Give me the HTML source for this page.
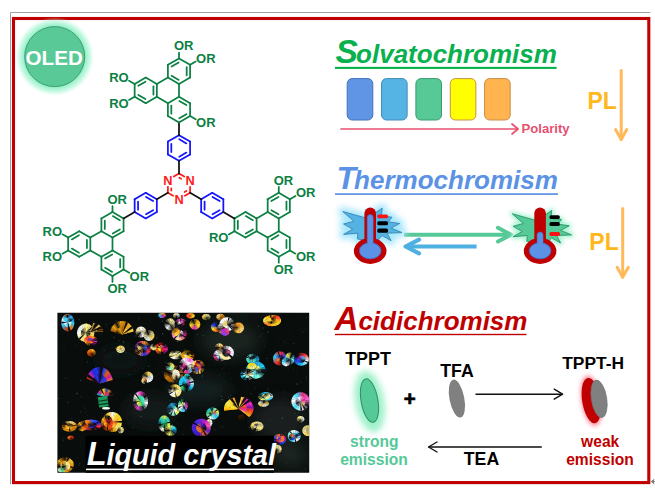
<!DOCTYPE html>
<html><head><meta charset="utf-8"><title>TPPT graphical abstract</title>
<style>html,body{margin:0;padding:0;background:#fff;}svg{display:block}text{white-space:pre}</style></head>
<body>
<svg width="655" height="491" viewBox="0 0 655 491" font-family="'Liberation Sans', sans-serif">
<path d="M10.5 484.3 V12.5 H650.4" fill="none" stroke="#a0a0a0" stroke-width="1"/>
<rect x="13.5" y="18.5" width="635.3" height="464.1" fill="none" stroke="#c00000" stroke-width="3.1"/>
<path d="M651.2 481.5 L654 479.5 L653.3 481.5 L654 483.7 Z M653 481.5 L655 481.5" stroke="#777" stroke-width="0.8" fill="#777"/>
<defs>
<radialGradient id="gOled" cx="0.5" cy="0.5" r="0.5"><stop offset="0.78" stop-color="#8ff0c4" stop-opacity="0.95"/><stop offset="0.9" stop-color="#a8f5d4" stop-opacity="0.55"/><stop offset="1" stop-color="#c8fbe6" stop-opacity="0"/></radialGradient>
<filter id="blur1" x="-30%" y="-30%" width="160%" height="160%"><feGaussianBlur stdDeviation="2.2"/></filter>
<filter id="blur2" x="-30%" y="-30%" width="160%" height="160%"><feGaussianBlur stdDeviation="3"/></filter>
<filter id="blur05" x="-30%" y="-30%" width="160%" height="160%"><feGaussianBlur stdDeviation="0.5"/></filter>
</defs>
<circle cx="54.7" cy="56.6" r="39.5" fill="url(#gOled)"/>
<circle cx="54.7" cy="56.6" r="30" fill="#59c998" stroke="#3f9d74" stroke-width="1"/>
<text x="54.2" y="64.6" font-family="'Liberation Sans', sans-serif" font-size="20.6" font-weight="bold" fill="#fff" text-anchor="middle">OLED</text>
<text aria-label="Solvatochromism" x="335.6" y="63.2" font-size="33.5" font-family="'Liberation Sans', sans-serif" font-style="italic" font-weight="bold" fill="#08b04e">S<tspan x="356.1" font-size="26">olvatochromism</tspan></text>
<rect x="335" y="66.85000000000001" width="221.60000000000002" height="2.1" fill="#08b04e"/>
<text aria-label="Thermochromism" x="336.6" y="189.2" font-size="32" font-family="'Liberation Sans', sans-serif" font-style="italic" font-weight="bold" fill="#5b92e5">T<tspan x="354.1" font-size="26">hermochromism</tspan></text>
<rect x="335" y="193.25" width="223" height="1.7" fill="#5b92e5"/>
<text aria-label="Acidichromism" x="334.5" y="329.8" font-size="33" font-family="'Liberation Sans', sans-serif" font-style="italic" font-weight="bold" fill="#c00000">A<tspan x="358.4" font-size="26">cidichromism</tspan></text>
<rect x="335" y="333.8" width="191.5" height="1.4" fill="#c00000"/>
<rect x="347.20" y="78.6" width="25.6" height="41.4" rx="5" ry="5" fill="#6095e6" stroke="#4370b6" stroke-width="1"/>
<rect x="381.55" y="78.6" width="25.6" height="41.4" rx="5" ry="5" fill="#56b4e4" stroke="#3e8cb8" stroke-width="1"/>
<rect x="415.90" y="78.6" width="25.6" height="41.4" rx="5" ry="5" fill="#56c997" stroke="#3a9a6e" stroke-width="1"/>
<rect x="450.25" y="78.6" width="25.6" height="41.4" rx="5" ry="5" fill="#ffff00" stroke="#c8904a" stroke-width="1"/>
<rect x="484.60" y="78.6" width="25.6" height="41.4" rx="5" ry="5" fill="#ffb450" stroke="#c88c46" stroke-width="1"/>
<g stroke="#e8506e" stroke-width="1.7" fill="none" stroke-linecap="round" stroke-linejoin="round"><path d="M341 129 H517.5"/><path d="M512 124 L518 129 L512 134"/></g>
<text x="521.6" y="132.5" font-family="'Liberation Sans', sans-serif" font-size="13.1" font-weight="bold" fill="#e8506e">Polarity</text>
<text x="587.5" y="108.9" font-family="'Liberation Sans', sans-serif" font-size="23.8" font-weight="bold" fill="#ffb81c" textLength="29.4" lengthAdjust="spacingAndGlyphs">PL</text>
<g stroke="#ffb95a" stroke-width="3" fill="none" stroke-linecap="round" stroke-linejoin="round"><path d="M621.2 70.5 V139.3"/><path d="M615.6 129.60000000000002 L621.2 139.60000000000002 L626.8000000000001 129.60000000000002"/></g>
<text x="589.3" y="250.4" font-family="'Liberation Sans', sans-serif" font-size="23.8" font-weight="bold" fill="#ffb81c" textLength="29.4" lengthAdjust="spacingAndGlyphs">PL</text>
<g stroke="#ffb95a" stroke-width="3" fill="none" stroke-linecap="round" stroke-linejoin="round"><path d="M622.7 208.5 V276.9"/><path d="M617.1 267.2 L622.7 277.2 L628.3000000000001 267.2"/></g>
<g stroke="#55c997" stroke-width="4" fill="none" stroke-linecap="round" stroke-linejoin="round"><path d="M404 234.7 H510" stroke-linecap="butt"/><path d="M498 227.8 L511 234.7 L498 241.6"/></g>
<g stroke="#4fb0e2" stroke-width="4.2" fill="none" stroke-linecap="round" stroke-linejoin="round"><path d="M406 246.5 H476.6" stroke-linecap="butt"/><path d="M419 239.6 L405.5 246.5 L419 253.4"/></g>
<path d="M366.0 218.0 L342.8 211.5 L353.9 221.2 L343.6 224.0 L352.7 229.2 L343.6 234.4 L357.9 233.2 L357.3 238.9 L364.0 240.0 L378.0 240.0 L382.0 235.5 L391.1 240.7 L387.1 233.2 L402.0 232.6 L391.1 228.1 L399.7 223.5 L388.2 221.8 L392.0 217.2 L381.4 216.0 L382.2 208.2 L375.0 213.0Z" fill="#a6e6fb" stroke="#a6e6fb" stroke-width="9" stroke-linejoin="round" filter="url(#blur2)"/>
<path d="M366.0 218.0 L342.8 211.5 L353.9 221.2 L343.6 224.0 L352.7 229.2 L343.6 234.4 L357.9 233.2 L357.3 238.9 L364.0 240.0 L378.0 240.0 L382.0 235.5 L391.1 240.7 L387.1 233.2 L402.0 232.6 L391.1 228.1 L399.7 223.5 L388.2 221.8 L392.0 217.2 L381.4 216.0 L382.2 208.2 L375.0 213.0Z" fill="#55b3e3" stroke="#3a86b4" stroke-width="0.9" stroke-linejoin="miter"/>
<rect x="364.4" y="207.6" width="11.6" height="40" rx="5.8" fill="#c00000"/>
<ellipse cx="370.2" cy="251" rx="16.3" ry="12.9" fill="#c00000"/>
<rect x="367.3" y="214.6" width="5.8" height="35.400000000000006" rx="2.9" fill="#5b92e5" stroke="#3f6fc4" stroke-width="0.8"/>
<ellipse cx="370.2" cy="250.8" rx="10.8" ry="8.1" fill="#5b92e5" stroke="#3f6fc4" stroke-width="0.8"/>
<rect x="367.7" y="216.6" width="5" height="31.400000000000006" fill="#5b92e5"/>
<rect x="377.3" y="214.4" width="10.699999999999989" height="3.9000000000000057" rx="1.6" fill="#ff1010"/>
<rect x="377.3" y="221.2" width="10.699999999999989" height="4.100000000000023" rx="1.6" fill="#000"/>
<rect x="377.3" y="228.5" width="10.699999999999989" height="4.300000000000011" rx="1.6" fill="#000"/>
<path d="M535.5 220.3 L512.3 213.8 L523.4 223.5 L513.1 226.3 L522.2 231.5 L513.1 236.7 L527.4 235.5 L526.8 241.2 L533.5 242.3 L547.5 242.3 L551.5 237.8 L560.6 243.0 L556.6 235.5 L571.5 234.9 L560.6 230.4 L569.2 225.8 L557.7 224.1 L561.5 219.5 L550.9 218.3 L551.7 210.5 L544.5 215.3Z" fill="#a8f3d2" stroke="#a8f3d2" stroke-width="5" stroke-linejoin="round" filter="url(#blur1)"/>
<path d="M535.5 220.3 L512.3 213.8 L523.4 223.5 L513.1 226.3 L522.2 231.5 L513.1 236.7 L527.4 235.5 L526.8 241.2 L533.5 242.3 L547.5 242.3 L551.5 237.8 L560.6 243.0 L556.6 235.5 L571.5 234.9 L560.6 230.4 L569.2 225.8 L557.7 224.1 L561.5 219.5 L550.9 218.3 L551.7 210.5 L544.5 215.3Z" fill="#55c997" stroke="#2f9468" stroke-width="0.9" stroke-linejoin="miter"/>
<rect x="534.3000000000001" y="207.6" width="11.6" height="40" rx="5.8" fill="#c00000"/>
<ellipse cx="540.1" cy="251" rx="16.3" ry="12.9" fill="#c00000"/>
<rect x="537.2" y="232.0" width="5.8" height="18.0" rx="2.9" fill="#5b92e5" stroke="#3f6fc4" stroke-width="0.8"/>
<ellipse cx="540.1" cy="250.8" rx="10.8" ry="8.1" fill="#5b92e5" stroke="#3f6fc4" stroke-width="0.8"/>
<rect x="537.6" y="234.0" width="5" height="14.0" fill="#5b92e5"/>
<rect x="549.5" y="215.2" width="10.299999999999955" height="3.9000000000000057" rx="1.6" fill="#000"/>
<rect x="549.5" y="222.1" width="10.299999999999955" height="4.0" rx="1.6" fill="#000"/>
<rect x="549.5" y="232" width="10.5" height="4.099999999999994" rx="1.6" fill="#ff1010"/>
<text id="" x="345.2" y="364.7" font-family="'Liberation Sans', sans-serif" font-size="17.9" font-weight="bold" fill="#000" text-anchor="start">TPPT</text>
<text id="" x="440.3" y="376.6" font-family="'Liberation Sans', sans-serif" font-size="17.7" font-weight="bold" fill="#000" text-anchor="start">TFA</text>
<text id="" x="562.2" y="369.4" font-family="'Liberation Sans', sans-serif" font-size="17.4" font-weight="bold" fill="#000" text-anchor="start">TPPT-H</text>
<text id="" x="463.8" y="464.9" font-family="'Liberation Sans', sans-serif" font-size="17.7" font-weight="bold" fill="#000" text-anchor="start">TEA</text>
<text x="409.8" y="405.9" font-family="'Liberation Sans', sans-serif" font-size="20.5" font-weight="bold" fill="#000" stroke="#000" stroke-width="0.7" text-anchor="middle">+</text>
<text id="" x="374.3" y="447.0" font-family="'Liberation Sans', sans-serif" font-size="15.6" font-weight="bold" fill="#55c997" text-anchor="middle">strong</text>
<text id="" x="374.0" y="464.9" font-family="'Liberation Sans', sans-serif" font-size="15.6" font-weight="bold" fill="#55c997" text-anchor="middle">emission</text>
<text id="" x="600.2" y="447.0" font-family="'Liberation Sans', sans-serif" font-size="15.6" font-weight="bold" fill="#c00000" text-anchor="middle">weak</text>
<text id="" x="600.0" y="464.9" font-family="'Liberation Sans', sans-serif" font-size="15.6" font-weight="bold" fill="#c00000" text-anchor="middle">emission</text>
<ellipse cx="369.4" cy="401.5" rx="14.5" ry="31" fill="#9ff1ca" filter="url(#blur2)" transform="rotate(-10 369.4 400)"/>
<ellipse cx="369.4" cy="400.6" rx="8.4" ry="22" fill="#55c997" stroke="#2f8e63" stroke-width="1" transform="rotate(-10 369.4 400)"/>
<ellipse cx="456.9" cy="398.6" rx="7.4" ry="19.3" fill="#808080" transform="rotate(-11 456.9 398.6)"/>
<ellipse cx="591.4" cy="400.8" rx="10" ry="25.5" fill="#ff6a80" opacity="0.8" filter="url(#blur1)" transform="rotate(-9 591.2 400.8)"/>
<ellipse cx="591.4" cy="400.6" rx="9.2" ry="22.9" fill="#c00000" transform="rotate(-9 591.2 400.8)"/>
<ellipse cx="599" cy="398.8" rx="7.7" ry="19" fill="#808080" stroke="#6f7878" stroke-width="0.7" transform="rotate(-9 599.2 398.6)"/>
<g stroke="#111" stroke-width="1.4" fill="none" stroke-linecap="round" stroke-linejoin="round"><path d="M476 394.2 H562"/><path d="M554.2 389.2 L562.6 394.2 L554.2 399.2"/><path d="M541.3 447 H429"/><path d="M437 442 L428.5 447 L437 452"/></g>
<g id="mol" stroke-linecap="round" font-family="'Liberation Sans', sans-serif">
<line x1="179.00" y1="173.60" x2="184.20" y2="176.60" stroke="#ff1a1a" stroke-width="1.75"/>
<line x1="179.29" y1="177.69" x2="181.11" y2="178.74" stroke="#ff1a1a" stroke-width="1.75"/>
<line x1="190.09" y1="186.80" x2="190.09" y2="192.80" stroke="#ff1a1a" stroke-width="1.75"/>
<line x1="190.09" y1="192.80" x2="184.89" y2="195.80" stroke="#ff1a1a" stroke-width="1.75"/>
<line x1="186.39" y1="191.01" x2="184.57" y2="192.06" stroke="#ff1a1a" stroke-width="1.75"/>
<line x1="173.11" y1="195.80" x2="167.91" y2="192.80" stroke="#ff1a1a" stroke-width="1.75"/>
<line x1="167.91" y1="192.80" x2="167.91" y2="186.80" stroke="#ff1a1a" stroke-width="1.75"/>
<line x1="171.31" y1="190.50" x2="171.31" y2="188.40" stroke="#ff1a1a" stroke-width="1.75"/>
<line x1="173.80" y1="176.60" x2="179.00" y2="173.60" stroke="#ff1a1a" stroke-width="1.75"/>
<text x="190.09" y="185.00" fill="#ff1a1a" font-size="12.8" font-weight="bold" text-anchor="middle">N</text>
<text x="179.00" y="204.20" fill="#ff1a1a" font-size="12.8" font-weight="bold" text-anchor="middle">N</text>
<text x="167.91" y="185.00" fill="#ff1a1a" font-size="12.8" font-weight="bold" text-anchor="middle">N</text>
<line x1="179.00" y1="135.20" x2="190.09" y2="141.60" stroke="#1414ff" stroke-width="1.75"/>
<line x1="179.29" y1="139.29" x2="186.39" y2="143.39" stroke="#1414ff" stroke-width="1.75"/>
<line x1="190.09" y1="141.60" x2="190.09" y2="154.40" stroke="#1414ff" stroke-width="1.75"/>
<line x1="190.09" y1="154.40" x2="179.00" y2="160.80" stroke="#1414ff" stroke-width="1.75"/>
<line x1="186.39" y1="152.61" x2="179.29" y2="156.71" stroke="#1414ff" stroke-width="1.75"/>
<line x1="179.00" y1="160.80" x2="167.91" y2="154.40" stroke="#1414ff" stroke-width="1.75"/>
<line x1="167.91" y1="154.40" x2="167.91" y2="141.60" stroke="#1414ff" stroke-width="1.75"/>
<line x1="171.31" y1="152.10" x2="171.31" y2="143.90" stroke="#1414ff" stroke-width="1.75"/>
<line x1="167.91" y1="141.60" x2="179.00" y2="135.20" stroke="#1414ff" stroke-width="1.75"/>
<line x1="179.00" y1="173.60" x2="179.00" y2="160.80" stroke="#111111" stroke-width="1.75"/>
<line x1="179.00" y1="135.20" x2="179.00" y2="122.40" stroke="#111111" stroke-width="1.75"/>
<line x1="179.00" y1="96.80" x2="190.09" y2="103.20" stroke="#0b8043" stroke-width="1.75"/>
<line x1="179.29" y1="100.89" x2="186.39" y2="104.99" stroke="#0b8043" stroke-width="1.75"/>
<line x1="190.09" y1="103.20" x2="190.09" y2="116.00" stroke="#0b8043" stroke-width="1.75"/>
<line x1="190.09" y1="116.00" x2="179.00" y2="122.40" stroke="#0b8043" stroke-width="1.75"/>
<line x1="186.39" y1="114.21" x2="179.29" y2="118.31" stroke="#0b8043" stroke-width="1.75"/>
<line x1="179.00" y1="122.40" x2="167.91" y2="116.00" stroke="#0b8043" stroke-width="1.75"/>
<line x1="167.91" y1="116.00" x2="167.91" y2="103.20" stroke="#0b8043" stroke-width="1.75"/>
<line x1="171.31" y1="113.70" x2="171.31" y2="105.50" stroke="#0b8043" stroke-width="1.75"/>
<line x1="167.91" y1="103.20" x2="179.00" y2="96.80" stroke="#0b8043" stroke-width="1.75"/>
<line x1="179.00" y1="58.40" x2="190.09" y2="64.80" stroke="#0b8043" stroke-width="1.75"/>
<line x1="190.09" y1="64.80" x2="190.09" y2="77.60" stroke="#0b8043" stroke-width="1.75"/>
<line x1="186.69" y1="67.10" x2="186.69" y2="75.30" stroke="#0b8043" stroke-width="1.75"/>
<line x1="190.09" y1="77.60" x2="179.00" y2="84.00" stroke="#0b8043" stroke-width="1.75"/>
<line x1="179.00" y1="84.00" x2="167.91" y2="77.60" stroke="#0b8043" stroke-width="1.75"/>
<line x1="178.71" y1="79.91" x2="171.61" y2="75.81" stroke="#0b8043" stroke-width="1.75"/>
<line x1="167.91" y1="77.60" x2="167.91" y2="64.80" stroke="#0b8043" stroke-width="1.75"/>
<line x1="167.91" y1="64.80" x2="179.00" y2="58.40" stroke="#0b8043" stroke-width="1.75"/>
<line x1="171.61" y1="66.59" x2="178.71" y2="62.49" stroke="#0b8043" stroke-width="1.75"/>
<line x1="145.74" y1="77.60" x2="156.83" y2="84.00" stroke="#0b8043" stroke-width="1.75"/>
<line x1="156.83" y1="84.00" x2="156.83" y2="96.80" stroke="#0b8043" stroke-width="1.75"/>
<line x1="153.43" y1="86.30" x2="153.43" y2="94.50" stroke="#0b8043" stroke-width="1.75"/>
<line x1="156.83" y1="96.80" x2="145.74" y2="103.20" stroke="#0b8043" stroke-width="1.75"/>
<line x1="145.74" y1="103.20" x2="134.66" y2="96.80" stroke="#0b8043" stroke-width="1.75"/>
<line x1="145.45" y1="99.11" x2="138.35" y2="95.01" stroke="#0b8043" stroke-width="1.75"/>
<line x1="134.66" y1="96.80" x2="134.66" y2="84.00" stroke="#0b8043" stroke-width="1.75"/>
<line x1="134.66" y1="84.00" x2="145.74" y2="77.60" stroke="#0b8043" stroke-width="1.75"/>
<line x1="138.35" y1="85.79" x2="145.45" y2="81.69" stroke="#0b8043" stroke-width="1.75"/>
<line x1="179.00" y1="84.00" x2="179.00" y2="96.80" stroke="#0b8043" stroke-width="1.75"/>
<line x1="167.91" y1="77.60" x2="156.83" y2="84.00" stroke="#0b8043" stroke-width="1.75"/>
<line x1="167.91" y1="103.20" x2="156.83" y2="96.80" stroke="#0b8043" stroke-width="1.75"/>
<line x1="179.00" y1="58.40" x2="179.00" y2="52.50" stroke="#0b8043" stroke-width="1.75"/>
<text x="173.94" y="50.20" fill="#0b8043" font-size="13.0" font-weight="bold">OR</text>
<line x1="190.09" y1="64.80" x2="195.71" y2="61.55" stroke="#0b8043" stroke-width="1.75"/>
<text x="196.11" y="63.00" fill="#0b8043" font-size="13.0" font-weight="bold">OR</text>
<line x1="134.66" y1="84.00" x2="129.03" y2="80.75" stroke="#0b8043" stroke-width="1.75"/>
<text x="128.63" y="82.20" fill="#0b8043" font-size="13.0" font-weight="bold" text-anchor="end">RO</text>
<line x1="134.66" y1="96.80" x2="129.03" y2="100.05" stroke="#0b8043" stroke-width="1.75"/>
<text x="128.63" y="107.80" fill="#0b8043" font-size="13.0" font-weight="bold" text-anchor="end">RO</text>
<line x1="190.09" y1="116.00" x2="195.71" y2="119.25" stroke="#0b8043" stroke-width="1.75"/>
<text x="196.11" y="127.00" fill="#0b8043" font-size="13.0" font-weight="bold">OR</text>
<line x1="145.74" y1="192.80" x2="156.83" y2="199.20" stroke="#1414ff" stroke-width="1.75"/>
<line x1="146.04" y1="196.89" x2="153.14" y2="200.99" stroke="#1414ff" stroke-width="1.75"/>
<line x1="156.83" y1="199.20" x2="156.83" y2="212.00" stroke="#1414ff" stroke-width="1.75"/>
<line x1="156.83" y1="212.00" x2="145.74" y2="218.40" stroke="#1414ff" stroke-width="1.75"/>
<line x1="153.14" y1="210.21" x2="146.04" y2="214.31" stroke="#1414ff" stroke-width="1.75"/>
<line x1="145.74" y1="218.40" x2="134.66" y2="212.00" stroke="#1414ff" stroke-width="1.75"/>
<line x1="134.66" y1="212.00" x2="134.66" y2="199.20" stroke="#1414ff" stroke-width="1.75"/>
<line x1="138.06" y1="209.70" x2="138.06" y2="201.50" stroke="#1414ff" stroke-width="1.75"/>
<line x1="134.66" y1="199.20" x2="145.74" y2="192.80" stroke="#1414ff" stroke-width="1.75"/>
<line x1="167.91" y1="192.80" x2="156.83" y2="199.20" stroke="#111111" stroke-width="1.75"/>
<line x1="112.49" y1="212.00" x2="123.57" y2="218.40" stroke="#0b8043" stroke-width="1.75"/>
<line x1="112.78" y1="216.09" x2="119.88" y2="220.19" stroke="#0b8043" stroke-width="1.75"/>
<line x1="123.57" y1="218.40" x2="123.57" y2="231.20" stroke="#0b8043" stroke-width="1.75"/>
<line x1="123.57" y1="231.20" x2="112.49" y2="237.60" stroke="#0b8043" stroke-width="1.75"/>
<line x1="119.88" y1="229.41" x2="112.78" y2="233.51" stroke="#0b8043" stroke-width="1.75"/>
<line x1="112.49" y1="237.60" x2="101.40" y2="231.20" stroke="#0b8043" stroke-width="1.75"/>
<line x1="101.40" y1="231.20" x2="101.40" y2="218.40" stroke="#0b8043" stroke-width="1.75"/>
<line x1="104.80" y1="228.90" x2="104.80" y2="220.70" stroke="#0b8043" stroke-width="1.75"/>
<line x1="101.40" y1="218.40" x2="112.49" y2="212.00" stroke="#0b8043" stroke-width="1.75"/>
<line x1="134.66" y1="212.00" x2="123.57" y2="218.40" stroke="#111111" stroke-width="1.75"/>
<line x1="112.49" y1="250.40" x2="123.57" y2="256.80" stroke="#0b8043" stroke-width="1.75"/>
<line x1="123.57" y1="256.80" x2="123.57" y2="269.60" stroke="#0b8043" stroke-width="1.75"/>
<line x1="120.17" y1="259.10" x2="120.17" y2="267.30" stroke="#0b8043" stroke-width="1.75"/>
<line x1="123.57" y1="269.60" x2="112.49" y2="276.00" stroke="#0b8043" stroke-width="1.75"/>
<line x1="112.49" y1="276.00" x2="101.40" y2="269.60" stroke="#0b8043" stroke-width="1.75"/>
<line x1="112.20" y1="271.91" x2="105.10" y2="267.81" stroke="#0b8043" stroke-width="1.75"/>
<line x1="101.40" y1="269.60" x2="101.40" y2="256.80" stroke="#0b8043" stroke-width="1.75"/>
<line x1="101.40" y1="256.80" x2="112.49" y2="250.40" stroke="#0b8043" stroke-width="1.75"/>
<line x1="105.10" y1="258.59" x2="112.20" y2="254.49" stroke="#0b8043" stroke-width="1.75"/>
<line x1="79.23" y1="231.20" x2="90.32" y2="237.60" stroke="#0b8043" stroke-width="1.75"/>
<line x1="90.32" y1="237.60" x2="90.32" y2="250.40" stroke="#0b8043" stroke-width="1.75"/>
<line x1="86.92" y1="239.90" x2="86.92" y2="248.10" stroke="#0b8043" stroke-width="1.75"/>
<line x1="90.32" y1="250.40" x2="79.23" y2="256.80" stroke="#0b8043" stroke-width="1.75"/>
<line x1="79.23" y1="256.80" x2="68.15" y2="250.40" stroke="#0b8043" stroke-width="1.75"/>
<line x1="78.94" y1="252.71" x2="71.84" y2="248.61" stroke="#0b8043" stroke-width="1.75"/>
<line x1="68.15" y1="250.40" x2="68.15" y2="237.60" stroke="#0b8043" stroke-width="1.75"/>
<line x1="68.15" y1="237.60" x2="79.23" y2="231.20" stroke="#0b8043" stroke-width="1.75"/>
<line x1="71.84" y1="239.39" x2="78.94" y2="235.29" stroke="#0b8043" stroke-width="1.75"/>
<line x1="112.49" y1="237.60" x2="112.49" y2="250.40" stroke="#0b8043" stroke-width="1.75"/>
<line x1="101.40" y1="231.20" x2="90.32" y2="237.60" stroke="#0b8043" stroke-width="1.75"/>
<line x1="101.40" y1="256.80" x2="90.32" y2="250.40" stroke="#0b8043" stroke-width="1.75"/>
<line x1="112.49" y1="212.00" x2="112.49" y2="206.10" stroke="#0b8043" stroke-width="1.75"/>
<text x="107.43" y="203.80" fill="#0b8043" font-size="13.0" font-weight="bold">OR</text>
<line x1="68.15" y1="237.60" x2="62.52" y2="234.35" stroke="#0b8043" stroke-width="1.75"/>
<text x="62.12" y="235.80" fill="#0b8043" font-size="13.0" font-weight="bold" text-anchor="end">RO</text>
<line x1="68.15" y1="250.40" x2="62.52" y2="253.65" stroke="#0b8043" stroke-width="1.75"/>
<text x="62.12" y="261.40" fill="#0b8043" font-size="13.0" font-weight="bold" text-anchor="end">RO</text>
<line x1="123.57" y1="269.60" x2="129.20" y2="272.85" stroke="#0b8043" stroke-width="1.75"/>
<text x="129.60" y="280.60" fill="#0b8043" font-size="13.0" font-weight="bold">OR</text>
<line x1="112.49" y1="276.00" x2="112.49" y2="281.90" stroke="#0b8043" stroke-width="1.75"/>
<text x="107.43" y="293.40" fill="#0b8043" font-size="13.0" font-weight="bold">OR</text>
<line x1="212.26" y1="192.80" x2="223.34" y2="199.20" stroke="#1414ff" stroke-width="1.75"/>
<line x1="212.55" y1="196.89" x2="219.65" y2="200.99" stroke="#1414ff" stroke-width="1.75"/>
<line x1="223.34" y1="199.20" x2="223.34" y2="212.00" stroke="#1414ff" stroke-width="1.75"/>
<line x1="223.34" y1="212.00" x2="212.26" y2="218.40" stroke="#1414ff" stroke-width="1.75"/>
<line x1="219.65" y1="210.21" x2="212.55" y2="214.31" stroke="#1414ff" stroke-width="1.75"/>
<line x1="212.26" y1="218.40" x2="201.17" y2="212.00" stroke="#1414ff" stroke-width="1.75"/>
<line x1="201.17" y1="212.00" x2="201.17" y2="199.20" stroke="#1414ff" stroke-width="1.75"/>
<line x1="204.57" y1="209.70" x2="204.57" y2="201.50" stroke="#1414ff" stroke-width="1.75"/>
<line x1="201.17" y1="199.20" x2="212.26" y2="192.80" stroke="#1414ff" stroke-width="1.75"/>
<line x1="190.09" y1="192.80" x2="201.17" y2="199.20" stroke="#111111" stroke-width="1.75"/>
<line x1="245.51" y1="212.00" x2="256.60" y2="218.40" stroke="#0b8043" stroke-width="1.75"/>
<line x1="245.80" y1="216.09" x2="252.90" y2="220.19" stroke="#0b8043" stroke-width="1.75"/>
<line x1="256.60" y1="218.40" x2="256.60" y2="231.20" stroke="#0b8043" stroke-width="1.75"/>
<line x1="256.60" y1="231.20" x2="245.51" y2="237.60" stroke="#0b8043" stroke-width="1.75"/>
<line x1="252.90" y1="229.41" x2="245.80" y2="233.51" stroke="#0b8043" stroke-width="1.75"/>
<line x1="245.51" y1="237.60" x2="234.43" y2="231.20" stroke="#0b8043" stroke-width="1.75"/>
<line x1="234.43" y1="231.20" x2="234.43" y2="218.40" stroke="#0b8043" stroke-width="1.75"/>
<line x1="237.83" y1="228.90" x2="237.83" y2="220.70" stroke="#0b8043" stroke-width="1.75"/>
<line x1="234.43" y1="218.40" x2="245.51" y2="212.00" stroke="#0b8043" stroke-width="1.75"/>
<line x1="223.34" y1="212.00" x2="234.43" y2="218.40" stroke="#111111" stroke-width="1.75"/>
<line x1="278.77" y1="192.80" x2="289.85" y2="199.20" stroke="#0b8043" stroke-width="1.75"/>
<line x1="289.85" y1="199.20" x2="289.85" y2="212.00" stroke="#0b8043" stroke-width="1.75"/>
<line x1="286.45" y1="201.50" x2="286.45" y2="209.70" stroke="#0b8043" stroke-width="1.75"/>
<line x1="289.85" y1="212.00" x2="278.77" y2="218.40" stroke="#0b8043" stroke-width="1.75"/>
<line x1="278.77" y1="218.40" x2="267.68" y2="212.00" stroke="#0b8043" stroke-width="1.75"/>
<line x1="278.47" y1="214.31" x2="271.37" y2="210.21" stroke="#0b8043" stroke-width="1.75"/>
<line x1="267.68" y1="212.00" x2="267.68" y2="199.20" stroke="#0b8043" stroke-width="1.75"/>
<line x1="267.68" y1="199.20" x2="278.77" y2="192.80" stroke="#0b8043" stroke-width="1.75"/>
<line x1="271.37" y1="200.99" x2="278.47" y2="196.89" stroke="#0b8043" stroke-width="1.75"/>
<line x1="278.77" y1="231.20" x2="289.85" y2="237.60" stroke="#0b8043" stroke-width="1.75"/>
<line x1="289.85" y1="237.60" x2="289.85" y2="250.40" stroke="#0b8043" stroke-width="1.75"/>
<line x1="286.45" y1="239.90" x2="286.45" y2="248.10" stroke="#0b8043" stroke-width="1.75"/>
<line x1="289.85" y1="250.40" x2="278.77" y2="256.80" stroke="#0b8043" stroke-width="1.75"/>
<line x1="278.77" y1="256.80" x2="267.68" y2="250.40" stroke="#0b8043" stroke-width="1.75"/>
<line x1="278.47" y1="252.71" x2="271.37" y2="248.61" stroke="#0b8043" stroke-width="1.75"/>
<line x1="267.68" y1="250.40" x2="267.68" y2="237.60" stroke="#0b8043" stroke-width="1.75"/>
<line x1="267.68" y1="237.60" x2="278.77" y2="231.20" stroke="#0b8043" stroke-width="1.75"/>
<line x1="271.37" y1="239.39" x2="278.47" y2="235.29" stroke="#0b8043" stroke-width="1.75"/>
<line x1="278.77" y1="218.40" x2="278.77" y2="231.20" stroke="#0b8043" stroke-width="1.75"/>
<line x1="267.68" y1="212.00" x2="256.60" y2="218.40" stroke="#0b8043" stroke-width="1.75"/>
<line x1="267.68" y1="237.60" x2="256.60" y2="231.20" stroke="#0b8043" stroke-width="1.75"/>
<line x1="234.43" y1="231.20" x2="228.80" y2="234.45" stroke="#0b8043" stroke-width="1.75"/>
<text x="228.40" y="242.20" fill="#0b8043" font-size="13.0" font-weight="bold" text-anchor="end">RO</text>
<line x1="278.77" y1="192.80" x2="278.77" y2="186.90" stroke="#0b8043" stroke-width="1.75"/>
<text x="273.71" y="184.60" fill="#0b8043" font-size="13.0" font-weight="bold">OR</text>
<line x1="289.85" y1="199.20" x2="295.48" y2="195.95" stroke="#0b8043" stroke-width="1.75"/>
<text x="295.88" y="197.40" fill="#0b8043" font-size="13.0" font-weight="bold">OR</text>
<line x1="289.85" y1="250.40" x2="295.48" y2="253.65" stroke="#0b8043" stroke-width="1.75"/>
<text x="295.88" y="261.40" fill="#0b8043" font-size="13.0" font-weight="bold">OR</text>
<line x1="278.77" y1="256.80" x2="278.77" y2="262.70" stroke="#0b8043" stroke-width="1.75"/>
<text x="273.71" y="274.20" fill="#0b8043" font-size="13.0" font-weight="bold">OR</text>
</g>
<defs><clipPath id="lcclip"><rect x="57.4" y="312.7" width="251.8" height="160.1"/></clipPath><filter id="lcb" x="-5%" y="-5%" width="110%" height="110%"><feGaussianBlur stdDeviation="0.6"/></filter><filter id="lcbg" x="-20%" y="-20%" width="140%" height="140%"><feGaussianBlur stdDeviation="7"/></filter></defs>
<g clip-path="url(#lcclip)">
<rect x="57" y="312" width="253" height="161" fill="#090e0c"/>
<g filter="url(#lcbg)" opacity="0.9">
<ellipse cx="230" cy="340" rx="30" ry="18" fill="#1c2624"/>
<ellipse cx="280" cy="420" rx="26" ry="22" fill="#1a2422"/>
<ellipse cx="150" cy="410" rx="26" ry="16" fill="#141c1a"/>
<ellipse cx="200" cy="390" rx="30" ry="14" fill="#182220"/>
<ellipse cx="120" cy="360" rx="24" ry="14" fill="#101614"/>
<ellipse cx="290" cy="455" rx="18" ry="14" fill="#1c2824"/>
<ellipse cx="250" cy="300" rx="40" ry="14" fill="#141c1a"/>
</g>
<g opacity="0.8"><circle cx="139.0" cy="337.0" r="0.63" fill="#2c4c4a"/><circle cx="263.3" cy="328.0" r="0.59" fill="#486a66"/><circle cx="111.7" cy="326.7" r="0.51" fill="#1e3a3c"/><circle cx="80.7" cy="380.5" r="0.71" fill="#2c4c4a"/><circle cx="294.9" cy="413.3" r="0.59" fill="#2c4c4a"/><circle cx="202.3" cy="376.1" r="0.79" fill="#2c4c4a"/><circle cx="197.2" cy="334.2" r="0.51" fill="#486a66"/><circle cx="87.4" cy="362.0" r="0.71" fill="#1e3a3c"/><circle cx="83.8" cy="403.8" r="0.39" fill="#2c4c4a"/><circle cx="194.9" cy="323.0" r="0.33" fill="#1e3a3c"/><circle cx="182.1" cy="397.5" r="0.69" fill="#243c38"/><circle cx="204.4" cy="385.1" r="0.45" fill="#1e3a3c"/><circle cx="232.7" cy="351.8" r="0.59" fill="#486a66"/><circle cx="181.8" cy="367.6" r="0.52" fill="#486a66"/><circle cx="303.0" cy="331.8" r="0.51" fill="#35605c"/><circle cx="96.0" cy="390.7" r="0.32" fill="#2c4c4a"/><circle cx="249.1" cy="404.1" r="0.74" fill="#35605c"/><circle cx="143.0" cy="368.7" r="0.55" fill="#243c38"/><circle cx="75.2" cy="327.9" r="0.43" fill="#2c4c4a"/><circle cx="73.2" cy="424.5" r="0.62" fill="#243c38"/><circle cx="129.1" cy="374.3" r="0.63" fill="#2c4c4a"/><circle cx="293.2" cy="369.5" r="0.61" fill="#243c38"/><circle cx="72.7" cy="435.1" r="0.36" fill="#1e3a3c"/><circle cx="157.5" cy="458.8" r="0.55" fill="#1e3a3c"/><circle cx="170.3" cy="400.4" r="0.74" fill="#243c38"/><circle cx="274.0" cy="357.3" r="0.51" fill="#35605c"/><circle cx="228.7" cy="373.5" r="0.42" fill="#2c4c4a"/><circle cx="102.1" cy="349.9" r="0.42" fill="#243c38"/><circle cx="265.8" cy="342.0" r="0.44" fill="#1e3a3c"/><circle cx="162.7" cy="371.7" r="0.58" fill="#1e3a3c"/><circle cx="230.6" cy="395.0" r="0.61" fill="#2c4c4a"/><circle cx="172.2" cy="451.5" r="0.78" fill="#486a66"/><circle cx="156.1" cy="376.4" r="0.35" fill="#243c38"/><circle cx="73.6" cy="323.7" r="0.40" fill="#1e3a3c"/><circle cx="85.5" cy="408.5" r="0.35" fill="#486a66"/><circle cx="95.8" cy="329.1" r="0.48" fill="#2c4c4a"/><circle cx="75.6" cy="346.1" r="0.49" fill="#35605c"/><circle cx="296.9" cy="408.8" r="0.54" fill="#2c4c4a"/><circle cx="270.2" cy="470.9" r="0.53" fill="#243c38"/><circle cx="136.0" cy="335.9" r="0.67" fill="#35605c"/><circle cx="177.7" cy="423.0" r="0.56" fill="#1e3a3c"/><circle cx="295.7" cy="397.0" r="0.37" fill="#486a66"/><circle cx="286.5" cy="433.5" r="0.45" fill="#2c4c4a"/><circle cx="232.0" cy="354.5" r="0.48" fill="#1e3a3c"/><circle cx="146.9" cy="348.4" r="0.57" fill="#486a66"/><circle cx="140.4" cy="348.5" r="0.71" fill="#1e3a3c"/><circle cx="259.5" cy="443.1" r="0.67" fill="#1e3a3c"/><circle cx="108.0" cy="391.4" r="0.67" fill="#2c4c4a"/><circle cx="255.5" cy="388.1" r="0.40" fill="#486a66"/><circle cx="297.1" cy="384.1" r="0.77" fill="#35605c"/><circle cx="296.8" cy="371.0" r="0.41" fill="#1e3a3c"/><circle cx="175.5" cy="366.7" r="0.54" fill="#486a66"/><circle cx="268.1" cy="389.2" r="0.63" fill="#2c4c4a"/><circle cx="266.7" cy="332.1" r="0.49" fill="#1e3a3c"/><circle cx="177.5" cy="341.4" r="0.69" fill="#35605c"/><circle cx="79.7" cy="463.4" r="0.66" fill="#243c38"/><circle cx="158.3" cy="463.5" r="0.66" fill="#1e3a3c"/><circle cx="306.3" cy="317.4" r="0.60" fill="#243c38"/><circle cx="259.6" cy="336.2" r="0.71" fill="#243c38"/><circle cx="222.3" cy="368.7" r="0.57" fill="#1e3a3c"/><circle cx="63.3" cy="440.1" r="0.66" fill="#2c4c4a"/><circle cx="189.6" cy="461.4" r="0.52" fill="#1e3a3c"/><circle cx="264.5" cy="346.6" r="0.43" fill="#35605c"/><circle cx="183.3" cy="434.4" r="0.46" fill="#486a66"/><circle cx="162.8" cy="333.8" r="0.76" fill="#35605c"/><circle cx="282.4" cy="418.3" r="0.71" fill="#486a66"/><circle cx="163.2" cy="458.9" r="0.55" fill="#486a66"/><circle cx="96.0" cy="394.2" r="0.74" fill="#1e3a3c"/><circle cx="210.1" cy="436.4" r="0.37" fill="#1e3a3c"/><circle cx="176.4" cy="428.3" r="0.58" fill="#35605c"/><circle cx="228.6" cy="397.4" r="0.54" fill="#2c4c4a"/><circle cx="278.8" cy="322.0" r="0.40" fill="#2c4c4a"/><circle cx="251.1" cy="393.7" r="0.58" fill="#2c4c4a"/><circle cx="168.8" cy="410.4" r="0.55" fill="#486a66"/><circle cx="107.9" cy="357.1" r="0.55" fill="#243c38"/><circle cx="184.9" cy="352.4" r="0.56" fill="#35605c"/><circle cx="288.7" cy="454.9" r="0.40" fill="#243c38"/><circle cx="92.3" cy="332.3" r="0.52" fill="#2c4c4a"/><circle cx="225.8" cy="381.1" r="0.41" fill="#35605c"/><circle cx="254.0" cy="455.6" r="0.38" fill="#35605c"/><circle cx="93.7" cy="453.4" r="0.78" fill="#1e3a3c"/><circle cx="244.7" cy="328.0" r="0.74" fill="#1e3a3c"/><circle cx="305.5" cy="445.4" r="0.38" fill="#243c38"/><circle cx="306.5" cy="377.2" r="0.51" fill="#35605c"/><circle cx="137.6" cy="427.8" r="0.31" fill="#486a66"/><circle cx="172.7" cy="424.8" r="0.49" fill="#486a66"/><circle cx="214.0" cy="394.4" r="0.33" fill="#1e3a3c"/><circle cx="300.9" cy="329.7" r="0.43" fill="#2c4c4a"/><circle cx="284.5" cy="341.9" r="0.68" fill="#243c38"/><circle cx="270.4" cy="420.5" r="0.77" fill="#243c38"/><circle cx="95.3" cy="459.1" r="0.59" fill="#35605c"/><circle cx="80.4" cy="322.1" r="0.64" fill="#243c38"/><circle cx="281.8" cy="355.8" r="0.31" fill="#2c4c4a"/><circle cx="258.4" cy="326.3" r="0.73" fill="#2c4c4a"/><circle cx="124.1" cy="332.3" r="0.31" fill="#486a66"/><circle cx="162.4" cy="458.6" r="0.61" fill="#2c4c4a"/><circle cx="189.7" cy="350.9" r="0.35" fill="#1e3a3c"/><circle cx="123.5" cy="341.8" r="0.77" fill="#35605c"/><circle cx="190.8" cy="345.7" r="0.52" fill="#1e3a3c"/><circle cx="125.6" cy="440.8" r="0.80" fill="#2c4c4a"/><circle cx="61.8" cy="429.6" r="0.58" fill="#1e3a3c"/><circle cx="186.6" cy="352.1" r="0.52" fill="#243c38"/><circle cx="222.1" cy="399.8" r="0.74" fill="#486a66"/><circle cx="134.9" cy="347.2" r="0.41" fill="#1e3a3c"/><circle cx="266.1" cy="425.4" r="0.62" fill="#243c38"/><circle cx="305.4" cy="469.1" r="0.72" fill="#2c4c4a"/><circle cx="75.7" cy="430.8" r="0.43" fill="#1e3a3c"/><circle cx="71.9" cy="418.8" r="0.49" fill="#486a66"/><circle cx="225.6" cy="357.8" r="0.42" fill="#35605c"/><circle cx="69.3" cy="342.5" r="0.43" fill="#2c4c4a"/><circle cx="123.8" cy="465.9" r="0.79" fill="#486a66"/><circle cx="138.9" cy="318.5" r="0.74" fill="#1e3a3c"/><circle cx="147.1" cy="313.2" r="0.49" fill="#243c38"/><circle cx="127.7" cy="417.3" r="0.42" fill="#2c4c4a"/><circle cx="80.7" cy="442.9" r="0.37" fill="#486a66"/><circle cx="68.4" cy="316.6" r="0.45" fill="#1e3a3c"/><circle cx="79.1" cy="465.3" r="0.73" fill="#1e3a3c"/><circle cx="222.4" cy="426.8" r="0.74" fill="#243c38"/><circle cx="249.1" cy="427.6" r="0.55" fill="#35605c"/><circle cx="239.0" cy="415.3" r="0.32" fill="#486a66"/><circle cx="214.8" cy="429.7" r="0.71" fill="#1e3a3c"/><circle cx="285.5" cy="432.7" r="0.58" fill="#2c4c4a"/><circle cx="264.6" cy="405.9" r="0.75" fill="#1e3a3c"/><circle cx="79.3" cy="319.7" r="0.62" fill="#2c4c4a"/><circle cx="152.2" cy="384.8" r="0.33" fill="#2c4c4a"/><circle cx="214.6" cy="421.2" r="0.54" fill="#2c4c4a"/><circle cx="172.2" cy="324.1" r="0.77" fill="#486a66"/><circle cx="81.0" cy="396.6" r="0.67" fill="#243c38"/><circle cx="121.0" cy="324.8" r="0.43" fill="#1e3a3c"/><circle cx="115.7" cy="416.3" r="0.53" fill="#243c38"/><circle cx="77.2" cy="457.8" r="0.44" fill="#2c4c4a"/><circle cx="212.2" cy="415.2" r="0.34" fill="#1e3a3c"/><circle cx="140.9" cy="416.6" r="0.65" fill="#486a66"/><circle cx="199.9" cy="315.0" r="0.33" fill="#35605c"/><circle cx="301.1" cy="328.8" r="0.41" fill="#243c38"/><circle cx="130.7" cy="395.1" r="0.53" fill="#243c38"/><circle cx="249.8" cy="470.9" r="0.57" fill="#35605c"/><circle cx="302.5" cy="461.9" r="0.31" fill="#243c38"/><circle cx="77.1" cy="393.6" r="0.80" fill="#35605c"/><circle cx="154.7" cy="458.7" r="0.77" fill="#2c4c4a"/><circle cx="203.4" cy="335.5" r="0.56" fill="#35605c"/><circle cx="91.2" cy="443.4" r="0.55" fill="#2c4c4a"/><circle cx="233.8" cy="349.8" r="0.75" fill="#243c38"/><circle cx="156.5" cy="338.3" r="0.77" fill="#243c38"/><circle cx="159.4" cy="428.6" r="0.51" fill="#243c38"/><circle cx="137.0" cy="446.6" r="0.30" fill="#35605c"/><circle cx="267.8" cy="332.1" r="0.76" fill="#2c4c4a"/><circle cx="283.4" cy="359.1" r="0.49" fill="#243c38"/><circle cx="155.5" cy="451.3" r="0.34" fill="#243c38"/><circle cx="246.9" cy="448.8" r="0.44" fill="#2c4c4a"/><circle cx="266.7" cy="358.4" r="0.77" fill="#1e3a3c"/><circle cx="300.8" cy="382.4" r="0.46" fill="#35605c"/><circle cx="254.3" cy="381.0" r="0.31" fill="#243c38"/><circle cx="286.4" cy="462.6" r="0.57" fill="#2c4c4a"/><circle cx="70.4" cy="429.4" r="0.53" fill="#1e3a3c"/><circle cx="219.1" cy="358.5" r="0.32" fill="#486a66"/><circle cx="89.8" cy="388.1" r="0.47" fill="#35605c"/><circle cx="121.9" cy="430.5" r="0.63" fill="#243c38"/><circle cx="222.0" cy="360.8" r="0.58" fill="#243c38"/><circle cx="87.9" cy="415.3" r="0.34" fill="#486a66"/><circle cx="284.5" cy="392.0" r="0.41" fill="#35605c"/><circle cx="307.1" cy="384.5" r="0.37" fill="#1e3a3c"/><circle cx="119.0" cy="340.8" r="0.58" fill="#35605c"/><circle cx="117.8" cy="354.1" r="0.58" fill="#2c4c4a"/><circle cx="245.4" cy="378.6" r="0.51" fill="#486a66"/><circle cx="110.5" cy="356.0" r="0.68" fill="#243c38"/><circle cx="127.4" cy="466.9" r="0.36" fill="#486a66"/><circle cx="190.3" cy="438.7" r="0.72" fill="#2c4c4a"/><circle cx="125.8" cy="352.5" r="0.50" fill="#243c38"/><circle cx="166.0" cy="362.6" r="0.71" fill="#2c4c4a"/><circle cx="89.8" cy="380.6" r="0.68" fill="#243c38"/><circle cx="300.1" cy="390.9" r="0.34" fill="#486a66"/><circle cx="271.9" cy="467.6" r="0.42" fill="#2c4c4a"/><circle cx="114.0" cy="337.2" r="0.79" fill="#2c4c4a"/><circle cx="293.4" cy="427.8" r="0.62" fill="#243c38"/><circle cx="79.3" cy="436.5" r="0.30" fill="#1e3a3c"/><circle cx="116.1" cy="459.3" r="0.62" fill="#35605c"/><circle cx="298.6" cy="412.6" r="0.56" fill="#243c38"/><circle cx="232.6" cy="330.8" r="0.34" fill="#486a66"/><circle cx="293.9" cy="343.5" r="0.43" fill="#486a66"/><circle cx="58.3" cy="398.5" r="0.80" fill="#35605c"/><circle cx="297.7" cy="415.5" r="0.74" fill="#243c38"/><circle cx="189.6" cy="400.0" r="0.31" fill="#243c38"/><circle cx="234.2" cy="361.9" r="0.31" fill="#243c38"/><circle cx="279.2" cy="415.9" r="0.34" fill="#1e3a3c"/><circle cx="224.8" cy="460.1" r="0.41" fill="#2c4c4a"/><circle cx="232.0" cy="427.2" r="0.48" fill="#243c38"/><circle cx="107.5" cy="439.7" r="0.67" fill="#486a66"/><circle cx="74.9" cy="391.8" r="0.40" fill="#1e3a3c"/><circle cx="115.7" cy="348.2" r="0.68" fill="#35605c"/><circle cx="85.3" cy="412.2" r="0.61" fill="#1e3a3c"/><circle cx="179.3" cy="457.8" r="0.33" fill="#486a66"/><circle cx="94.6" cy="375.6" r="0.41" fill="#486a66"/><circle cx="93.5" cy="321.2" r="0.33" fill="#243c38"/><circle cx="170.4" cy="426.2" r="0.46" fill="#2c4c4a"/><circle cx="307.4" cy="461.1" r="0.46" fill="#1e3a3c"/><circle cx="221.1" cy="396.4" r="0.53" fill="#35605c"/><circle cx="224.1" cy="373.2" r="0.49" fill="#35605c"/><circle cx="168.6" cy="330.3" r="0.34" fill="#2c4c4a"/><circle cx="145.9" cy="464.9" r="0.36" fill="#1e3a3c"/><circle cx="153.0" cy="435.2" r="0.45" fill="#243c38"/><circle cx="79.9" cy="425.1" r="0.40" fill="#486a66"/><circle cx="287.9" cy="343.7" r="0.48" fill="#243c38"/><circle cx="65.6" cy="378.3" r="0.71" fill="#243c38"/><circle cx="68.2" cy="318.5" r="0.33" fill="#2c4c4a"/><circle cx="122.3" cy="431.8" r="0.75" fill="#35605c"/><circle cx="148.7" cy="366.3" r="0.78" fill="#2c4c4a"/><circle cx="123.5" cy="426.9" r="0.46" fill="#35605c"/><circle cx="132.4" cy="427.7" r="0.60" fill="#2c4c4a"/><circle cx="64.1" cy="350.2" r="0.54" fill="#243c38"/><circle cx="296.5" cy="374.5" r="0.43" fill="#243c38"/><circle cx="261.7" cy="334.1" r="0.55" fill="#2c4c4a"/><circle cx="258.6" cy="430.4" r="0.71" fill="#1e3a3c"/><circle cx="209.8" cy="365.1" r="0.46" fill="#35605c"/><circle cx="254.0" cy="407.7" r="0.56" fill="#243c38"/><circle cx="246.2" cy="352.3" r="0.33" fill="#2c4c4a"/><circle cx="178.4" cy="399.6" r="0.38" fill="#243c38"/><circle cx="278.9" cy="470.1" r="0.43" fill="#2c4c4a"/><circle cx="110.1" cy="379.9" r="0.79" fill="#243c38"/><circle cx="101.3" cy="334.1" r="0.53" fill="#1e3a3c"/><circle cx="245.0" cy="447.7" r="0.63" fill="#2c4c4a"/><circle cx="252.9" cy="359.7" r="0.44" fill="#35605c"/><circle cx="151.2" cy="430.4" r="0.40" fill="#1e3a3c"/><circle cx="104.4" cy="350.4" r="0.44" fill="#486a66"/><circle cx="105.1" cy="323.3" r="0.43" fill="#1e3a3c"/><circle cx="184.8" cy="349.8" r="0.70" fill="#243c38"/><circle cx="305.7" cy="329.3" r="0.54" fill="#1e3a3c"/><circle cx="268.1" cy="458.4" r="0.32" fill="#35605c"/><circle cx="116.2" cy="321.0" r="0.60" fill="#486a66"/><circle cx="106.5" cy="324.9" r="0.56" fill="#1e3a3c"/><circle cx="170.3" cy="354.3" r="0.69" fill="#2c4c4a"/><circle cx="84.4" cy="407.8" r="0.61" fill="#1e3a3c"/><circle cx="67.4" cy="367.1" r="0.32" fill="#35605c"/><circle cx="67.6" cy="429.4" r="0.76" fill="#2c4c4a"/><circle cx="262.7" cy="378.0" r="0.49" fill="#486a66"/><circle cx="136.0" cy="345.3" r="0.70" fill="#486a66"/><circle cx="178.9" cy="377.9" r="0.70" fill="#486a66"/><circle cx="96.6" cy="397.9" r="0.63" fill="#243c38"/><circle cx="231.9" cy="378.2" r="0.44" fill="#35605c"/><circle cx="162.5" cy="321.2" r="0.67" fill="#35605c"/><circle cx="161.5" cy="315.9" r="0.68" fill="#35605c"/><circle cx="219.1" cy="375.1" r="0.50" fill="#2c4c4a"/><circle cx="166.5" cy="337.9" r="0.36" fill="#2c4c4a"/><circle cx="159.6" cy="453.4" r="0.53" fill="#1e3a3c"/><circle cx="90.5" cy="321.2" r="0.37" fill="#243c38"/><circle cx="80.3" cy="411.9" r="0.49" fill="#486a66"/><circle cx="100.9" cy="368.3" r="0.38" fill="#1e3a3c"/><circle cx="289.4" cy="330.3" r="0.55" fill="#1e3a3c"/><circle cx="133.4" cy="446.1" r="0.32" fill="#243c38"/><circle cx="136.6" cy="409.6" r="0.62" fill="#2c4c4a"/><circle cx="284.1" cy="411.6" r="0.71" fill="#1e3a3c"/><circle cx="218.1" cy="449.2" r="0.61" fill="#486a66"/><circle cx="269.6" cy="444.8" r="0.39" fill="#1e3a3c"/><circle cx="68.4" cy="462.2" r="0.38" fill="#35605c"/><circle cx="88.8" cy="352.3" r="0.66" fill="#1e3a3c"/><circle cx="68.3" cy="402.4" r="0.68" fill="#2c4c4a"/><circle cx="225.0" cy="364.5" r="0.49" fill="#243c38"/><circle cx="195.5" cy="412.7" r="0.45" fill="#243c38"/><circle cx="135.1" cy="352.6" r="0.49" fill="#35605c"/><circle cx="169.7" cy="382.7" r="0.31" fill="#486a66"/></g>
<g filter="url(#lcb)">
<path d="M67.8 322.6L65.5 314.5A6.5 8.6 0 0 1 67.5 314.0Z" fill="#f08020"/>
<path d="M67.8 322.6L67.4 314.0A6.5 8.6 0 0 1 69.5 314.3Z" fill="#b06a60"/>
<path d="M67.8 322.6L69.3 314.2A6.5 8.6 0 0 1 71.2 315.3Z" fill="#7055a0"/>
<path d="M67.8 322.6L71.1 315.1A6.5 8.6 0 0 1 72.7 317.0Z" fill="#3040e0"/>
<path d="M67.8 322.6L72.6 316.8A6.5 8.6 0 0 1 73.7 319.1Z" fill="#2a72ea"/>
<path d="M67.8 322.6L73.7 318.9A6.5 8.6 0 0 1 74.2 321.6Z" fill="#25a5f4"/>
<path d="M67.8 322.6L74.2 321.4A6.5 8.6 0 0 1 74.2 324.2Z" fill="#20d8ff"/>
<path d="M67.8 322.6L74.2 323.9A6.5 8.6 0 0 1 73.5 326.6Z" fill="#65bab4"/>
<path d="M67.8 322.6L73.6 326.4A6.5 8.6 0 0 1 72.4 328.7Z" fill="#aa9d6a"/>
<path d="M67.8 322.6L72.5 328.5A6.5 8.6 0 0 1 70.8 330.2Z" fill="#f08020"/>
<path d="M67.8 322.6L71.0 330.1A6.5 8.6 0 0 1 69.0 331.1Z" fill="#e06a20"/>
<path d="M67.8 322.6L69.2 331.0A6.5 8.6 0 0 1 67.1 331.2Z" fill="#d05520"/>
<path d="M67.8 322.6L67.3 331.2A6.5 8.6 0 0 1 65.2 330.5Z" fill="#c04020"/>
<path d="M67.8 322.6L65.4 330.6A6.5 8.6 0 0 1 63.6 329.2Z" fill="#906d6a"/>
<path d="M67.8 322.6L63.7 329.3A6.5 8.6 0 0 1 62.3 327.2Z" fill="#609ab4"/>
<path d="M67.8 322.6L62.4 327.4A6.5 8.6 0 0 1 61.5 324.8Z" fill="#30c8ff"/>
<path d="M67.8 322.6L61.6 325.1A6.5 8.6 0 0 1 61.3 322.3Z" fill="#75daff"/>
<path d="M67.8 322.6L61.3 322.5A6.5 8.6 0 0 1 61.7 319.8Z" fill="#baecff"/>
<path d="M67.8 322.6L61.6 320.0A6.5 8.6 0 0 1 62.6 317.5Z" fill="#ffffff"/>
<path d="M67.8 322.6L62.5 317.7A6.5 8.6 0 0 1 63.9 315.7Z" fill="#fad4b4"/>
<path d="M67.8 322.6L63.8 315.8A6.5 8.6 0 0 1 65.7 314.4Z" fill="#f5aa6a"/>
<path d="M67.8 322.6L66.5 318.2A3.6 4.8 0 0 1 68.5 317.9Z" fill="#e0e0ff"/>
<path d="M67.8 322.6L68.4 317.9A3.6 4.8 0 0 1 70.1 319.0Z" fill="#eaeaff"/>
<path d="M67.8 322.6L70.0 318.9A3.6 4.8 0 0 1 71.2 321.0Z" fill="#f4f4ff"/>
<path d="M67.8 322.6L71.1 320.9A3.6 4.8 0 0 1 71.3 323.5Z" fill="#ffffff"/>
<path d="M67.8 322.6L71.3 323.3A3.6 4.8 0 0 1 70.5 325.7Z" fill="#b4f2ff"/>
<path d="M67.8 322.6L70.6 325.6A3.6 4.8 0 0 1 69.0 327.1Z" fill="#6ae5ff"/>
<path d="M67.8 322.6L69.1 327.0A3.6 4.8 0 0 1 67.1 327.3Z" fill="#20d8ff"/>
<path d="M67.8 322.6L67.2 327.3A3.6 4.8 0 0 1 65.5 326.2Z" fill="#6ae5ff"/>
<path d="M67.8 322.6L65.6 326.3A3.6 4.8 0 0 1 64.4 324.2Z" fill="#b4f2ff"/>
<path d="M67.8 322.6L64.5 324.3A3.6 4.8 0 0 1 64.3 321.7Z" fill="#ffffff"/>
<path d="M67.8 322.6L64.3 321.9A3.6 4.8 0 0 1 65.1 319.5Z" fill="#f4f4ff"/>
<path d="M67.8 322.6L65.0 319.6A3.6 4.8 0 0 1 66.6 318.1Z" fill="#eaeaff"/>
<path d="M67.8 322.6L70.5 330.5A6.5 8.6 0 0 1 69.2 331.0Z" fill="#0a0c10"/>
<path d="M67.8 322.6L61.3 323.4A6.5 8.6 0 0 1 61.4 321.6Z" fill="#0a0c10"/>
<path d="M67.8 322.6L69.7 330.9A6.5 8.6 0 0 1 68.4 331.2Z" fill="#0a0c10"/>
<path d="M67.8 322.6L70.3 330.6A6.5 8.6 0 0 1 69.1 331.1Z" fill="#0a0c10"/>
<path d="M68.0 318.5L66.8 322.2A4.9 3.8 0 0 1 64.8 321.4Z" fill="#30c8ff"/>
<path d="M68.0 318.5L65.0 321.4A4.9 3.8 0 0 1 63.6 320.1Z" fill="#2acdff"/>
<path d="M68.0 318.5L63.7 320.2A4.9 3.8 0 0 1 63.1 318.6Z" fill="#25d2ff"/>
<path d="M68.0 318.5L63.1 318.7A4.9 3.8 0 0 1 63.5 317.1Z" fill="#20d8ff"/>
<path d="M68.0 318.5L63.5 317.2A4.9 3.8 0 0 1 64.7 315.8Z" fill="#1994af"/>
<path d="M68.0 318.5L64.6 315.8A4.9 3.8 0 0 1 66.4 314.9Z" fill="#12505f"/>
<path d="M68.0 318.5L66.2 315.0A4.9 3.8 0 0 1 68.4 314.7Z" fill="#0b0d10"/>
<path d="M68.0 318.5L68.2 314.7A4.9 3.8 0 0 1 70.3 315.2Z" fill="#174b5f"/>
<path d="M68.0 318.5L70.2 315.1A4.9 3.8 0 0 1 71.9 316.2Z" fill="#2389af"/>
<path d="M68.0 318.5L71.8 316.1A4.9 3.8 0 0 1 72.7 317.6Z" fill="#30c8ff"/>
<path d="M68.0 318.5L72.7 317.5A4.9 3.8 0 0 1 72.8 319.2Z" fill="#2389af"/>
<path d="M68.0 318.5L72.8 319.1A4.9 3.8 0 0 1 72.0 320.6Z" fill="#174b5f"/>
<path d="M68.0 318.5L72.1 320.5A4.9 3.8 0 0 1 70.5 321.7Z" fill="#0b0d10"/>
<path d="M68.0 318.5L70.7 321.7A4.9 3.8 0 0 1 68.6 322.2Z" fill="#174b5f"/>
<path d="M68.0 318.5L68.8 322.2A4.9 3.8 0 0 1 66.6 322.1Z" fill="#2389af"/>
<path d="M85.7 332.8L86.0 323.6A8.6 9.2 0 0 1 88.7 324.2Z" fill="#fff080"/>
<path d="M85.7 332.8L88.5 324.1A8.6 9.2 0 0 1 91.0 325.5Z" fill="#efe285"/>
<path d="M85.7 332.8L90.8 325.4A8.6 9.2 0 0 1 92.8 327.5Z" fill="#dfd58a"/>
<path d="M85.7 332.8L92.6 327.3A8.6 9.2 0 0 1 93.9 330.0Z" fill="#d0c890"/>
<path d="M85.7 332.8L93.8 329.7A8.6 9.2 0 0 1 94.3 332.7Z" fill="#dfcd7a"/>
<path d="M85.7 332.8L94.3 332.4A8.6 9.2 0 0 1 94.0 335.4Z" fill="#efd265"/>
<path d="M85.7 332.8L94.1 335.1A8.6 9.2 0 0 1 92.9 337.9Z" fill="#ffd850"/>
<path d="M85.7 332.8L93.1 337.6A8.6 9.2 0 0 1 91.2 339.9Z" fill="#efd265"/>
<path d="M85.7 332.8L91.4 339.7A8.6 9.2 0 0 1 89.0 341.3Z" fill="#dfcd7a"/>
<path d="M85.7 332.8L89.2 341.2A8.6 9.2 0 0 1 86.5 341.9Z" fill="#d0c890"/>
<path d="M85.7 332.8L86.7 341.9A8.6 9.2 0 0 1 83.9 341.8Z" fill="#dfd58a"/>
<path d="M85.7 332.8L84.2 341.8A8.6 9.2 0 0 1 81.5 340.8Z" fill="#efe285"/>
<path d="M85.7 332.8L81.7 341.0A8.6 9.2 0 0 1 79.5 339.1Z" fill="#fff080"/>
<path d="M85.7 332.8L79.6 339.3A8.6 9.2 0 0 1 78.0 336.9Z" fill="#fff5aa"/>
<path d="M85.7 332.8L78.1 337.2A8.6 9.2 0 0 1 77.2 334.3Z" fill="#fffad4"/>
<path d="M85.7 332.8L77.2 334.6A8.6 9.2 0 0 1 77.1 331.6Z" fill="#ffffff"/>
<path d="M85.7 332.8L77.1 331.8A8.6 9.2 0 0 1 77.9 328.9Z" fill="#f7fafa"/>
<path d="M85.7 332.8L77.8 329.2A8.6 9.2 0 0 1 79.3 326.7Z" fill="#eff5f5"/>
<path d="M85.7 332.8L79.1 326.9A8.6 9.2 0 0 1 81.3 324.9Z" fill="#e8f0f0"/>
<path d="M85.7 332.8L81.0 325.1A8.6 9.2 0 0 1 83.6 323.9Z" fill="#eff0ca"/>
<path d="M85.7 332.8L83.4 324.0A8.6 9.2 0 0 1 86.2 323.6Z" fill="#f7f0a5"/>
<path d="M85.7 332.8L85.8 327.8A4.8 5.0 0 0 1 88.3 328.6Z" fill="#fff080"/>
<path d="M85.7 332.8L88.2 328.5A4.8 5.0 0 0 1 89.9 330.5Z" fill="#b7ad5e"/>
<path d="M85.7 332.8L89.9 330.4A4.8 5.0 0 0 1 90.4 333.1Z" fill="#6f6a3c"/>
<path d="M85.7 332.8L90.4 332.9A4.8 5.0 0 0 1 89.7 335.6Z" fill="#28281a"/>
<path d="M85.7 332.8L89.7 335.5A4.8 5.0 0 0 1 87.8 337.3Z" fill="#6f6a3c"/>
<path d="M85.7 332.8L88.0 337.2A4.8 5.0 0 0 1 85.4 337.8Z" fill="#b7ad5e"/>
<path d="M85.7 332.8L85.6 337.8A4.8 5.0 0 0 1 83.1 337.0Z" fill="#fff080"/>
<path d="M85.7 332.8L83.2 337.1A4.8 5.0 0 0 1 81.5 335.1Z" fill="#b7ad5e"/>
<path d="M85.7 332.8L81.5 335.2A4.8 5.0 0 0 1 81.0 332.5Z" fill="#6f6a3c"/>
<path d="M85.7 332.8L81.0 332.7A4.8 5.0 0 0 1 81.7 330.0Z" fill="#28281a"/>
<path d="M85.7 332.8L81.7 330.1A4.8 5.0 0 0 1 83.6 328.3Z" fill="#6f6a3c"/>
<path d="M85.7 332.8L83.4 328.4A4.8 5.0 0 0 1 86.0 327.8Z" fill="#b7ad5e"/>
<path d="M85.7 332.8L80.0 339.7A8.6 9.2 0 0 1 78.8 338.3Z" fill="#0a0c10"/>
<path d="M85.7 332.8L90.8 340.2A8.6 9.2 0 0 1 89.3 341.1Z" fill="#0a0c10"/>
<path d="M85.7 332.8L92.0 326.5A8.6 9.2 0 0 1 93.0 327.9Z" fill="#0a0c10"/>
<path d="M85.7 332.8L93.7 329.4A8.6 9.2 0 0 1 94.2 331.2Z" fill="#0a0c10"/>
<path d="M90.5 332.0L93.3 322.7A12.5 9.5 0 0 1 94.4 323.0Z" fill="#ffd040"/>
<path d="M90.5 332.0L94.1 322.9A12.5 9.5 0 0 1 95.2 323.2Z" fill="#ad8f30"/>
<path d="M90.5 332.0L94.8 323.1A12.5 9.5 0 0 1 95.9 323.4Z" fill="#5c4e20"/>
<path d="M90.5 332.0L95.5 323.3A12.5 9.5 0 0 1 96.6 323.7Z" fill="#0b0d10"/>
<path d="M90.5 332.0L96.2 323.6A12.5 9.5 0 0 1 97.2 324.0Z" fill="#4a300d"/>
<path d="M90.5 332.0L96.9 323.8A12.5 9.5 0 0 1 97.9 324.3Z" fill="#89540a"/>
<path d="M90.5 332.0L97.6 324.2A12.5 9.5 0 0 1 98.5 324.7Z" fill="#c87808"/>
<path d="M90.5 332.0L98.2 324.5A12.5 9.5 0 0 1 99.1 325.1Z" fill="#da9d35"/>
<path d="M90.5 332.0L98.8 324.9A12.5 9.5 0 0 1 99.6 325.5Z" fill="#ecc262"/>
<path d="M90.5 332.0L99.4 325.3A12.5 9.5 0 0 1 100.1 325.9Z" fill="#ffe890"/>
<path d="M90.5 332.0L99.9 325.7A12.5 9.5 0 0 1 100.6 326.4Z" fill="#fad268"/>
<path d="M90.5 332.0L100.4 326.2A12.5 9.5 0 0 1 101.1 326.9Z" fill="#f5bd40"/>
<path d="M90.5 332.0L100.8 326.7A12.5 9.5 0 0 1 101.4 327.4Z" fill="#f0a818"/>
<path d="M90.5 332.0L101.3 327.2A12.5 9.5 0 0 1 101.8 327.9Z" fill="#eda015"/>
<path d="M90.5 332.0L101.6 327.7A12.5 9.5 0 0 1 102.1 328.5Z" fill="#ea9812"/>
<path d="M90.5 332.0L102.0 328.2A12.5 9.5 0 0 1 102.4 329.0Z" fill="#e89010"/>
<path d="M90.5 332.0L102.3 328.8A12.5 9.5 0 0 1 102.6 329.6Z" fill="#a8670a"/>
<path d="M90.5 332.0L102.5 329.3A12.5 9.5 0 0 1 102.8 330.2Z" fill="#693e05"/>
<path d="M90.5 332.0L102.7 329.9A12.5 9.5 0 0 1 102.9 330.8Z" fill="#2a1600"/>
<path d="M90.5 332.0L102.8 330.5A12.5 9.5 0 0 1 103.0 331.4Z" fill="#5e3602"/>
<path d="M90.5 332.0L102.9 331.1A12.5 9.5 0 0 1 103.0 332.0Z" fill="#935705"/>
<path d="M90.5 332.0L92.0 326.9A6.9 5.2 0 0 1 93.0 327.1Z" fill="#a05c08"/>
<path d="M90.5 332.0L92.8 327.1A6.9 5.2 0 0 1 93.6 327.4Z" fill="#ba750d"/>
<path d="M90.5 332.0L93.5 327.3A6.9 5.2 0 0 1 94.3 327.6Z" fill="#d58e12"/>
<path d="M90.5 332.0L94.1 327.6A6.9 5.2 0 0 1 94.9 328.0Z" fill="#f0a818"/>
<path d="M90.5 332.0L94.7 327.9A6.9 5.2 0 0 1 95.4 328.4Z" fill="#a37415"/>
<path d="M90.5 332.0L95.3 328.3A6.9 5.2 0 0 1 95.9 328.8Z" fill="#574012"/>
<path d="M90.5 332.0L95.8 328.7A6.9 5.2 0 0 1 96.4 329.3Z" fill="#0b0d10"/>
<path d="M90.5 332.0L96.2 329.1A6.9 5.2 0 0 1 96.7 329.8Z" fill="#5c563a"/>
<path d="M90.5 332.0L96.6 329.6A6.9 5.2 0 0 1 97.0 330.3Z" fill="#ad9f65"/>
<path d="M90.5 332.0L96.9 330.1A6.9 5.2 0 0 1 97.2 330.8Z" fill="#ffe890"/>
<path d="M90.5 332.0L97.2 330.7A6.9 5.2 0 0 1 97.3 331.4Z" fill="#b8a260"/>
<path d="M90.5 332.0L97.3 331.3A6.9 5.2 0 0 1 97.4 332.0Z" fill="#715c30"/>
<path d="M90.5 332.0L101.2 327.1A12.5 9.5 0 0 1 102.3 328.8Z" fill="#0a0c10"/>
<path d="M90.5 332.0L96.3 323.6A12.5 9.5 0 0 1 98.4 324.6Z" fill="#0a0c10"/>
<path d="M90.5 332.0L96.1 323.5A12.5 9.5 0 0 1 98.2 324.5Z" fill="#0a0c10"/>
<path d="M90.5 332.0L100.4 326.2A12.5 9.5 0 0 1 101.7 327.8Z" fill="#0a0c10"/>
<path d="M90.7 340.7L85.5 343.6A6.5 4.9 0 0 1 84.3 341.6Z" fill="#ff9020"/>
<path d="M90.7 340.7L84.4 341.8A6.5 4.9 0 0 1 84.4 339.6Z" fill="#ff7025"/>
<path d="M90.7 340.7L84.3 339.8A6.5 4.9 0 0 1 85.5 337.8Z" fill="#ff502a"/>
<path d="M90.7 340.7L85.4 337.9A6.5 4.9 0 0 1 87.5 336.5Z" fill="#ff3030"/>
<path d="M90.7 340.7L87.4 336.5A6.5 4.9 0 0 1 90.1 335.9Z" fill="#ff502a"/>
<path d="M90.7 340.7L89.9 335.9A6.5 4.9 0 0 1 92.8 336.1Z" fill="#ff7025"/>
<path d="M90.7 340.7L92.6 336.1A6.5 4.9 0 0 1 95.1 337.1Z" fill="#ff9020"/>
<path d="M90.7 340.7L95.0 337.0A6.5 4.9 0 0 1 96.7 338.8Z" fill="#f46a55"/>
<path d="M90.7 340.7L96.6 338.7A6.5 4.9 0 0 1 97.2 340.8Z" fill="#ea458a"/>
<path d="M90.7 340.7L97.2 340.6A6.5 4.9 0 0 1 96.6 342.7Z" fill="#e020c0"/>
<path d="M90.7 340.7L96.7 342.6A6.5 4.9 0 0 1 95.0 344.4Z" fill="#991985"/>
<path d="M90.7 340.7L95.1 344.3A6.5 4.9 0 0 1 92.6 345.3Z" fill="#52134a"/>
<path d="M90.7 340.7L92.8 345.3A6.5 4.9 0 0 1 89.9 345.5Z" fill="#0b0d10"/>
<path d="M90.7 340.7L90.1 345.5A6.5 4.9 0 0 1 87.4 344.9Z" fill="#5c3815"/>
<path d="M90.7 340.7L87.5 344.9A6.5 4.9 0 0 1 85.4 343.5Z" fill="#ad641a"/>
<path d="M90.7 340.7L87.8 342.3A3.6 2.7 0 0 1 87.2 340.9Z" fill="#ff3030"/>
<path d="M90.7 340.7L87.2 341.0A3.6 2.7 0 0 1 87.5 339.6Z" fill="#b4356a"/>
<path d="M90.7 340.7L87.4 339.6A3.6 2.7 0 0 1 88.6 338.5Z" fill="#6a3aa5"/>
<path d="M90.7 340.7L88.6 338.6A3.6 2.7 0 0 1 90.4 338.0Z" fill="#2040e0"/>
<path d="M90.7 340.7L90.3 338.0A3.6 2.7 0 0 1 92.2 338.3Z" fill="#6035d5"/>
<path d="M90.7 340.7L92.1 338.2A3.6 2.7 0 0 1 93.6 339.2Z" fill="#a02aca"/>
<path d="M90.7 340.7L93.6 339.1A3.6 2.7 0 0 1 94.2 340.5Z" fill="#e020c0"/>
<path d="M90.7 340.7L94.2 340.4A3.6 2.7 0 0 1 93.9 341.8Z" fill="#ea458a"/>
<path d="M90.7 340.7L94.0 341.8A3.6 2.7 0 0 1 92.8 342.9Z" fill="#f46a55"/>
<path d="M90.7 340.7L92.8 342.8A3.6 2.7 0 0 1 91.0 343.4Z" fill="#ff9020"/>
<path d="M90.7 340.7L91.1 343.4A3.6 2.7 0 0 1 89.2 343.1Z" fill="#ff7025"/>
<path d="M90.7 340.7L89.3 343.2A3.6 2.7 0 0 1 87.8 342.2Z" fill="#ff502a"/>
<path d="M90.7 340.7L96.8 339.1A6.5 4.9 0 0 1 97.1 340.1Z" fill="#0a0c10"/>
<path d="M90.7 340.7L96.6 342.7A6.5 4.9 0 0 1 95.9 343.6Z" fill="#0a0c10"/>
<path d="M90.7 340.7L95.9 337.8A6.5 4.9 0 0 1 96.6 338.6Z" fill="#0a0c10"/>
<path d="M90.7 340.7L97.1 340.1A6.5 4.9 0 0 1 97.2 341.1Z" fill="#0a0c10"/>
<path d="M122.0 334.5L110.4 331.0A12.0 13.5 0 0 1 111.0 329.0Z" fill="#a05c08"/>
<path d="M122.0 334.5L110.9 329.4A12.0 13.5 0 0 1 111.7 327.5Z" fill="#ba750d"/>
<path d="M122.0 334.5L111.5 327.9A12.0 13.5 0 0 1 112.6 326.2Z" fill="#d58e12"/>
<path d="M122.0 334.5L112.3 326.5A12.0 13.5 0 0 1 113.6 324.9Z" fill="#f0a818"/>
<path d="M122.0 334.5L113.3 325.2A12.0 13.5 0 0 1 114.7 323.8Z" fill="#ae7710"/>
<path d="M122.0 334.5L114.4 324.1A12.0 13.5 0 0 1 115.9 322.9Z" fill="#6c4608"/>
<path d="M122.0 334.5L115.6 323.1A12.0 13.5 0 0 1 117.3 322.1Z" fill="#2a1600"/>
<path d="M122.0 334.5L116.9 322.3A12.0 13.5 0 0 1 118.7 321.5Z" fill="#6c4608"/>
<path d="M122.0 334.5L118.3 321.7A12.0 13.5 0 0 1 120.1 321.2Z" fill="#ae7710"/>
<path d="M122.0 334.5L119.8 321.2A12.0 13.5 0 0 1 121.6 321.0Z" fill="#f0a818"/>
<path d="M122.0 334.5L121.3 321.0A12.0 13.5 0 0 1 123.1 321.1Z" fill="#e29812"/>
<path d="M122.0 334.5L122.7 321.0A12.0 13.5 0 0 1 124.6 321.3Z" fill="#d5880d"/>
<path d="M122.0 334.5L124.2 321.2A12.0 13.5 0 0 1 126.0 321.8Z" fill="#c87808"/>
<path d="M122.0 334.5L125.7 321.7A12.0 13.5 0 0 1 127.4 322.4Z" fill="#d5880d"/>
<path d="M122.0 334.5L127.1 322.3A12.0 13.5 0 0 1 128.7 323.3Z" fill="#e29812"/>
<path d="M122.0 334.5L128.4 323.1A12.0 13.5 0 0 1 129.9 324.3Z" fill="#f0a818"/>
<path d="M122.0 334.5L129.6 324.1A12.0 13.5 0 0 1 130.9 325.5Z" fill="#f5b525"/>
<path d="M122.0 334.5L130.7 325.2A12.0 13.5 0 0 1 131.9 326.8Z" fill="#fac232"/>
<path d="M122.0 334.5L131.7 326.5A12.0 13.5 0 0 1 132.6 328.3Z" fill="#ffd040"/>
<path d="M122.0 334.5L132.5 327.9A12.0 13.5 0 0 1 133.2 329.8Z" fill="#ffd040"/>
<path d="M122.0 334.5L133.1 329.4A12.0 13.5 0 0 1 133.7 331.4Z" fill="#ffd040"/>
<path d="M122.0 334.5L115.6 332.6A6.6 7.4 0 0 1 116.2 330.9Z" fill="#2a1600"/>
<path d="M122.0 334.5L116.1 331.1A6.6 7.4 0 0 1 117.1 329.6Z" fill="#6c4608"/>
<path d="M122.0 334.5L116.9 329.7A6.6 7.4 0 0 1 118.1 328.5Z" fill="#ae7710"/>
<path d="M122.0 334.5L118.0 328.6A6.6 7.4 0 0 1 119.4 327.7Z" fill="#f0a818"/>
<path d="M122.0 334.5L119.2 327.8A6.6 7.4 0 0 1 120.8 327.2Z" fill="#d58e12"/>
<path d="M122.0 334.5L120.6 327.3A6.6 7.4 0 0 1 122.2 327.1Z" fill="#ba750d"/>
<path d="M122.0 334.5L122.0 327.1A6.6 7.4 0 0 1 123.6 327.3Z" fill="#a05c08"/>
<path d="M122.0 334.5L123.4 327.3A6.6 7.4 0 0 1 125.0 327.9Z" fill="#bf821a"/>
<path d="M122.0 334.5L124.8 327.8A6.6 7.4 0 0 1 126.2 328.7Z" fill="#dfa92d"/>
<path d="M122.0 334.5L126.0 328.6A6.6 7.4 0 0 1 127.2 329.9Z" fill="#ffd040"/>
<path d="M122.0 334.5L127.1 329.7A6.6 7.4 0 0 1 127.9 331.3Z" fill="#ecb22d"/>
<path d="M122.0 334.5L127.9 331.1A6.6 7.4 0 0 1 128.4 332.8Z" fill="#da951a"/>
<path d="M122.0 334.5L125.9 321.7A12.0 13.5 0 0 1 128.0 322.8Z" fill="#0a0c10"/>
<path d="M122.0 334.5L131.4 326.2A12.0 13.5 0 0 1 132.7 328.4Z" fill="#0a0c10"/>
<path d="M91.4 352.8L92.0 349.1A4.3 3.8 0 0 1 94.7 350.3Z" fill="#ffb020"/>
<path d="M91.4 352.8L94.6 350.2A4.3 3.8 0 0 1 95.7 352.7Z" fill="#bf7d15"/>
<path d="M91.4 352.8L95.7 352.6A4.3 3.8 0 0 1 94.7 355.2Z" fill="#7f4a0a"/>
<path d="M91.4 352.8L94.8 355.1A4.3 3.8 0 0 1 92.2 356.5Z" fill="#401800"/>
<path d="M91.4 352.8L92.3 356.5A4.3 3.8 0 0 1 89.3 356.1Z" fill="#752a02"/>
<path d="M91.4 352.8L89.4 356.2A4.3 3.8 0 0 1 87.4 354.1Z" fill="#aa3d05"/>
<path d="M91.4 352.8L87.4 354.2A4.3 3.8 0 0 1 87.3 351.6Z" fill="#e05008"/>
<path d="M91.4 352.8L87.3 351.7A4.3 3.8 0 0 1 89.2 349.6Z" fill="#ea7010"/>
<path d="M91.4 352.8L89.1 349.6A4.3 3.8 0 0 1 92.1 349.1Z" fill="#f49018"/>
<path d="M120.6 349.2L124.9 348.6A4.3 3.8 0 0 1 124.2 351.3Z" fill="#d0c890"/>
<path d="M120.6 349.2L124.3 351.2A4.3 3.8 0 0 1 121.8 352.8Z" fill="#ddd295"/>
<path d="M120.6 349.2L122.0 352.8A4.3 3.8 0 0 1 118.9 352.7Z" fill="#eadd9a"/>
<path d="M120.6 349.2L119.0 352.7A4.3 3.8 0 0 1 116.7 350.9Z" fill="#f8e8a0"/>
<path d="M120.6 349.2L116.8 351.0A4.3 3.8 0 0 1 116.4 348.3Z" fill="#fae285"/>
<path d="M120.6 349.2L116.4 348.4A4.3 3.8 0 0 1 118.0 346.2Z" fill="#fcdd6a"/>
<path d="M120.6 349.2L117.9 346.2A4.3 3.8 0 0 1 120.8 345.4Z" fill="#ffd850"/>
<path d="M120.6 349.2L120.7 345.4A4.3 3.8 0 0 1 123.6 346.4Z" fill="#efd265"/>
<path d="M120.6 349.2L123.5 346.4A4.3 3.8 0 0 1 124.9 348.8Z" fill="#dfcd7a"/>
<path d="M99.5 383.5L86.7 378.4A13.5 16.5 0 0 1 87.4 376.3Z" fill="#e03020"/>
<path d="M99.5 383.5L87.2 376.7A13.5 16.5 0 0 1 88.1 374.7Z" fill="#d52a55"/>
<path d="M99.5 383.5L87.8 375.2A13.5 16.5 0 0 1 88.9 373.3Z" fill="#ca258a"/>
<path d="M99.5 383.5L88.6 373.7A13.5 16.5 0 0 1 89.9 372.0Z" fill="#c020c0"/>
<path d="M99.5 383.5L89.6 372.3A13.5 16.5 0 0 1 90.9 370.8Z" fill="#8a25cd"/>
<path d="M99.5 383.5L90.6 371.1A13.5 16.5 0 0 1 92.1 369.7Z" fill="#552ada"/>
<path d="M99.5 383.5L91.8 370.0A13.5 16.5 0 0 1 93.3 368.8Z" fill="#2030e8"/>
<path d="M99.5 383.5L93.0 369.0A13.5 16.5 0 0 1 94.7 368.1Z" fill="#2232ea"/>
<path d="M99.5 383.5L94.3 368.3A13.5 16.5 0 0 1 96.1 367.5Z" fill="#2535ed"/>
<path d="M99.5 383.5L95.7 367.7A13.5 16.5 0 0 1 97.5 367.2Z" fill="#2838f0"/>
<path d="M99.5 383.5L97.1 367.3A13.5 16.5 0 0 1 98.9 367.0Z" fill="#202ab5"/>
<path d="M99.5 383.5L98.5 367.0A13.5 16.5 0 0 1 100.4 367.0Z" fill="#181d7a"/>
<path d="M99.5 383.5L100.0 367.0A13.5 16.5 0 0 1 101.8 367.2Z" fill="#101040"/>
<path d="M99.5 383.5L101.4 367.2A13.5 16.5 0 0 1 103.2 367.6Z" fill="#1a207a"/>
<path d="M99.5 383.5L102.8 367.5A13.5 16.5 0 0 1 104.6 368.2Z" fill="#2530b5"/>
<path d="M99.5 383.5L104.2 368.0A13.5 16.5 0 0 1 105.9 369.0Z" fill="#3040f0"/>
<path d="M99.5 383.5L105.6 368.8A13.5 16.5 0 0 1 107.2 369.9Z" fill="#6d4aa5"/>
<path d="M99.5 383.5L106.8 369.6A13.5 16.5 0 0 1 108.3 371.0Z" fill="#aa555a"/>
<path d="M99.5 383.5L108.0 370.7A13.5 16.5 0 0 1 109.4 372.2Z" fill="#e86010"/>
<path d="M99.5 383.5L109.1 371.9A13.5 16.5 0 0 1 110.3 373.6Z" fill="#e04a40"/>
<path d="M99.5 383.5L110.0 373.2A13.5 16.5 0 0 1 111.1 375.1Z" fill="#d83570"/>
<path d="M99.5 383.5L110.9 374.6A13.5 16.5 0 0 1 111.8 376.6Z" fill="#d020a0"/>
<path d="M99.5 383.5L111.6 376.2A13.5 16.5 0 0 1 112.3 378.3Z" fill="#da4075"/>
<path d="M99.5 383.5L112.2 377.8A13.5 16.5 0 0 1 112.7 380.0Z" fill="#e5604a"/>
<path d="M99.5 383.5L92.4 380.7A7.4 9.1 0 0 1 93.2 378.7Z" fill="#0b0d10"/>
<path d="M99.5 383.5L93.1 378.9A7.4 9.1 0 0 1 94.2 377.2Z" fill="#141b5a"/>
<path d="M99.5 383.5L94.0 377.3A7.4 9.1 0 0 1 95.4 375.9Z" fill="#1e29a5"/>
<path d="M99.5 383.5L95.2 376.1A7.4 9.1 0 0 1 96.8 375.0Z" fill="#2838f0"/>
<path d="M99.5 383.5L96.6 375.1A7.4 9.1 0 0 1 98.4 374.5Z" fill="#202ab5"/>
<path d="M99.5 383.5L98.2 374.6A7.4 9.1 0 0 1 100.0 374.4Z" fill="#181d7a"/>
<path d="M99.5 383.5L99.8 374.4A7.4 9.1 0 0 1 101.6 374.8Z" fill="#101040"/>
<path d="M99.5 383.5L101.3 374.7A7.4 9.1 0 0 1 103.0 375.5Z" fill="#151a78"/>
<path d="M99.5 383.5L102.8 375.4A7.4 9.1 0 0 1 104.3 376.6Z" fill="#1a25b0"/>
<path d="M99.5 383.5L104.2 376.4A7.4 9.1 0 0 1 105.4 378.0Z" fill="#2030e8"/>
<path d="M99.5 383.5L105.3 377.8A7.4 9.1 0 0 1 106.3 379.7Z" fill="#2535ea"/>
<path d="M99.5 383.5L106.2 379.5A7.4 9.1 0 0 1 106.8 381.6Z" fill="#2a3aed"/>
<path d="M99.5 383.5L87.1 377.0A13.5 16.5 0 0 1 88.4 374.1Z" fill="#0a0c10"/>
<path d="M99.5 383.5L100.4 367.0A13.5 16.5 0 0 1 103.1 367.6Z" fill="#0a0c10"/>
<path d="M141.0 332.0L144.3 336.3A5.4 5.4 0 0 1 142.1 337.3Z" fill="#ffffff"/>
<path d="M141.0 332.0L142.3 337.2A5.4 5.4 0 0 1 139.9 337.3Z" fill="#adaeaf"/>
<path d="M141.0 332.0L140.0 337.3A5.4 5.4 0 0 1 137.8 336.4Z" fill="#5c5d5f"/>
<path d="M141.0 332.0L138.0 336.5A5.4 5.4 0 0 1 136.3 334.7Z" fill="#0b0d10"/>
<path d="M141.0 332.0L136.4 334.8A5.4 5.4 0 0 1 135.6 332.6Z" fill="#5a5640"/>
<path d="M141.0 332.0L135.6 332.7A5.4 5.4 0 0 1 135.9 330.3Z" fill="#a99f70"/>
<path d="M141.0 332.0L135.8 330.5A5.4 5.4 0 0 1 137.0 328.4Z" fill="#f8e8a0"/>
<path d="M141.0 332.0L136.9 328.5A5.4 5.4 0 0 1 138.8 327.1Z" fill="#faefbf"/>
<path d="M141.0 332.0L138.7 327.1A5.4 5.4 0 0 1 141.0 326.6Z" fill="#fcf7df"/>
<path d="M141.0 332.0L140.8 326.6A5.4 5.4 0 0 1 143.2 327.1Z" fill="#ffffff"/>
<path d="M141.0 332.0L143.1 327.0A5.4 5.4 0 0 1 145.0 328.4Z" fill="#efecda"/>
<path d="M141.0 332.0L144.9 328.3A5.4 5.4 0 0 1 146.1 330.3Z" fill="#dfdab5"/>
<path d="M141.0 332.0L146.1 330.2A5.4 5.4 0 0 1 146.4 332.6Z" fill="#d0c890"/>
<path d="M141.0 332.0L146.4 332.4A5.4 5.4 0 0 1 145.7 334.7Z" fill="#dfdab5"/>
<path d="M141.0 332.0L145.8 334.6A5.4 5.4 0 0 1 144.2 336.4Z" fill="#efecda"/>
<path d="M149.0 335.5L143.8 337.1A5.4 5.4 0 0 1 143.7 334.7Z" fill="#d0c890"/>
<path d="M149.0 335.5L143.6 334.8A5.4 5.4 0 0 1 144.5 332.6Z" fill="#8e8965"/>
<path d="M149.0 335.5L144.4 332.7A5.4 5.4 0 0 1 146.0 331.0Z" fill="#4c4b3a"/>
<path d="M149.0 335.5L145.9 331.1A5.4 5.4 0 0 1 148.1 330.2Z" fill="#0b0d10"/>
<path d="M149.0 335.5L148.0 330.2A5.4 5.4 0 0 1 150.4 330.3Z" fill="#4c4b3a"/>
<path d="M149.0 335.5L150.2 330.2A5.4 5.4 0 0 1 152.4 331.3Z" fill="#8e8965"/>
<path d="M149.0 335.5L152.3 331.2A5.4 5.4 0 0 1 153.8 333.0Z" fill="#d0c890"/>
<path d="M149.0 335.5L153.7 332.9A5.4 5.4 0 0 1 154.4 335.2Z" fill="#dfcd7a"/>
<path d="M149.0 335.5L154.4 335.0A5.4 5.4 0 0 1 154.1 337.4Z" fill="#efd265"/>
<path d="M149.0 335.5L154.1 337.3A5.4 5.4 0 0 1 152.8 339.3Z" fill="#ffd850"/>
<path d="M149.0 335.5L152.9 339.2A5.4 5.4 0 0 1 151.0 340.5Z" fill="#f7e085"/>
<path d="M149.0 335.5L151.1 340.5A5.4 5.4 0 0 1 148.7 340.9Z" fill="#efe8ba"/>
<path d="M149.0 335.5L148.9 340.9A5.4 5.4 0 0 1 146.6 340.3Z" fill="#e8f0f0"/>
<path d="M149.0 335.5L146.7 340.4A5.4 5.4 0 0 1 144.8 338.9Z" fill="#e0e2d0"/>
<path d="M149.0 335.5L144.9 339.0A5.4 5.4 0 0 1 143.8 336.9Z" fill="#d8d5b0"/>
<path d="M142.8 348.5L149.6 344.4A8.1 7.6 0 0 1 150.7 346.7Z" fill="#141440"/>
<path d="M142.8 348.5L150.6 346.5A8.1 7.6 0 0 1 150.9 348.9Z" fill="#621d40"/>
<path d="M142.8 348.5L150.9 348.7A8.1 7.6 0 0 1 150.4 351.1Z" fill="#b02640"/>
<path d="M142.8 348.5L150.5 350.9A8.1 7.6 0 0 1 149.2 353.1Z" fill="#ff3040"/>
<path d="M142.8 348.5L149.4 352.9A8.1 7.6 0 0 1 147.5 354.7Z" fill="#b43078"/>
<path d="M142.8 348.5L147.7 354.5A8.1 7.6 0 0 1 145.3 355.7Z" fill="#6a30b0"/>
<path d="M142.8 348.5L145.6 355.6A8.1 7.6 0 0 1 143.0 356.1Z" fill="#2030e8"/>
<path d="M142.8 348.5L143.2 356.1A8.1 7.6 0 0 1 140.6 355.8Z" fill="#6550a5"/>
<path d="M142.8 348.5L140.8 355.8A8.1 7.6 0 0 1 138.4 354.8Z" fill="#aa7062"/>
<path d="M142.8 348.5L138.6 354.9A8.1 7.6 0 0 1 136.6 353.3Z" fill="#f09020"/>
<path d="M142.8 348.5L136.7 353.5A8.1 7.6 0 0 1 135.3 351.4Z" fill="#a6662a"/>
<path d="M142.8 348.5L135.4 351.6A8.1 7.6 0 0 1 134.7 349.2Z" fill="#5d3d35"/>
<path d="M142.8 348.5L134.8 349.4A8.1 7.6 0 0 1 134.9 347.0Z" fill="#141440"/>
<path d="M142.8 348.5L134.8 347.2A8.1 7.6 0 0 1 135.7 344.8Z" fill="#4d186a"/>
<path d="M142.8 348.5L135.6 345.0A8.1 7.6 0 0 1 137.2 343.1Z" fill="#861c95"/>
<path d="M142.8 348.5L137.0 343.2A8.1 7.6 0 0 1 139.2 341.8Z" fill="#c020c0"/>
<path d="M142.8 348.5L138.9 341.9A8.1 7.6 0 0 1 141.4 341.0Z" fill="#d0458a"/>
<path d="M142.8 348.5L141.2 341.1A8.1 7.6 0 0 1 143.9 341.0Z" fill="#e06a55"/>
<path d="M142.8 348.5L143.6 341.0A8.1 7.6 0 0 1 146.2 341.6Z" fill="#f09020"/>
<path d="M142.8 348.5L146.0 341.5A8.1 7.6 0 0 1 148.2 342.9Z" fill="#a6662a"/>
<path d="M142.8 348.5L148.0 342.7A8.1 7.6 0 0 1 149.7 344.6Z" fill="#5d3d35"/>
<path d="M142.8 348.5L146.5 346.2A4.5 4.2 0 0 1 147.3 348.4Z" fill="#4060ff"/>
<path d="M142.8 348.5L147.2 348.3A4.5 4.2 0 0 1 146.7 350.5Z" fill="#2e44af"/>
<path d="M142.8 348.5L146.8 350.4A4.5 4.2 0 0 1 145.1 352.1Z" fill="#1c285f"/>
<path d="M142.8 348.5L145.2 352.0A4.5 4.2 0 0 1 142.9 352.7Z" fill="#0b0d10"/>
<path d="M142.8 348.5L143.0 352.7A4.5 4.2 0 0 1 140.6 352.1Z" fill="#573815"/>
<path d="M142.8 348.5L140.8 352.2A4.5 4.2 0 0 1 139.0 350.6Z" fill="#a3641a"/>
<path d="M142.8 348.5L139.1 350.8A4.5 4.2 0 0 1 138.3 348.6Z" fill="#f09020"/>
<path d="M142.8 348.5L138.4 348.7A4.5 4.2 0 0 1 138.9 346.5Z" fill="#a3641a"/>
<path d="M142.8 348.5L138.8 346.6A4.5 4.2 0 0 1 140.5 344.9Z" fill="#573815"/>
<path d="M142.8 348.5L140.4 345.0A4.5 4.2 0 0 1 142.7 344.3Z" fill="#0b0d10"/>
<path d="M142.8 348.5L142.6 344.3A4.5 4.2 0 0 1 145.0 344.9Z" fill="#1c285f"/>
<path d="M142.8 348.5L144.8 344.8A4.5 4.2 0 0 1 146.6 346.4Z" fill="#2e44af"/>
<path d="M142.8 348.5L136.7 353.4A8.1 7.6 0 0 1 135.7 352.2Z" fill="#0a0c10"/>
<path d="M142.8 348.5L138.2 354.7A8.1 7.6 0 0 1 137.0 353.8Z" fill="#0a0c10"/>
<path d="M140.0 346.0L139.5 349.2A3.2 3.2 0 0 1 137.5 348.1Z" fill="#fff080"/>
<path d="M140.0 346.0L137.6 348.1A3.2 3.2 0 0 1 136.8 346.0Z" fill="#ada45a"/>
<path d="M140.0 346.0L136.8 346.1A3.2 3.2 0 0 1 137.5 343.9Z" fill="#5c5835"/>
<path d="M140.0 346.0L137.5 344.0A3.2 3.2 0 0 1 139.5 342.8Z" fill="#0b0d10"/>
<path d="M140.0 346.0L139.4 342.8A3.2 3.2 0 0 1 141.6 343.2Z" fill="#141613"/>
<path d="M140.0 346.0L141.6 343.2A3.2 3.2 0 0 1 143.1 344.9Z" fill="#1e1f16"/>
<path d="M140.0 346.0L143.0 344.8A3.2 3.2 0 0 1 143.0 347.1Z" fill="#28281a"/>
<path d="M140.0 346.0L143.1 347.0A3.2 3.2 0 0 1 141.6 348.8Z" fill="#6f6a3c"/>
<path d="M140.0 346.0L141.7 348.8A3.2 3.2 0 0 1 139.4 349.2Z" fill="#b7ad5e"/>
<path d="M162.1 315.3L158.9 316.7A3.8 2.7 0 0 1 158.4 314.9Z" fill="#20d0ff"/>
<path d="M162.1 315.3L158.4 314.9A3.8 2.7 0 0 1 159.6 313.2Z" fill="#6abab4"/>
<path d="M162.1 315.3L159.6 313.3A3.8 2.7 0 0 1 162.1 312.6Z" fill="#b4a56a"/>
<path d="M162.1 315.3L162.0 312.6A3.8 2.7 0 0 1 164.5 313.2Z" fill="#ff9020"/>
<path d="M162.1 315.3L164.4 313.2A3.8 2.7 0 0 1 165.8 314.8Z" fill="#f46a55"/>
<path d="M162.1 315.3L165.8 314.7A3.8 2.7 0 0 1 165.4 316.6Z" fill="#ea458a"/>
<path d="M162.1 315.3L165.4 316.6A3.8 2.7 0 0 1 163.4 317.8Z" fill="#e020c0"/>
<path d="M162.1 315.3L163.5 317.8A3.8 2.7 0 0 1 160.8 317.8Z" fill="#a05ad5"/>
<path d="M162.1 315.3L160.9 317.9A3.8 2.7 0 0 1 158.8 316.7Z" fill="#6095ea"/>
<path d="M176.4 315.7L173.2 315.1A3.2 2.7 0 0 1 174.5 313.5Z" fill="#f8e8a0"/>
<path d="M176.4 315.7L174.4 313.6A3.2 2.7 0 0 1 176.6 313.0Z" fill="#f2eaba"/>
<path d="M176.4 315.7L176.5 313.0A3.2 2.7 0 0 1 178.6 313.7Z" fill="#ededd5"/>
<path d="M176.4 315.7L178.6 313.7A3.2 2.7 0 0 1 179.6 315.4Z" fill="#e8f0f0"/>
<path d="M176.4 315.7L179.6 315.3A3.2 2.7 0 0 1 179.1 317.2Z" fill="#9ea4a5"/>
<path d="M176.4 315.7L179.2 317.1A3.2 2.7 0 0 1 177.3 318.3Z" fill="#54585a"/>
<path d="M176.4 315.7L177.4 318.3A3.2 2.7 0 0 1 175.1 318.2Z" fill="#0b0d10"/>
<path d="M176.4 315.7L175.2 318.2A3.2 2.7 0 0 1 173.5 316.9Z" fill="#5a5640"/>
<path d="M176.4 315.7L173.5 317.0A3.2 2.7 0 0 1 173.3 315.1Z" fill="#a99f70"/>
<path d="M190.6 315.7L187.8 317.7A4.3 2.7 0 0 1 186.3 316.1Z" fill="#ff3030"/>
<path d="M190.6 315.7L186.3 316.1A4.3 2.7 0 0 1 187.0 314.3Z" fill="#ff502a"/>
<path d="M190.6 315.7L186.9 314.3A4.3 2.7 0 0 1 189.3 313.1Z" fill="#ff7025"/>
<path d="M190.6 315.7L189.2 313.2A4.3 2.7 0 0 1 192.2 313.2Z" fill="#ff9020"/>
<path d="M190.6 315.7L192.1 313.2A4.3 2.7 0 0 1 194.4 314.4Z" fill="#ffaa20"/>
<path d="M190.6 315.7L194.4 314.4A4.3 2.7 0 0 1 194.8 316.3Z" fill="#ffc520"/>
<path d="M190.6 315.7L194.8 316.2A4.3 2.7 0 0 1 193.2 317.8Z" fill="#ffe020"/>
<path d="M190.6 315.7L193.3 317.8A4.3 2.7 0 0 1 190.4 318.4Z" fill="#ffa525"/>
<path d="M190.6 315.7L190.6 318.4A4.3 2.7 0 0 1 187.7 317.7Z" fill="#ff6a2a"/>
<path d="M206.3 317.1L209.2 319.5A4.3 3.2 0 0 1 206.3 320.3Z" fill="#28281a"/>
<path d="M206.3 317.1L206.4 320.3A4.3 3.2 0 0 1 203.5 319.6Z" fill="#6f622c"/>
<path d="M206.3 317.1L203.6 319.6A4.3 3.2 0 0 1 202.0 317.7Z" fill="#b79d3e"/>
<path d="M206.3 317.1L202.1 317.8A4.3 3.2 0 0 1 202.6 315.5Z" fill="#ffd850"/>
<path d="M206.3 317.1L202.5 315.6A4.3 3.2 0 0 1 204.8 314.1Z" fill="#efd265"/>
<path d="M206.3 317.1L204.7 314.1A4.3 3.2 0 0 1 207.8 314.1Z" fill="#dfcd7a"/>
<path d="M206.3 317.1L207.7 314.0A4.3 3.2 0 0 1 210.0 315.5Z" fill="#d0c890"/>
<path d="M206.3 317.1L210.0 315.4A4.3 3.2 0 0 1 210.6 317.7Z" fill="#989268"/>
<path d="M206.3 317.1L210.6 317.6A4.3 3.2 0 0 1 209.1 319.6Z" fill="#605d41"/>
<path d="M220.6 317.0L216.3 316.6A4.3 3.2 0 0 1 217.7 314.6Z" fill="#ffe890"/>
<path d="M220.6 317.0L217.6 314.6A4.3 3.2 0 0 1 220.5 313.8Z" fill="#ecc262"/>
<path d="M220.6 317.0L220.4 313.8A4.3 3.2 0 0 1 223.3 314.5Z" fill="#da9d35"/>
<path d="M220.6 317.0L223.2 314.4A4.3 3.2 0 0 1 224.8 316.4Z" fill="#c87808"/>
<path d="M220.6 317.0L224.8 316.3A4.3 3.2 0 0 1 224.4 318.6Z" fill="#ba6e08"/>
<path d="M220.6 317.0L224.5 318.5A4.3 3.2 0 0 1 222.2 320.0Z" fill="#ad6508"/>
<path d="M220.6 317.0L222.3 320.0A4.3 3.2 0 0 1 219.2 320.1Z" fill="#a05c08"/>
<path d="M220.6 317.0L219.3 320.1A4.3 3.2 0 0 1 216.9 318.7Z" fill="#bf8a35"/>
<path d="M220.6 317.0L217.0 318.8A4.3 3.2 0 0 1 216.3 316.5Z" fill="#dfb962"/>
<path d="M170.0 324.3L174.9 321.7A5.4 5.9 0 0 1 175.4 324.3Z" fill="#d0c890"/>
<path d="M170.0 324.3L175.4 324.1A5.4 5.9 0 0 1 174.9 326.7Z" fill="#989268"/>
<path d="M170.0 324.3L175.0 326.5A5.4 5.9 0 0 1 173.6 328.7Z" fill="#605d41"/>
<path d="M170.0 324.3L173.7 328.6A5.4 5.9 0 0 1 171.7 329.9Z" fill="#28281a"/>
<path d="M170.0 324.3L171.8 329.9A5.4 5.9 0 0 1 169.4 330.2Z" fill="#6f6f66"/>
<path d="M170.0 324.3L169.6 330.2A5.4 5.9 0 0 1 167.3 329.4Z" fill="#b7b7b2"/>
<path d="M170.0 324.3L167.4 329.5A5.4 5.9 0 0 1 165.6 327.8Z" fill="#ffffff"/>
<path d="M170.0 324.3L165.7 327.9A5.4 5.9 0 0 1 164.7 325.5Z" fill="#adaeaf"/>
<path d="M170.0 324.3L164.8 325.7A5.4 5.9 0 0 1 164.7 323.1Z" fill="#5c5d5f"/>
<path d="M170.0 324.3L164.7 323.2A5.4 5.9 0 0 1 165.6 320.8Z" fill="#0b0d10"/>
<path d="M170.0 324.3L165.5 321.0A5.4 5.9 0 0 1 167.3 319.2Z" fill="#5a5640"/>
<path d="M170.0 324.3L167.2 319.2A5.4 5.9 0 0 1 169.4 318.4Z" fill="#a99f70"/>
<path d="M170.0 324.3L169.3 318.4A5.4 5.9 0 0 1 171.7 318.6Z" fill="#f8e8a0"/>
<path d="M170.0 324.3L171.5 318.6A5.4 5.9 0 0 1 173.6 319.9Z" fill="#eadd9a"/>
<path d="M170.0 324.3L173.5 319.8A5.4 5.9 0 0 1 174.9 321.9Z" fill="#ddd295"/>
<path d="M181.0 324.0L186.2 327.2A6.5 5.4 0 0 1 184.1 328.8Z" fill="#0b0d10"/>
<path d="M181.0 324.0L184.2 328.7A6.5 5.4 0 0 1 181.5 329.4Z" fill="#14131a"/>
<path d="M181.0 324.0L181.7 329.4A6.5 5.4 0 0 1 178.8 329.1Z" fill="#1e1925"/>
<path d="M181.0 324.0L179.0 329.1A6.5 5.4 0 0 1 176.5 327.9Z" fill="#282030"/>
<path d="M181.0 324.0L176.7 328.0A6.5 5.4 0 0 1 175.0 326.0Z" fill="#1e1925"/>
<path d="M181.0 324.0L175.1 326.2A6.5 5.4 0 0 1 174.5 323.8Z" fill="#14131a"/>
<path d="M181.0 324.0L174.5 324.0A6.5 5.4 0 0 1 175.2 321.7Z" fill="#0b0d10"/>
<path d="M181.0 324.0L175.1 321.8A6.5 5.4 0 0 1 176.8 319.9Z" fill="#5c2855"/>
<path d="M181.0 324.0L176.7 320.0A6.5 5.4 0 0 1 179.2 318.8Z" fill="#ad449a"/>
<path d="M181.0 324.0L179.0 318.9A6.5 5.4 0 0 1 181.9 318.6Z" fill="#ff60e0"/>
<path d="M181.0 324.0L181.7 318.6A6.5 5.4 0 0 1 184.4 319.4Z" fill="#ad449a"/>
<path d="M181.0 324.0L184.2 319.3A6.5 5.4 0 0 1 186.4 321.0Z" fill="#5c2855"/>
<path d="M181.0 324.0L186.2 320.8A6.5 5.4 0 0 1 187.4 323.0Z" fill="#0b0d10"/>
<path d="M181.0 324.0L187.3 322.9A6.5 5.4 0 0 1 187.3 325.3Z" fill="#0b0d10"/>
<path d="M181.0 324.0L187.3 325.1A6.5 5.4 0 0 1 186.1 327.3Z" fill="#0b0d10"/>
<path d="M181.0 324.0L183.9 325.7A3.6 3.0 0 0 1 182.4 326.7Z" fill="#282030"/>
<path d="M181.0 324.0L182.4 326.7A3.6 3.0 0 0 1 180.5 326.9Z" fill="#1e1925"/>
<path d="M181.0 324.0L180.6 327.0A3.6 3.0 0 0 1 178.8 326.3Z" fill="#14131a"/>
<path d="M181.0 324.0L178.9 326.4A3.6 3.0 0 0 1 177.7 325.1Z" fill="#0b0d10"/>
<path d="M181.0 324.0L177.7 325.2A3.6 3.0 0 0 1 177.5 323.6Z" fill="#5c5d5f"/>
<path d="M181.0 324.0L177.5 323.7A3.6 3.0 0 0 1 178.2 322.2Z" fill="#adaeaf"/>
<path d="M181.0 324.0L178.1 322.3A3.6 3.0 0 0 1 179.6 321.3Z" fill="#ffffff"/>
<path d="M181.0 324.0L179.6 321.3A3.6 3.0 0 0 1 181.5 321.1Z" fill="#f4bad4"/>
<path d="M181.0 324.0L181.4 321.0A3.6 3.0 0 0 1 183.2 321.7Z" fill="#ea75aa"/>
<path d="M181.0 324.0L183.1 321.6A3.6 3.0 0 0 1 184.3 322.9Z" fill="#e03080"/>
<path d="M181.0 324.0L184.3 322.8A3.6 3.0 0 0 1 184.5 324.4Z" fill="#a22a65"/>
<path d="M181.0 324.0L184.5 324.3A3.6 3.0 0 0 1 183.8 325.8Z" fill="#65254a"/>
<path d="M181.0 324.0L186.6 321.2A6.5 5.4 0 0 1 187.1 322.2Z" fill="#0a0c10"/>
<path d="M181.0 324.0L181.3 329.4A6.5 5.4 0 0 1 180.0 329.3Z" fill="#0a0c10"/>
<path d="M181.0 324.0L180.0 318.7A6.5 5.4 0 0 1 181.2 318.6Z" fill="#0a0c10"/>
<path d="M181.0 324.0L185.4 328.0A6.5 5.4 0 0 1 184.3 328.6Z" fill="#0a0c10"/>
<path d="M194.9 324.3L191.4 320.2A5.4 5.4 0 0 1 193.5 319.1Z" fill="#0b0d10"/>
<path d="M194.9 324.3L193.4 319.1A5.4 5.4 0 0 1 195.8 319.0Z" fill="#5c4315"/>
<path d="M194.9 324.3L195.6 318.9A5.4 5.4 0 0 1 197.9 319.8Z" fill="#ad791a"/>
<path d="M194.9 324.3L197.7 319.7A5.4 5.4 0 0 1 199.4 321.4Z" fill="#ffb020"/>
<path d="M194.9 324.3L199.3 321.2A5.4 5.4 0 0 1 200.2 323.5Z" fill="#ffc020"/>
<path d="M194.9 324.3L200.2 323.3A5.4 5.4 0 0 1 200.1 325.7Z" fill="#ffd020"/>
<path d="M194.9 324.3L200.2 325.6A5.4 5.4 0 0 1 199.1 327.7Z" fill="#ffe020"/>
<path d="M194.9 324.3L199.2 327.6A5.4 5.4 0 0 1 197.3 329.1Z" fill="#f4a055"/>
<path d="M194.9 324.3L197.5 329.0A5.4 5.4 0 0 1 195.2 329.7Z" fill="#ea608a"/>
<path d="M194.9 324.3L195.3 329.7A5.4 5.4 0 0 1 193.0 329.3Z" fill="#e020c0"/>
<path d="M194.9 324.3L193.1 329.4A5.4 5.4 0 0 1 191.1 328.1Z" fill="#ea608a"/>
<path d="M194.9 324.3L191.2 328.2A5.4 5.4 0 0 1 189.9 326.2Z" fill="#f4a055"/>
<path d="M194.9 324.3L189.9 326.4A5.4 5.4 0 0 1 189.5 324.0Z" fill="#ffe020"/>
<path d="M194.9 324.3L189.5 324.2A5.4 5.4 0 0 1 190.1 321.8Z" fill="#ad991a"/>
<path d="M194.9 324.3L190.0 322.0A5.4 5.4 0 0 1 191.5 320.1Z" fill="#5c5315"/>
<path d="M179.2 333.5L183.6 327.8A7.6 7.0 0 0 1 185.8 330.1Z" fill="#0b0d10"/>
<path d="M179.2 333.5L185.7 329.9A7.6 7.0 0 0 1 186.7 332.9Z" fill="#521835"/>
<path d="M179.2 333.5L186.7 332.7A7.6 7.0 0 0 1 186.3 335.8Z" fill="#99245a"/>
<path d="M179.2 333.5L186.4 335.6A7.6 7.0 0 0 1 184.7 338.3Z" fill="#e03080"/>
<path d="M179.2 333.5L184.9 338.2A7.6 7.0 0 0 1 182.1 340.0Z" fill="#ea708a"/>
<path d="M179.2 333.5L182.3 339.9A7.6 7.0 0 0 1 179.0 340.5Z" fill="#f4b095"/>
<path d="M179.2 333.5L179.3 340.5A7.6 7.0 0 0 1 176.0 339.8Z" fill="#fff0a0"/>
<path d="M179.2 333.5L176.2 339.9A7.6 7.0 0 0 1 173.5 338.1Z" fill="#ffc0b5"/>
<path d="M179.2 333.5L173.6 338.2A7.6 7.0 0 0 1 172.0 335.5Z" fill="#ff90ca"/>
<path d="M179.2 333.5L172.0 335.7A7.6 7.0 0 0 1 171.7 332.6Z" fill="#ff60e0"/>
<path d="M179.2 333.5L171.7 332.8A7.6 7.0 0 0 1 172.7 329.9Z" fill="#b74aa5"/>
<path d="M179.2 333.5L172.6 330.0A7.6 7.0 0 0 1 174.9 327.7Z" fill="#6f356a"/>
<path d="M179.2 333.5L174.7 327.9A7.6 7.0 0 0 1 177.8 326.6Z" fill="#282030"/>
<path d="M179.2 333.5L177.6 326.6A7.6 7.0 0 0 1 180.9 326.7Z" fill="#1e1925"/>
<path d="M179.2 333.5L180.7 326.6A7.6 7.0 0 0 1 183.8 327.9Z" fill="#14131a"/>
<path d="M179.2 333.5L181.6 330.4A4.2 3.9 0 0 1 183.0 332.0Z" fill="#f0f0ff"/>
<path d="M179.2 333.5L183.0 331.9A4.2 3.9 0 0 1 183.3 334.0Z" fill="#adaaba"/>
<path d="M179.2 333.5L183.3 333.9A4.2 3.9 0 0 1 182.5 335.8Z" fill="#6a6575"/>
<path d="M179.2 333.5L182.6 335.7A4.2 3.9 0 0 1 180.8 337.1Z" fill="#282030"/>
<path d="M179.2 333.5L180.9 337.0A4.2 3.9 0 0 1 178.7 337.3Z" fill="#6f6a75"/>
<path d="M179.2 333.5L178.8 337.3A4.2 3.9 0 0 1 176.7 336.6Z" fill="#b7b4ba"/>
<path d="M179.2 333.5L176.8 336.6A4.2 3.9 0 0 1 175.4 335.0Z" fill="#ffffff"/>
<path d="M179.2 333.5L175.4 335.1A4.2 3.9 0 0 1 175.1 333.0Z" fill="#f4bad4"/>
<path d="M179.2 333.5L175.1 333.1A4.2 3.9 0 0 1 175.9 331.2Z" fill="#ea75aa"/>
<path d="M179.2 333.5L175.8 331.3A4.2 3.9 0 0 1 177.6 329.9Z" fill="#e03080"/>
<path d="M179.2 333.5L177.5 330.0A4.2 3.9 0 0 1 179.7 329.7Z" fill="#e570aa"/>
<path d="M179.2 333.5L179.6 329.7A4.2 3.9 0 0 1 181.7 330.4Z" fill="#eab0d4"/>
<path d="M179.2 333.5L174.8 339.2A7.6 7.0 0 0 1 173.7 338.3Z" fill="#0a0c10"/>
<path d="M179.2 333.5L181.1 326.7A7.6 7.0 0 0 1 182.5 327.2Z" fill="#0a0c10"/>
<path d="M179.2 333.5L186.0 336.6A7.6 7.0 0 0 1 185.2 337.8Z" fill="#0a0c10"/>
<path d="M176.0 332.0L178.9 329.5A3.8 3.8 0 0 1 179.8 332.1Z" fill="#ffb010"/>
<path d="M176.0 332.0L179.8 332.0A3.8 3.8 0 0 1 178.9 334.5Z" fill="#ffc015"/>
<path d="M176.0 332.0L178.9 334.4A3.8 3.8 0 0 1 176.6 335.7Z" fill="#ffd01a"/>
<path d="M176.0 332.0L176.7 335.7A3.8 3.8 0 0 1 174.1 335.2Z" fill="#ffe020"/>
<path d="M176.0 332.0L174.2 335.3A3.8 3.8 0 0 1 172.4 333.2Z" fill="#d4b215"/>
<path d="M176.0 332.0L172.5 333.3A3.8 3.8 0 0 1 172.5 330.6Z" fill="#aa850a"/>
<path d="M176.0 332.0L172.4 330.8A3.8 3.8 0 0 1 174.2 328.7Z" fill="#805800"/>
<path d="M176.0 332.0L174.1 328.8A3.8 3.8 0 0 1 176.7 328.3Z" fill="#aa7505"/>
<path d="M176.0 332.0L176.6 328.3A3.8 3.8 0 0 1 178.9 329.6Z" fill="#d4920a"/>
<path d="M161.4 348.5L156.1 345.1A6.5 5.9 0 0 1 158.2 343.3Z" fill="#ff2020"/>
<path d="M161.4 348.5L158.0 343.4A6.5 5.9 0 0 1 160.7 342.6Z" fill="#ad191a"/>
<path d="M161.4 348.5L160.6 342.6A6.5 5.9 0 0 1 163.4 342.9Z" fill="#5c1315"/>
<path d="M161.4 348.5L163.2 342.8A6.5 5.9 0 0 1 165.8 344.1Z" fill="#0b0d10"/>
<path d="M161.4 348.5L165.6 344.0A6.5 5.9 0 0 1 167.3 346.1Z" fill="#521340"/>
<path d="M161.4 348.5L167.2 345.9A6.5 5.9 0 0 1 167.9 348.5Z" fill="#991970"/>
<path d="M161.4 348.5L167.9 348.3A6.5 5.9 0 0 1 167.3 350.9Z" fill="#e020a0"/>
<path d="M161.4 348.5L167.4 350.8A6.5 5.9 0 0 1 165.7 352.9Z" fill="#991970"/>
<path d="M161.4 348.5L165.9 352.8A6.5 5.9 0 0 1 163.4 354.2Z" fill="#521340"/>
<path d="M161.4 348.5L163.6 354.1A6.5 5.9 0 0 1 160.7 354.4Z" fill="#0b0d10"/>
<path d="M161.4 348.5L160.9 354.4A6.5 5.9 0 0 1 158.1 353.6Z" fill="#5c2815"/>
<path d="M161.4 348.5L158.3 353.7A6.5 5.9 0 0 1 156.1 352.0Z" fill="#ad441a"/>
<path d="M161.4 348.5L156.3 352.1A6.5 5.9 0 0 1 155.1 349.7Z" fill="#ff6020"/>
<path d="M161.4 348.5L155.1 349.9A6.5 5.9 0 0 1 155.1 347.2Z" fill="#ff4a20"/>
<path d="M161.4 348.5L155.0 347.4A6.5 5.9 0 0 1 156.2 345.0Z" fill="#ff3520"/>
<path d="M161.4 348.5L158.5 346.6A3.6 3.3 0 0 1 160.0 345.5Z" fill="#ffe020"/>
<path d="M161.4 348.5L159.9 345.6A3.6 3.3 0 0 1 161.8 345.3Z" fill="#f4a04a"/>
<path d="M161.4 348.5L161.7 345.2A3.6 3.3 0 0 1 163.5 345.9Z" fill="#ea6075"/>
<path d="M161.4 348.5L163.4 345.8A3.6 3.3 0 0 1 164.7 347.2Z" fill="#e020a0"/>
<path d="M161.4 348.5L164.6 347.1A3.6 3.3 0 0 1 164.9 348.9Z" fill="#ea2075"/>
<path d="M161.4 348.5L165.0 348.8A3.6 3.3 0 0 1 164.3 350.4Z" fill="#f4204a"/>
<path d="M161.4 348.5L164.3 350.4A3.6 3.3 0 0 1 162.8 351.5Z" fill="#ff2020"/>
<path d="M161.4 348.5L162.9 351.4A3.6 3.3 0 0 1 161.0 351.7Z" fill="#ff6020"/>
<path d="M161.4 348.5L161.1 351.8A3.6 3.3 0 0 1 159.3 351.1Z" fill="#ffa020"/>
<path d="M161.4 348.5L159.4 351.2A3.6 3.3 0 0 1 158.1 349.8Z" fill="#ffe020"/>
<path d="M161.4 348.5L158.2 349.9A3.6 3.3 0 0 1 157.9 348.1Z" fill="#ffe020"/>
<path d="M161.4 348.5L157.8 348.2A3.6 3.3 0 0 1 158.5 346.6Z" fill="#ffe020"/>
<path d="M161.4 348.5L155.2 346.9A6.5 5.9 0 0 1 155.6 345.8Z" fill="#0a0c10"/>
<path d="M161.4 348.5L167.3 346.0A6.5 5.9 0 0 1 167.7 347.1Z" fill="#0a0c10"/>
<path d="M161.4 348.5L157.7 343.6A6.5 5.9 0 0 1 158.8 343.0Z" fill="#0a0c10"/>
<path d="M161.4 348.5L162.7 354.3A6.5 5.9 0 0 1 161.5 354.4Z" fill="#0a0c10"/>
<path d="M153.5 347.0L150.8 348.8A3.2 3.2 0 0 1 150.3 346.6Z" fill="#f8e8a0"/>
<path d="M153.5 347.0L150.3 346.7A3.2 3.2 0 0 1 151.3 344.6Z" fill="#a99f70"/>
<path d="M153.5 347.0L151.2 344.7A3.2 3.2 0 0 1 153.4 343.8Z" fill="#5a5640"/>
<path d="M153.5 347.0L153.3 343.8A3.2 3.2 0 0 1 155.5 344.4Z" fill="#0b0d10"/>
<path d="M153.5 347.0L155.4 344.4A3.2 3.2 0 0 1 156.7 346.3Z" fill="#5c5835"/>
<path d="M153.5 347.0L156.6 346.2A3.2 3.2 0 0 1 156.4 348.5Z" fill="#ada45a"/>
<path d="M153.5 347.0L156.4 348.4A3.2 3.2 0 0 1 154.7 350.0Z" fill="#fff080"/>
<path d="M153.5 347.0L154.8 350.0A3.2 3.2 0 0 1 152.5 350.1Z" fill="#fced8a"/>
<path d="M153.5 347.0L152.6 350.1A3.2 3.2 0 0 1 150.8 348.7Z" fill="#faea95"/>
<path d="M175.7 355.0L180.4 352.0A6.5 4.3 0 0 1 181.9 353.6Z" fill="#f8e8a0"/>
<path d="M175.7 355.0L181.8 353.5A6.5 4.3 0 0 1 182.1 355.4Z" fill="#b2a873"/>
<path d="M175.7 355.0L182.2 355.3A6.5 4.3 0 0 1 181.3 357.1Z" fill="#6d6846"/>
<path d="M175.7 355.0L181.4 357.0A6.5 4.3 0 0 1 179.5 358.5Z" fill="#28281a"/>
<path d="M175.7 355.0L179.7 358.4A6.5 4.3 0 0 1 177.1 359.2Z" fill="#6f6f66"/>
<path d="M175.7 355.0L177.3 359.2A6.5 4.3 0 0 1 174.4 359.2Z" fill="#b7b7b2"/>
<path d="M175.7 355.0L174.6 359.3A6.5 4.3 0 0 1 171.9 358.5Z" fill="#ffffff"/>
<path d="M175.7 355.0L172.1 358.6A6.5 4.3 0 0 1 170.1 357.2Z" fill="#fffad4"/>
<path d="M175.7 355.0L170.2 357.3A6.5 4.3 0 0 1 169.3 355.5Z" fill="#fff5aa"/>
<path d="M175.7 355.0L169.3 355.6A6.5 4.3 0 0 1 169.5 353.7Z" fill="#fff080"/>
<path d="M175.7 355.0L169.5 353.8A6.5 4.3 0 0 1 170.9 352.1Z" fill="#b7ad5e"/>
<path d="M175.7 355.0L170.7 352.2A6.5 4.3 0 0 1 173.0 351.1Z" fill="#6f6a3c"/>
<path d="M175.7 355.0L172.9 351.1A6.5 4.3 0 0 1 175.7 350.7Z" fill="#28281a"/>
<path d="M175.7 355.0L175.5 350.7A6.5 4.3 0 0 1 178.3 351.0Z" fill="#6d6846"/>
<path d="M175.7 355.0L178.1 351.0A6.5 4.3 0 0 1 180.5 352.1Z" fill="#b2a873"/>
<path d="M175.7 355.0L178.3 353.3A3.6 2.4 0 0 1 179.2 354.5Z" fill="#fff080"/>
<path d="M175.7 355.0L179.2 354.4A3.6 2.4 0 0 1 179.1 355.7Z" fill="#fced8a"/>
<path d="M175.7 355.0L179.1 355.7A3.6 2.4 0 0 1 178.1 356.8Z" fill="#faea95"/>
<path d="M175.7 355.0L178.2 356.7A3.6 2.4 0 0 1 176.5 357.3Z" fill="#f8e8a0"/>
<path d="M175.7 355.0L176.6 357.3A3.6 2.4 0 0 1 174.6 357.3Z" fill="#faea95"/>
<path d="M175.7 355.0L174.7 357.3A3.6 2.4 0 0 1 173.1 356.6Z" fill="#fced8a"/>
<path d="M175.7 355.0L173.1 356.7A3.6 2.4 0 0 1 172.2 355.5Z" fill="#fff080"/>
<path d="M175.7 355.0L172.2 355.6A3.6 2.4 0 0 1 172.3 354.3Z" fill="#f7f0a5"/>
<path d="M175.7 355.0L172.3 354.3A3.6 2.4 0 0 1 173.3 353.2Z" fill="#eff0ca"/>
<path d="M175.7 355.0L173.2 353.3A3.6 2.4 0 0 1 174.9 352.7Z" fill="#e8f0f0"/>
<path d="M175.7 355.0L174.8 352.7A3.6 2.4 0 0 1 176.8 352.7Z" fill="#eff0ca"/>
<path d="M175.7 355.0L176.7 352.7A3.6 2.4 0 0 1 178.3 353.4Z" fill="#f7f0a5"/>
<path d="M175.7 355.0L179.6 351.5A6.5 4.3 0 0 1 180.5 352.1Z" fill="#0a0c10"/>
<path d="M175.7 355.0L170.1 357.2A6.5 4.3 0 0 1 169.6 356.4Z" fill="#0a0c10"/>
<path d="M187.8 355.6L181.6 357.1A6.5 5.4 0 0 1 181.4 354.7Z" fill="#ffb010"/>
<path d="M187.8 355.6L181.4 354.8A6.5 5.4 0 0 1 182.4 352.6Z" fill="#d4920a"/>
<path d="M187.8 355.6L182.3 352.7A6.5 5.4 0 0 1 184.4 351.0Z" fill="#aa7505"/>
<path d="M187.8 355.6L184.2 351.1A6.5 5.4 0 0 1 186.9 350.3Z" fill="#805800"/>
<path d="M187.8 355.6L186.7 350.3A6.5 5.4 0 0 1 189.6 350.4Z" fill="#593f05"/>
<path d="M187.8 355.6L189.4 350.4A6.5 5.4 0 0 1 192.0 351.5Z" fill="#32260a"/>
<path d="M187.8 355.6L191.8 351.4A6.5 5.4 0 0 1 193.6 353.2Z" fill="#0b0d10"/>
<path d="M187.8 355.6L193.5 353.1A6.5 5.4 0 0 1 194.3 355.4Z" fill="#5c3310"/>
<path d="M187.8 355.6L194.3 355.3A6.5 5.4 0 0 1 193.8 357.6Z" fill="#ad5910"/>
<path d="M187.8 355.6L193.9 357.5A6.5 5.4 0 0 1 192.3 359.5Z" fill="#ff8010"/>
<path d="M187.8 355.6L192.4 359.4A6.5 5.4 0 0 1 190.0 360.7Z" fill="#ffa015"/>
<path d="M187.8 355.6L190.2 360.6A6.5 5.4 0 0 1 187.3 361.0Z" fill="#ffc01a"/>
<path d="M187.8 355.6L187.5 361.0A6.5 5.4 0 0 1 184.8 360.4Z" fill="#ffe020"/>
<path d="M187.8 355.6L184.9 360.4A6.5 5.4 0 0 1 182.7 358.9Z" fill="#ffd01a"/>
<path d="M187.8 355.6L182.8 359.0A6.5 5.4 0 0 1 181.5 356.9Z" fill="#ffc015"/>
<path d="M187.8 355.6L184.4 356.4A3.6 3.0 0 0 1 184.4 354.8Z" fill="#fff8a0"/>
<path d="M187.8 355.6L184.3 354.9A3.6 3.0 0 0 1 185.3 353.5Z" fill="#ada970"/>
<path d="M187.8 355.6L185.3 353.5A3.6 3.0 0 0 1 186.9 352.7Z" fill="#5c5b40"/>
<path d="M187.8 355.6L186.8 352.7A3.6 3.0 0 0 1 188.8 352.7Z" fill="#0b0d10"/>
<path d="M187.8 355.6L188.7 352.7A3.6 3.0 0 0 1 190.4 353.5Z" fill="#5c4e0a"/>
<path d="M187.8 355.6L190.3 353.5A3.6 3.0 0 0 1 191.3 354.9Z" fill="#ad8f05"/>
<path d="M187.8 355.6L191.2 354.8A3.6 3.0 0 0 1 191.2 356.4Z" fill="#ffd000"/>
<path d="M187.8 355.6L191.3 356.3A3.6 3.0 0 0 1 190.3 357.7Z" fill="#ffd50a"/>
<path d="M187.8 355.6L190.3 357.7A3.6 3.0 0 0 1 188.7 358.5Z" fill="#ffda15"/>
<path d="M187.8 355.6L188.8 358.5A3.6 3.0 0 0 1 186.8 358.5Z" fill="#ffe020"/>
<path d="M187.8 355.6L186.9 358.5A3.6 3.0 0 0 1 185.2 357.7Z" fill="#ffe84a"/>
<path d="M187.8 355.6L185.3 357.7A3.6 3.0 0 0 1 184.3 356.3Z" fill="#fff075"/>
<path d="M187.8 355.6L191.1 351.0A6.5 5.4 0 0 1 192.1 351.6Z" fill="#0a0c10"/>
<path d="M187.8 355.6L193.7 353.3A6.5 5.4 0 0 1 194.1 354.3Z" fill="#0a0c10"/>
<path d="M187.8 355.6L194.1 356.8A6.5 5.4 0 0 1 193.7 357.9Z" fill="#0a0c10"/>
<path d="M187.0 365.6L188.1 373.6A8.1 8.1 0 0 1 185.5 373.6Z" fill="#e03080"/>
<path d="M187.0 365.6L185.7 373.6A8.1 8.1 0 0 1 183.2 372.8Z" fill="#ea40a0"/>
<path d="M187.0 365.6L183.4 372.9A8.1 8.1 0 0 1 181.3 371.3Z" fill="#f450c0"/>
<path d="M187.0 365.6L181.4 371.5A8.1 8.1 0 0 1 179.8 369.4Z" fill="#ff60e0"/>
<path d="M187.0 365.6L179.9 369.6A8.1 8.1 0 0 1 179.0 367.1Z" fill="#ad449a"/>
<path d="M187.0 365.6L179.1 367.3A8.1 8.1 0 0 1 179.0 364.7Z" fill="#5c2855"/>
<path d="M187.0 365.6L178.9 364.9A8.1 8.1 0 0 1 179.6 362.3Z" fill="#0b0d10"/>
<path d="M187.0 365.6L179.5 362.6A8.1 8.1 0 0 1 180.9 360.3Z" fill="#57585f"/>
<path d="M187.0 365.6L180.7 360.5A8.1 8.1 0 0 1 182.7 358.7Z" fill="#a3a4af"/>
<path d="M187.0 365.6L182.5 358.9A8.1 8.1 0 0 1 184.9 357.8Z" fill="#f0f0ff"/>
<path d="M187.0 365.6L184.7 357.8A8.1 8.1 0 0 1 187.3 357.5Z" fill="#f5c0f4"/>
<path d="M187.0 365.6L187.1 357.5A8.1 8.1 0 0 1 189.7 358.0Z" fill="#fa90ea"/>
<path d="M187.0 365.6L189.5 357.9A8.1 8.1 0 0 1 191.8 359.1Z" fill="#ff60e0"/>
<path d="M187.0 365.6L191.6 359.0A8.1 8.1 0 0 1 193.5 360.8Z" fill="#fa90ea"/>
<path d="M187.0 365.6L193.4 360.6A8.1 8.1 0 0 1 194.7 362.9Z" fill="#f5c0f4"/>
<path d="M187.0 365.6L194.6 362.7A8.1 8.1 0 0 1 195.1 365.3Z" fill="#f0f0ff"/>
<path d="M187.0 365.6L195.1 365.1A8.1 8.1 0 0 1 194.8 367.7Z" fill="#b5eaff"/>
<path d="M187.0 365.6L194.9 367.5A8.1 8.1 0 0 1 193.8 369.9Z" fill="#7ae5ff"/>
<path d="M187.0 365.6L194.0 369.7A8.1 8.1 0 0 1 192.3 371.8Z" fill="#40e0ff"/>
<path d="M187.0 365.6L192.5 371.6A8.1 8.1 0 0 1 190.2 373.0Z" fill="#75a5d4"/>
<path d="M187.0 365.6L190.4 372.9A8.1 8.1 0 0 1 187.9 373.7Z" fill="#aa6aaa"/>
<path d="M187.0 365.6L187.6 370.0A4.5 4.5 0 0 1 185.2 369.7Z" fill="#0b0d10"/>
<path d="M187.0 365.6L185.3 369.7A4.5 4.5 0 0 1 183.4 368.2Z" fill="#521835"/>
<path d="M187.0 365.6L183.5 368.3A4.5 4.5 0 0 1 182.6 366.1Z" fill="#99245a"/>
<path d="M187.0 365.6L182.6 366.2A4.5 4.5 0 0 1 182.9 363.8Z" fill="#e03080"/>
<path d="M187.0 365.6L182.9 363.9A4.5 4.5 0 0 1 184.4 362.0Z" fill="#e570aa"/>
<path d="M187.0 365.6L184.3 362.1A4.5 4.5 0 0 1 186.5 361.2Z" fill="#eab0d4"/>
<path d="M187.0 365.6L186.4 361.2A4.5 4.5 0 0 1 188.8 361.5Z" fill="#f0f0ff"/>
<path d="M187.0 365.6L188.7 361.5A4.5 4.5 0 0 1 190.6 363.0Z" fill="#f5f5ff"/>
<path d="M187.0 365.6L190.5 362.9A4.5 4.5 0 0 1 191.4 365.1Z" fill="#fafaff"/>
<path d="M187.0 365.6L191.4 365.0A4.5 4.5 0 0 1 191.1 367.4Z" fill="#ffffff"/>
<path d="M187.0 365.6L191.1 367.3A4.5 4.5 0 0 1 189.6 369.2Z" fill="#adaeaf"/>
<path d="M187.0 365.6L189.7 369.1A4.5 4.5 0 0 1 187.5 370.0Z" fill="#5c5d5f"/>
<path d="M187.0 365.6L183.4 372.8A8.1 8.1 0 0 1 182.0 372.0Z" fill="#0a0c10"/>
<path d="M187.0 365.6L194.7 363.2A8.1 8.1 0 0 1 195.1 364.8Z" fill="#0a0c10"/>
<path d="M187.0 365.6L182.3 372.2A8.1 8.1 0 0 1 181.0 371.1Z" fill="#0a0c10"/>
<path d="M197.8 367.0L204.7 365.8A7.0 7.0 0 0 1 204.6 368.9Z" fill="#0b0d10"/>
<path d="M197.8 367.0L204.6 368.7A7.0 7.0 0 0 1 203.2 371.5Z" fill="#5c4820"/>
<path d="M197.8 367.0L203.3 371.3A7.0 7.0 0 0 1 200.9 373.3Z" fill="#ad8430"/>
<path d="M197.8 367.0L201.1 373.2A7.0 7.0 0 0 1 198.1 374.0Z" fill="#ffc040"/>
<path d="M197.8 367.0L198.3 374.0A7.0 7.0 0 0 1 195.2 373.5Z" fill="#ba8a30"/>
<path d="M197.8 367.0L195.4 373.6A7.0 7.0 0 0 1 192.8 371.9Z" fill="#755520"/>
<path d="M197.8 367.0L192.9 372.1A7.0 7.0 0 0 1 191.2 369.4Z" fill="#302010"/>
<path d="M197.8 367.0L191.3 369.6A7.0 7.0 0 0 1 190.8 366.6Z" fill="#756035"/>
<path d="M197.8 367.0L190.8 366.8A7.0 7.0 0 0 1 191.6 363.7Z" fill="#baa05a"/>
<path d="M197.8 367.0L191.5 363.9A7.0 7.0 0 0 1 193.4 361.5Z" fill="#ffe080"/>
<path d="M197.8 367.0L193.3 361.6A7.0 7.0 0 0 1 196.1 360.2Z" fill="#ffc560"/>
<path d="M197.8 367.0L195.9 360.3A7.0 7.0 0 0 1 199.0 360.1Z" fill="#ffaa40"/>
<path d="M197.8 367.0L198.8 360.0A7.0 7.0 0 0 1 201.7 361.2Z" fill="#ff9020"/>
<path d="M197.8 367.0L201.5 361.0A7.0 7.0 0 0 1 203.7 363.2Z" fill="#ad641a"/>
<path d="M197.8 367.0L203.6 363.1A7.0 7.0 0 0 1 204.7 366.0Z" fill="#5c3815"/>
<path d="M197.8 367.0L201.6 366.3A3.9 3.9 0 0 1 201.4 368.4Z" fill="#0b0d10"/>
<path d="M197.8 367.0L201.4 368.3A3.9 3.9 0 0 1 200.2 370.0Z" fill="#5c5335"/>
<path d="M197.8 367.0L200.3 370.0A3.9 3.9 0 0 1 198.4 370.8Z" fill="#ad995a"/>
<path d="M197.8 367.0L198.5 370.8A3.9 3.9 0 0 1 196.4 370.6Z" fill="#ffe080"/>
<path d="M197.8 367.0L196.5 370.6A3.9 3.9 0 0 1 194.8 369.4Z" fill="#baa05a"/>
<path d="M197.8 367.0L194.8 369.5A3.9 3.9 0 0 1 194.0 367.6Z" fill="#756035"/>
<path d="M197.8 367.0L194.0 367.7A3.9 3.9 0 0 1 194.2 365.6Z" fill="#302010"/>
<path d="M197.8 367.0L194.2 365.7A3.9 3.9 0 0 1 195.4 364.0Z" fill="#755520"/>
<path d="M197.8 367.0L195.3 364.0A3.9 3.9 0 0 1 197.2 363.2Z" fill="#ba8a30"/>
<path d="M197.8 367.0L197.1 363.2A3.9 3.9 0 0 1 199.2 363.4Z" fill="#ffc040"/>
<path d="M197.8 367.0L199.1 363.4A3.9 3.9 0 0 1 200.8 364.6Z" fill="#ad8430"/>
<path d="M197.8 367.0L200.8 364.5A3.9 3.9 0 0 1 201.6 366.4Z" fill="#5c4820"/>
<path d="M197.8 367.0L199.7 360.2A7.0 7.0 0 0 1 201.0 360.8Z" fill="#0a0c10"/>
<path d="M197.8 367.0L199.2 373.9A7.0 7.0 0 0 1 197.8 374.0Z" fill="#0a0c10"/>
<path d="M197.8 367.0L202.7 372.1A7.0 7.0 0 0 1 201.6 372.9Z" fill="#0a0c10"/>
<path d="M197.8 367.0L196.2 360.2A7.0 7.0 0 0 1 197.6 360.0Z" fill="#0a0c10"/>
<path d="M198.0 367.0L194.9 365.2A3.2 6.5 0 0 1 195.6 362.6Z" fill="#ff2020"/>
<path d="M198.0 367.0L195.5 362.8A3.2 6.5 0 0 1 196.7 361.1Z" fill="#b41825"/>
<path d="M198.0 367.0L196.6 361.1A3.2 6.5 0 0 1 198.0 360.5Z" fill="#6a102a"/>
<path d="M198.0 367.0L197.9 360.5A3.2 6.5 0 0 1 199.3 361.1Z" fill="#200830"/>
<path d="M198.0 367.0L199.2 361.0A3.2 6.5 0 0 1 200.4 362.7Z" fill="#601055"/>
<path d="M198.0 367.0L200.4 362.5A3.2 6.5 0 0 1 201.1 365.0Z" fill="#a0187a"/>
<path d="M198.0 367.0L201.1 364.8A3.2 6.5 0 0 1 201.2 367.7Z" fill="#e020a0"/>
<path d="M198.0 367.0L201.2 367.5A3.2 6.5 0 0 1 200.8 370.3Z" fill="#ea6075"/>
<path d="M198.0 367.0L200.8 370.1A3.2 6.5 0 0 1 199.9 372.3Z" fill="#f4a04a"/>
<path d="M198.0 367.0L200.0 372.1A3.2 6.5 0 0 1 198.7 373.3Z" fill="#ffe020"/>
<path d="M198.0 367.0L198.8 373.3A3.2 6.5 0 0 1 197.3 373.3Z" fill="#b4aa6a"/>
<path d="M198.0 367.0L197.4 373.4A3.2 6.5 0 0 1 196.1 372.2Z" fill="#6a75b4"/>
<path d="M198.0 367.0L196.2 372.3A3.2 6.5 0 0 1 195.2 370.2Z" fill="#2040ff"/>
<path d="M198.0 367.0L195.2 370.4A3.2 6.5 0 0 1 194.8 367.6Z" fill="#6a35b4"/>
<path d="M198.0 367.0L194.8 367.8A3.2 6.5 0 0 1 194.9 365.0Z" fill="#b42a6a"/>
<path d="M198.0 367.0L196.3 366.0A1.8 3.6 0 0 1 196.8 364.3Z" fill="#ff6020"/>
<path d="M198.0 367.0L196.8 364.4A1.8 3.6 0 0 1 197.6 363.5Z" fill="#ff8a20"/>
<path d="M198.0 367.0L197.6 363.5A1.8 3.6 0 0 1 198.6 363.6Z" fill="#ffb520"/>
<path d="M198.0 367.0L198.5 363.6A1.8 3.6 0 0 1 199.3 364.6Z" fill="#ffe020"/>
<path d="M198.0 367.0L199.3 364.5A1.8 3.6 0 0 1 199.7 366.3Z" fill="#ffa020"/>
<path d="M198.0 367.0L199.7 366.2A1.8 3.6 0 0 1 199.7 368.1Z" fill="#ff6020"/>
<path d="M198.0 367.0L199.7 368.0A1.8 3.6 0 0 1 199.2 369.7Z" fill="#ff2020"/>
<path d="M198.0 367.0L199.2 369.6A1.8 3.6 0 0 1 198.4 370.5Z" fill="#b42a6a"/>
<path d="M198.0 367.0L198.4 370.5A1.8 3.6 0 0 1 197.4 370.4Z" fill="#6a35b4"/>
<path d="M198.0 367.0L197.5 370.4A1.8 3.6 0 0 1 196.7 369.4Z" fill="#2040ff"/>
<path d="M198.0 367.0L196.7 369.5A1.8 3.6 0 0 1 196.3 367.7Z" fill="#6a4ab4"/>
<path d="M198.0 367.0L196.3 367.8A1.8 3.6 0 0 1 196.3 365.9Z" fill="#b4556a"/>
<path d="M198.0 367.0L199.1 360.9A3.2 6.5 0 0 1 199.7 361.5Z" fill="#0a0c10"/>
<path d="M198.0 367.0L194.8 366.2A3.2 6.5 0 0 1 194.9 365.0Z" fill="#0a0c10"/>
<path d="M198.0 367.0L199.2 373.0A3.2 6.5 0 0 1 198.6 373.4Z" fill="#0a0c10"/>
<path d="M173.5 374.0L173.3 382.6A9.7 8.6 0 0 1 170.2 382.1Z" fill="#a05c08"/>
<path d="M173.5 374.0L170.5 382.2A9.7 8.6 0 0 1 167.6 380.9Z" fill="#ad6508"/>
<path d="M173.5 374.0L167.9 381.0A9.7 8.6 0 0 1 165.6 379.1Z" fill="#ba6e08"/>
<path d="M173.5 374.0L165.8 379.3A9.7 8.6 0 0 1 164.3 376.8Z" fill="#c87808"/>
<path d="M173.5 374.0L164.4 377.0A9.7 8.6 0 0 1 163.8 374.2Z" fill="#89540a"/>
<path d="M173.5 374.0L163.8 374.5A9.7 8.6 0 0 1 164.1 371.7Z" fill="#4a300d"/>
<path d="M173.5 374.0L164.1 371.9A9.7 8.6 0 0 1 165.3 369.3Z" fill="#0b0d10"/>
<path d="M173.5 374.0L165.2 369.5A9.7 8.6 0 0 1 167.2 367.4Z" fill="#4a300d"/>
<path d="M173.5 374.0L167.0 367.6A9.7 8.6 0 0 1 169.7 366.0Z" fill="#89540a"/>
<path d="M173.5 374.0L169.4 366.1A9.7 8.6 0 0 1 172.5 365.4Z" fill="#c87808"/>
<path d="M173.5 374.0L172.2 365.4A9.7 8.6 0 0 1 175.4 365.5Z" fill="#89540a"/>
<path d="M173.5 374.0L175.1 365.5A9.7 8.6 0 0 1 178.1 366.4Z" fill="#4a300d"/>
<path d="M173.5 374.0L177.9 366.3A9.7 8.6 0 0 1 180.5 368.0Z" fill="#0b0d10"/>
<path d="M173.5 374.0L180.2 367.8A9.7 8.6 0 0 1 182.1 370.0Z" fill="#4a300d"/>
<path d="M173.5 374.0L182.0 369.8A9.7 8.6 0 0 1 183.1 372.5Z" fill="#89540a"/>
<path d="M173.5 374.0L183.0 372.2A9.7 8.6 0 0 1 183.1 375.1Z" fill="#c87808"/>
<path d="M173.5 374.0L183.2 374.8A9.7 8.6 0 0 1 182.4 377.5Z" fill="#89540a"/>
<path d="M173.5 374.0L182.5 377.3A9.7 8.6 0 0 1 180.8 379.7Z" fill="#4a300d"/>
<path d="M173.5 374.0L181.0 379.5A9.7 8.6 0 0 1 178.6 381.4Z" fill="#0b0d10"/>
<path d="M173.5 374.0L178.8 381.2A9.7 8.6 0 0 1 175.9 382.4Z" fill="#3c270d"/>
<path d="M173.5 374.0L176.2 382.3A9.7 8.6 0 0 1 173.0 382.6Z" fill="#6e410a"/>
<path d="M173.5 374.0L173.4 378.8A5.3 4.8 0 0 1 170.6 378.0Z" fill="#a05c08"/>
<path d="M173.5 374.0L170.7 378.1A5.3 4.8 0 0 1 168.7 376.2Z" fill="#6e410a"/>
<path d="M173.5 374.0L168.8 376.3A5.3 4.8 0 0 1 168.2 373.8Z" fill="#3c270d"/>
<path d="M173.5 374.0L168.2 373.9A5.3 4.8 0 0 1 169.0 371.4Z" fill="#0b0d10"/>
<path d="M173.5 374.0L168.9 371.5A5.3 4.8 0 0 1 171.1 369.8Z" fill="#5c563a"/>
<path d="M173.5 374.0L170.9 369.8A5.3 4.8 0 0 1 173.8 369.3Z" fill="#ad9f65"/>
<path d="M173.5 374.0L173.6 369.2A5.3 4.8 0 0 1 176.4 370.0Z" fill="#ffe890"/>
<path d="M173.5 374.0L176.3 369.9A5.3 4.8 0 0 1 178.3 371.8Z" fill="#ecc262"/>
<path d="M173.5 374.0L178.2 371.7A5.3 4.8 0 0 1 178.8 374.2Z" fill="#da9d35"/>
<path d="M173.5 374.0L178.8 374.1A5.3 4.8 0 0 1 178.0 376.6Z" fill="#c87808"/>
<path d="M173.5 374.0L178.1 376.5A5.3 4.8 0 0 1 175.9 378.2Z" fill="#ba6e08"/>
<path d="M173.5 374.0L176.1 378.2A5.3 4.8 0 0 1 173.2 378.7Z" fill="#ad6508"/>
<path d="M173.5 374.0L176.5 382.2A9.7 8.6 0 0 1 174.7 382.6Z" fill="#0a0c10"/>
<path d="M173.5 374.0L183.1 372.7A9.7 8.6 0 0 1 183.2 374.5Z" fill="#0a0c10"/>
<path d="M176.0 375.0L179.7 374.1A3.8 5.4 0 0 1 179.6 376.5Z" fill="#ffffff"/>
<path d="M176.0 375.0L179.7 376.3A3.8 5.4 0 0 1 178.9 378.4Z" fill="#adaeaf"/>
<path d="M176.0 375.0L179.0 378.3A3.8 5.4 0 0 1 177.7 379.8Z" fill="#5c5d5f"/>
<path d="M176.0 375.0L177.8 379.8A3.8 5.4 0 0 1 176.2 380.4Z" fill="#0b0d10"/>
<path d="M176.0 375.0L176.3 380.4A3.8 5.4 0 0 1 174.6 380.0Z" fill="#4c4b3a"/>
<path d="M176.0 375.0L174.7 380.1A3.8 5.4 0 0 1 173.3 378.8Z" fill="#8e8965"/>
<path d="M176.0 375.0L173.4 378.9A3.8 5.4 0 0 1 172.5 376.9Z" fill="#d0c890"/>
<path d="M176.0 375.0L172.5 377.0A3.8 5.4 0 0 1 172.2 374.7Z" fill="#d8d5b0"/>
<path d="M176.0 375.0L172.2 374.8A3.8 5.4 0 0 1 172.7 372.5Z" fill="#e0e2d0"/>
<path d="M176.0 375.0L172.6 372.6A3.8 5.4 0 0 1 173.7 370.8Z" fill="#e8f0f0"/>
<path d="M176.0 375.0L173.6 370.9A3.8 5.4 0 0 1 175.1 369.8Z" fill="#eff5f5"/>
<path d="M176.0 375.0L175.0 369.8A3.8 5.4 0 0 1 176.6 369.7Z" fill="#f7fafa"/>
<path d="M176.0 375.0L176.5 369.7A3.8 5.4 0 0 1 178.1 370.5Z" fill="#ffffff"/>
<path d="M176.0 375.0L178.0 370.4A3.8 5.4 0 0 1 179.2 372.1Z" fill="#ffffff"/>
<path d="M176.0 375.0L179.1 372.0A3.8 5.4 0 0 1 179.7 374.2Z" fill="#ffffff"/>
<path d="M170.0 366.3L165.7 366.0A4.3 3.8 0 0 1 167.0 363.6Z" fill="#0b0d10"/>
<path d="M170.0 366.3L166.9 363.6A4.3 3.8 0 0 1 169.7 362.5Z" fill="#57582a"/>
<path d="M170.0 366.3L169.6 362.5A4.3 3.8 0 0 1 172.6 363.3Z" fill="#a3a445"/>
<path d="M170.0 366.3L172.5 363.2A4.3 3.8 0 0 1 174.2 365.4Z" fill="#f0f060"/>
<path d="M170.0 366.3L174.2 365.3A4.3 3.8 0 0 1 173.9 368.0Z" fill="#caf58d"/>
<path d="M170.0 366.3L173.9 367.9A4.3 3.8 0 0 1 171.7 369.8Z" fill="#a5faba"/>
<path d="M170.0 366.3L171.9 369.7A4.3 3.8 0 0 1 168.8 369.9Z" fill="#80ffe8"/>
<path d="M170.0 366.3L168.9 370.0A4.3 3.8 0 0 1 166.4 368.4Z" fill="#59aea0"/>
<path d="M170.0 366.3L166.5 368.5A4.3 3.8 0 0 1 165.7 365.9Z" fill="#325d58"/>
<path d="M216.3 327.1L217.3 322.3A5.4 4.9 0 0 1 219.5 323.2Z" fill="#0b0d10"/>
<path d="M216.3 327.1L219.4 323.1A5.4 4.9 0 0 1 221.0 324.7Z" fill="#121e5f"/>
<path d="M216.3 327.1L220.9 324.6A5.4 4.9 0 0 1 221.7 326.6Z" fill="#192faf"/>
<path d="M216.3 327.1L221.7 326.5A5.4 4.9 0 0 1 221.4 328.6Z" fill="#2040ff"/>
<path d="M216.3 327.1L221.5 328.5A5.4 4.9 0 0 1 220.3 330.4Z" fill="#6a4ab4"/>
<path d="M216.3 327.1L220.4 330.3A5.4 4.9 0 0 1 218.5 331.5Z" fill="#b4556a"/>
<path d="M216.3 327.1L218.6 331.5A5.4 4.9 0 0 1 216.3 332.0Z" fill="#ff6020"/>
<path d="M216.3 327.1L216.4 332.0A5.4 4.9 0 0 1 214.1 331.5Z" fill="#ff8a20"/>
<path d="M216.3 327.1L214.2 331.6A5.4 4.9 0 0 1 212.3 330.3Z" fill="#ffb520"/>
<path d="M216.3 327.1L212.4 330.4A5.4 4.9 0 0 1 211.2 328.6Z" fill="#ffe020"/>
<path d="M216.3 327.1L211.2 328.7A5.4 4.9 0 0 1 210.9 326.6Z" fill="#b4aa6a"/>
<path d="M216.3 327.1L210.9 326.7A5.4 4.9 0 0 1 211.6 324.7Z" fill="#6a75b4"/>
<path d="M216.3 327.1L211.6 324.8A5.4 4.9 0 0 1 213.1 323.2Z" fill="#2040ff"/>
<path d="M216.3 327.1L213.0 323.2A5.4 4.9 0 0 1 215.2 322.3Z" fill="#192faf"/>
<path d="M216.3 327.1L215.0 322.4A5.4 4.9 0 0 1 217.4 322.4Z" fill="#121e5f"/>
<path d="M222.7 328.5L227.9 329.9A5.4 5.4 0 0 1 226.8 332.0Z" fill="#0b0d10"/>
<path d="M222.7 328.5L226.9 331.9A5.4 5.4 0 0 1 225.0 333.4Z" fill="#5c4820"/>
<path d="M222.7 328.5L225.2 333.3A5.4 5.4 0 0 1 222.8 333.9Z" fill="#ad8430"/>
<path d="M222.7 328.5L223.0 333.9A5.4 5.4 0 0 1 220.6 333.5Z" fill="#ffc040"/>
<path d="M222.7 328.5L220.8 333.5A5.4 5.4 0 0 1 218.8 332.2Z" fill="#ba8a30"/>
<path d="M222.7 328.5L218.9 332.3A5.4 5.4 0 0 1 217.6 330.3Z" fill="#755520"/>
<path d="M222.7 328.5L217.7 330.4A5.4 5.4 0 0 1 217.3 328.1Z" fill="#302010"/>
<path d="M222.7 328.5L217.3 328.2A5.4 5.4 0 0 1 218.0 325.9Z" fill="#756a5f"/>
<path d="M222.7 328.5L217.9 326.1A5.4 5.4 0 0 1 219.4 324.2Z" fill="#bab4af"/>
<path d="M222.7 328.5L219.3 324.3A5.4 5.4 0 0 1 221.4 323.2Z" fill="#ffffff"/>
<path d="M222.7 328.5L221.3 323.3A5.4 5.4 0 0 1 223.7 323.2Z" fill="#bab4af"/>
<path d="M222.7 328.5L223.5 323.2A5.4 5.4 0 0 1 225.8 324.1Z" fill="#756a5f"/>
<path d="M222.7 328.5L225.6 324.0A5.4 5.4 0 0 1 227.3 325.7Z" fill="#302010"/>
<path d="M222.7 328.5L227.2 325.5A5.4 5.4 0 0 1 228.1 327.8Z" fill="#231910"/>
<path d="M222.7 328.5L228.0 327.6A5.4 5.4 0 0 1 227.9 330.0Z" fill="#171310"/>
<path d="M219.2 347.1L218.3 343.4A4.3 3.8 0 0 1 221.3 343.8Z" fill="#ffe890"/>
<path d="M219.2 347.1L221.2 343.8A4.3 3.8 0 0 1 223.2 345.8Z" fill="#ecc262"/>
<path d="M219.2 347.1L223.2 345.7A4.3 3.8 0 0 1 223.3 348.4Z" fill="#da9d35"/>
<path d="M219.2 347.1L223.3 348.2A4.3 3.8 0 0 1 221.4 350.4Z" fill="#c87808"/>
<path d="M219.2 347.1L221.5 350.3A4.3 3.8 0 0 1 218.5 350.8Z" fill="#89540a"/>
<path d="M219.2 347.1L218.6 350.8A4.3 3.8 0 0 1 215.9 349.6Z" fill="#4a300d"/>
<path d="M219.2 347.1L216.0 349.6A4.3 3.8 0 0 1 214.9 347.1Z" fill="#0b0d10"/>
<path d="M219.2 347.1L214.9 347.3A4.3 3.8 0 0 1 215.9 344.7Z" fill="#5c563a"/>
<path d="M219.2 347.1L215.8 344.8A4.3 3.8 0 0 1 218.4 343.4Z" fill="#ad9f65"/>
<path d="M219.9 355.6L221.8 361.3A6.5 5.9 0 0 1 218.9 361.5Z" fill="#282030"/>
<path d="M219.9 355.6L219.1 361.5A6.5 5.9 0 0 1 216.4 360.6Z" fill="#65254a"/>
<path d="M219.9 355.6L216.6 360.7A6.5 5.9 0 0 1 214.5 358.9Z" fill="#a22a65"/>
<path d="M219.9 355.6L214.6 359.0A6.5 5.9 0 0 1 213.5 356.6Z" fill="#e03080"/>
<path d="M219.9 355.6L213.5 356.7A6.5 5.9 0 0 1 213.6 354.1Z" fill="#e570aa"/>
<path d="M219.9 355.6L213.6 354.3A6.5 5.9 0 0 1 214.8 351.9Z" fill="#eab0d4"/>
<path d="M219.9 355.6L214.7 352.0A6.5 5.9 0 0 1 216.9 350.3Z" fill="#f0f0ff"/>
<path d="M219.9 355.6L216.8 350.4A6.5 5.9 0 0 1 219.5 349.7Z" fill="#adaaba"/>
<path d="M219.9 355.6L219.3 349.7A6.5 5.9 0 0 1 222.2 350.0Z" fill="#6a6575"/>
<path d="M219.9 355.6L222.0 350.0A6.5 5.9 0 0 1 224.5 351.4Z" fill="#282030"/>
<path d="M219.9 355.6L224.3 351.3A6.5 5.9 0 0 1 225.9 353.5Z" fill="#6f6555"/>
<path d="M219.9 355.6L225.9 353.3A6.5 5.9 0 0 1 226.4 355.9Z" fill="#b7aa7a"/>
<path d="M219.9 355.6L226.4 355.7A6.5 5.9 0 0 1 225.7 358.3Z" fill="#fff0a0"/>
<path d="M219.9 355.6L225.8 358.1A6.5 5.9 0 0 1 224.0 360.2Z" fill="#b7aa7a"/>
<path d="M219.9 355.6L224.1 360.1A6.5 5.9 0 0 1 221.6 361.3Z" fill="#6f6555"/>
<path d="M219.9 355.6L220.9 358.7A3.6 3.3 0 0 1 219.0 358.8Z" fill="#40e0ff"/>
<path d="M219.9 355.6L219.1 358.8A3.6 3.3 0 0 1 217.4 357.9Z" fill="#7ae5ff"/>
<path d="M219.9 355.6L217.5 358.0A3.6 3.3 0 0 1 216.5 356.5Z" fill="#b5eaff"/>
<path d="M219.9 355.6L216.5 356.6A3.6 3.3 0 0 1 216.5 354.8Z" fill="#f0f0ff"/>
<path d="M219.9 355.6L216.4 354.9A3.6 3.3 0 0 1 217.4 353.3Z" fill="#b5eaff"/>
<path d="M219.9 355.6L217.3 353.4A3.6 3.3 0 0 1 219.0 352.4Z" fill="#7ae5ff"/>
<path d="M219.9 355.6L218.9 352.5A3.6 3.3 0 0 1 220.8 352.4Z" fill="#40e0ff"/>
<path d="M219.9 355.6L220.7 352.4A3.6 3.3 0 0 1 222.4 353.3Z" fill="#7ae5ff"/>
<path d="M219.9 355.6L222.3 353.2A3.6 3.3 0 0 1 223.3 354.7Z" fill="#b5eaff"/>
<path d="M219.9 355.6L223.3 354.6A3.6 3.3 0 0 1 223.3 356.4Z" fill="#f0f0ff"/>
<path d="M219.9 355.6L223.4 356.3A3.6 3.3 0 0 1 222.4 357.9Z" fill="#b5eaff"/>
<path d="M219.9 355.6L222.5 357.8A3.6 3.3 0 0 1 220.8 358.8Z" fill="#7ae5ff"/>
<path d="M219.9 355.6L220.3 349.7A6.5 5.9 0 0 1 221.6 349.9Z" fill="#0a0c10"/>
<path d="M219.9 355.6L213.4 355.7A6.5 5.9 0 0 1 213.5 354.6Z" fill="#0a0c10"/>
<path d="M219.9 355.6L219.7 361.5A6.5 5.9 0 0 1 218.4 361.4Z" fill="#0a0c10"/>
<path d="M147.8 377.0L144.4 381.2A5.4 5.4 0 0 1 142.9 379.3Z" fill="#e8f0f0"/>
<path d="M147.8 377.0L143.0 379.5A5.4 5.4 0 0 1 142.4 377.2Z" fill="#a8ada8"/>
<path d="M147.8 377.0L142.4 377.3A5.4 5.4 0 0 1 142.8 374.9Z" fill="#686a61"/>
<path d="M147.8 377.0L142.7 375.1A5.4 5.4 0 0 1 144.1 373.1Z" fill="#28281a"/>
<path d="M147.8 377.0L144.0 373.2A5.4 5.4 0 0 1 146.0 371.9Z" fill="#6f622c"/>
<path d="M147.8 377.0L145.8 372.0A5.4 5.4 0 0 1 148.2 371.6Z" fill="#b79d3e"/>
<path d="M147.8 377.0L148.1 371.6A5.4 5.4 0 0 1 150.4 372.2Z" fill="#ffd850"/>
<path d="M147.8 377.0L150.2 372.2A5.4 5.4 0 0 1 152.1 373.7Z" fill="#f7e085"/>
<path d="M147.8 377.0L152.0 373.6A5.4 5.4 0 0 1 153.0 375.7Z" fill="#efe8ba"/>
<path d="M147.8 377.0L153.0 375.6A5.4 5.4 0 0 1 153.1 378.0Z" fill="#e8f0f0"/>
<path d="M147.8 377.0L153.1 377.8A5.4 5.4 0 0 1 152.3 380.1Z" fill="#eff5f5"/>
<path d="M147.8 377.0L152.3 379.9A5.4 5.4 0 0 1 150.6 381.6Z" fill="#f7fafa"/>
<path d="M147.8 377.0L150.8 381.5A5.4 5.4 0 0 1 148.5 382.4Z" fill="#ffffff"/>
<path d="M147.8 377.0L148.7 382.3A5.4 5.4 0 0 1 146.3 382.2Z" fill="#f7fafa"/>
<path d="M147.8 377.0L146.4 382.2A5.4 5.4 0 0 1 144.3 381.1Z" fill="#eff5f5"/>
<path d="M187.0 377.0L184.5 379.1A3.2 3.2 0 0 1 183.8 376.9Z" fill="#e0f040"/>
<path d="M187.0 377.0L183.8 377.0A3.2 3.2 0 0 1 184.6 374.9Z" fill="#a0e570"/>
<path d="M187.0 377.0L184.5 374.9A3.2 3.2 0 0 1 186.5 373.8Z" fill="#60daa0"/>
<path d="M187.0 377.0L186.4 373.8A3.2 3.2 0 0 1 188.7 374.2Z" fill="#20d0d0"/>
<path d="M187.0 377.0L188.6 374.2A3.2 3.2 0 0 1 190.1 376.0Z" fill="#20c2aa"/>
<path d="M187.0 377.0L190.0 375.9A3.2 3.2 0 0 1 190.0 378.2Z" fill="#20b585"/>
<path d="M187.0 377.0L190.1 378.1A3.2 3.2 0 0 1 188.6 379.8Z" fill="#20a860"/>
<path d="M187.0 377.0L188.6 379.8A3.2 3.2 0 0 1 186.4 380.2Z" fill="#60c055"/>
<path d="M187.0 377.0L186.5 380.2A3.2 3.2 0 0 1 184.5 379.0Z" fill="#a0d84a"/>
<path d="M227.0 324.3L225.9 317.4A7.6 7.0 0 0 1 229.2 317.6Z" fill="#ffffff"/>
<path d="M227.0 324.3L229.0 317.5A7.6 7.0 0 0 1 232.0 319.0Z" fill="#b7b7b2"/>
<path d="M227.0 324.3L231.8 318.9A7.6 7.0 0 0 1 233.9 321.4Z" fill="#6f6f66"/>
<path d="M227.0 324.3L233.8 321.2A7.6 7.0 0 0 1 234.6 324.2Z" fill="#28281a"/>
<path d="M227.0 324.3L234.6 324.0A7.6 7.0 0 0 1 233.9 327.1Z" fill="#6f6f66"/>
<path d="M227.0 324.3L234.0 326.9A7.6 7.0 0 0 1 232.1 329.5Z" fill="#b7b7b2"/>
<path d="M227.0 324.3L232.3 329.3A7.6 7.0 0 0 1 229.4 330.9Z" fill="#ffffff"/>
<path d="M227.0 324.3L229.6 330.9A7.6 7.0 0 0 1 226.3 331.3Z" fill="#b7b7b2"/>
<path d="M227.0 324.3L226.5 331.3A7.6 7.0 0 0 1 223.3 330.4Z" fill="#6f6f66"/>
<path d="M227.0 324.3L223.5 330.5A7.6 7.0 0 0 1 220.9 328.5Z" fill="#28281a"/>
<path d="M227.0 324.3L221.1 328.7A7.6 7.0 0 0 1 219.6 325.8Z" fill="#6f6f66"/>
<path d="M227.0 324.3L219.7 326.1A7.6 7.0 0 0 1 219.6 322.9Z" fill="#b7b7b2"/>
<path d="M227.0 324.3L219.5 323.1A7.6 7.0 0 0 1 220.8 320.2Z" fill="#ffffff"/>
<path d="M227.0 324.3L220.7 320.4A7.6 7.0 0 0 1 223.1 318.3Z" fill="#ffffff"/>
<path d="M227.0 324.3L222.9 318.4A7.6 7.0 0 0 1 226.1 317.3Z" fill="#ffffff"/>
<path d="M227.0 324.3L226.4 320.5A4.2 3.9 0 0 1 228.6 320.8Z" fill="#d0c890"/>
<path d="M227.0 324.3L228.5 320.7A4.2 3.9 0 0 1 230.3 322.0Z" fill="#8e8965"/>
<path d="M227.0 324.3L230.3 321.9A4.2 3.9 0 0 1 231.1 323.8Z" fill="#4c4b3a"/>
<path d="M227.0 324.3L231.1 323.7A4.2 3.9 0 0 1 230.8 325.8Z" fill="#0b0d10"/>
<path d="M227.0 324.3L230.9 325.7A4.2 3.9 0 0 1 229.5 327.4Z" fill="#5c5d5f"/>
<path d="M227.0 324.3L229.6 327.3A4.2 3.9 0 0 1 227.5 328.1Z" fill="#adaeaf"/>
<path d="M227.0 324.3L227.6 328.1A4.2 3.9 0 0 1 225.4 327.8Z" fill="#ffffff"/>
<path d="M227.0 324.3L225.5 327.9A4.2 3.9 0 0 1 223.7 326.6Z" fill="#fff2c4"/>
<path d="M227.0 324.3L223.7 326.7A4.2 3.9 0 0 1 222.9 324.8Z" fill="#ffe58a"/>
<path d="M227.0 324.3L222.9 324.9A4.2 3.9 0 0 1 223.2 322.8Z" fill="#ffd850"/>
<path d="M227.0 324.3L223.1 322.9A4.2 3.9 0 0 1 224.5 321.2Z" fill="#efd265"/>
<path d="M227.0 324.3L224.4 321.3A4.2 3.9 0 0 1 226.5 320.5Z" fill="#dfcd7a"/>
<path d="M227.0 324.3L228.3 317.4A7.6 7.0 0 0 1 229.8 317.8Z" fill="#0a0c10"/>
<path d="M227.0 324.3L234.0 327.0A7.6 7.0 0 0 1 233.3 328.2Z" fill="#0a0c10"/>
<path d="M227.0 324.3L232.9 328.7A7.6 7.0 0 0 1 231.9 329.7Z" fill="#0a0c10"/>
<path d="M238.5 327.8L243.4 330.1A5.4 5.4 0 0 1 241.9 332.0Z" fill="#ffe080"/>
<path d="M238.5 327.8L242.0 331.9A5.4 5.4 0 0 1 239.9 333.0Z" fill="#ffd56a"/>
<path d="M238.5 327.8L240.0 333.0A5.4 5.4 0 0 1 237.7 333.1Z" fill="#ffca55"/>
<path d="M238.5 327.8L237.8 333.2A5.4 5.4 0 0 1 235.6 332.3Z" fill="#ffc040"/>
<path d="M238.5 327.8L235.7 332.4A5.4 5.4 0 0 1 234.0 330.7Z" fill="#ba8a30"/>
<path d="M238.5 327.8L234.1 330.9A5.4 5.4 0 0 1 233.2 328.6Z" fill="#755520"/>
<path d="M238.5 327.8L233.2 328.8A5.4 5.4 0 0 1 233.3 326.4Z" fill="#302010"/>
<path d="M238.5 327.8L233.2 326.6A5.4 5.4 0 0 1 234.3 324.4Z" fill="#754515"/>
<path d="M238.5 327.8L234.2 324.5A5.4 5.4 0 0 1 236.1 323.0Z" fill="#ba6a1a"/>
<path d="M238.5 327.8L235.9 323.1A5.4 5.4 0 0 1 238.2 322.4Z" fill="#ff9020"/>
<path d="M238.5 327.8L238.1 322.4A5.4 5.4 0 0 1 240.4 322.8Z" fill="#ffa02a"/>
<path d="M238.5 327.8L240.3 322.7A5.4 5.4 0 0 1 242.3 324.0Z" fill="#ffb035"/>
<path d="M238.5 327.8L242.2 323.9A5.4 5.4 0 0 1 243.5 325.9Z" fill="#ffc040"/>
<path d="M238.5 327.8L243.5 325.7A5.4 5.4 0 0 1 243.9 328.1Z" fill="#ffca55"/>
<path d="M238.5 327.8L243.9 327.9A5.4 5.4 0 0 1 243.3 330.3Z" fill="#ffd56a"/>
<path d="M225.0 332.1L228.8 330.3A4.3 3.8 0 0 1 229.2 333.0Z" fill="#ff4080"/>
<path d="M225.0 332.1L229.2 332.9A4.3 3.8 0 0 1 227.6 335.1Z" fill="#d440aa"/>
<path d="M225.0 332.1L227.7 335.1A4.3 3.8 0 0 1 224.7 335.9Z" fill="#aa40d4"/>
<path d="M225.0 332.1L224.9 335.9A4.3 3.8 0 0 1 222.0 334.8Z" fill="#8040ff"/>
<path d="M225.0 332.1L222.1 334.9A4.3 3.8 0 0 1 220.7 332.5Z" fill="#9535f4"/>
<path d="M225.0 332.1L220.7 332.6A4.3 3.8 0 0 1 221.4 330.0Z" fill="#aa2aea"/>
<path d="M225.0 332.1L221.3 330.1A4.3 3.8 0 0 1 223.8 328.5Z" fill="#c020e0"/>
<path d="M225.0 332.1L223.7 328.5A4.3 3.8 0 0 1 226.7 328.6Z" fill="#d52ac0"/>
<path d="M225.0 332.1L226.6 328.6A4.3 3.8 0 0 1 228.9 330.4Z" fill="#ea35a0"/>
<path d="M272.0 320.7L281.0 320.7A9.0 5.5 0 0 1 280.4 322.7Z" fill="#ffe020"/>
<path d="M272.0 320.7L280.5 322.6A9.0 5.5 0 0 1 278.7 324.4Z" fill="#ffda20"/>
<path d="M272.0 320.7L278.9 324.2A9.0 5.5 0 0 1 276.3 325.5Z" fill="#ffd520"/>
<path d="M272.0 320.7L276.5 325.5A9.0 5.5 0 0 1 273.3 326.1Z" fill="#ffd020"/>
<path d="M272.0 320.7L273.6 326.1A9.0 5.5 0 0 1 270.2 326.1Z" fill="#ffb520"/>
<path d="M272.0 320.7L270.4 326.1A9.0 5.5 0 0 1 267.3 325.4Z" fill="#ff9a20"/>
<path d="M272.0 320.7L267.5 325.5A9.0 5.5 0 0 1 264.9 324.1Z" fill="#ff8020"/>
<path d="M272.0 320.7L265.1 324.2A9.0 5.5 0 0 1 263.5 322.4Z" fill="#ffa535"/>
<path d="M272.0 320.7L263.5 322.6A9.0 5.5 0 0 1 263.0 320.5Z" fill="#ffca4a"/>
<path d="M272.0 320.7L263.0 320.7A9.0 5.5 0 0 1 263.6 318.7Z" fill="#fff060"/>
<path d="M272.0 320.7L263.5 318.8A9.0 5.5 0 0 1 265.3 317.0Z" fill="#ffda45"/>
<path d="M272.0 320.7L265.1 317.2A9.0 5.5 0 0 1 267.7 315.9Z" fill="#ffc52a"/>
<path d="M272.0 320.7L267.5 315.9A9.0 5.5 0 0 1 270.7 315.3Z" fill="#ffb010"/>
<path d="M272.0 320.7L270.4 315.3A9.0 5.5 0 0 1 273.8 315.3Z" fill="#ffc220"/>
<path d="M272.0 320.7L273.6 315.3A9.0 5.5 0 0 1 276.7 316.0Z" fill="#ffd530"/>
<path d="M272.0 320.7L276.5 315.9A9.0 5.5 0 0 1 279.1 317.3Z" fill="#ffe840"/>
<path d="M272.0 320.7L278.9 317.2A9.0 5.5 0 0 1 280.5 319.0Z" fill="#ffe535"/>
<path d="M272.0 320.7L280.5 318.8A9.0 5.5 0 0 1 281.0 320.9Z" fill="#ffe22a"/>
<path d="M272.0 320.7L276.9 320.7A5.0 3.0 0 0 1 276.2 322.3Z" fill="#fff060"/>
<path d="M272.0 320.7L276.3 322.2A5.0 3.0 0 0 1 274.3 323.4Z" fill="#ada445"/>
<path d="M272.0 320.7L274.5 323.3A5.0 3.0 0 0 1 271.9 323.7Z" fill="#5c582a"/>
<path d="M272.0 320.7L272.0 323.7A5.0 3.0 0 0 1 269.4 323.3Z" fill="#0b0d10"/>
<path d="M272.0 320.7L269.5 323.3A5.0 3.0 0 0 1 267.6 322.1Z" fill="#5c5315"/>
<path d="M272.0 320.7L267.7 322.2A5.0 3.0 0 0 1 267.1 320.6Z" fill="#ad991a"/>
<path d="M272.0 320.7L267.1 320.7A5.0 3.0 0 0 1 267.8 319.1Z" fill="#ffe020"/>
<path d="M272.0 320.7L267.7 319.2A5.0 3.0 0 0 1 269.7 318.0Z" fill="#ffda20"/>
<path d="M272.0 320.7L269.5 318.1A5.0 3.0 0 0 1 272.1 317.7Z" fill="#ffd520"/>
<path d="M272.0 320.7L272.0 317.7A5.0 3.0 0 0 1 274.6 318.1Z" fill="#ffd020"/>
<path d="M272.0 320.7L274.5 318.1A5.0 3.0 0 0 1 276.4 319.3Z" fill="#ffda35"/>
<path d="M272.0 320.7L276.3 319.2A5.0 3.0 0 0 1 276.9 320.8Z" fill="#ffe54a"/>
<path d="M272.0 320.7L269.6 315.4A9.0 5.5 0 0 1 271.4 315.2Z" fill="#0a0c10"/>
<path d="M276.0 319.0L279.3 321.4A4.3 3.8 0 0 1 276.7 322.7Z" fill="#ffb020"/>
<path d="M276.0 319.0L276.8 322.7A4.3 3.8 0 0 1 273.8 322.2Z" fill="#bf7d15"/>
<path d="M276.0 319.0L273.9 322.3A4.3 3.8 0 0 1 271.9 320.2Z" fill="#7f4a0a"/>
<path d="M276.0 319.0L272.0 320.3A4.3 3.8 0 0 1 272.0 317.6Z" fill="#401800"/>
<path d="M276.0 319.0L271.9 317.7A4.3 3.8 0 0 1 273.9 315.7Z" fill="#7f200a"/>
<path d="M276.0 319.0L273.8 315.7A4.3 3.8 0 0 1 276.8 315.3Z" fill="#bf2815"/>
<path d="M276.0 319.0L276.7 315.3A4.3 3.8 0 0 1 279.4 316.6Z" fill="#ff3020"/>
<path d="M276.0 319.0L279.3 316.5A4.3 3.8 0 0 1 280.3 319.1Z" fill="#ff5a20"/>
<path d="M276.0 319.0L280.3 319.0A4.3 3.8 0 0 1 279.2 321.5Z" fill="#ff8520"/>
<path d="M226.4 352.8L220.0 356.5A7.6 7.0 0 0 1 218.9 353.6Z" fill="#fff0a0"/>
<path d="M226.4 352.8L218.9 353.8A7.6 7.0 0 0 1 219.2 350.7Z" fill="#b7aa7a"/>
<path d="M226.4 352.8L219.1 350.9A7.6 7.0 0 0 1 220.7 348.2Z" fill="#6f6555"/>
<path d="M226.4 352.8L220.6 348.3A7.6 7.0 0 0 1 223.3 346.4Z" fill="#282030"/>
<path d="M226.4 352.8L223.1 346.5A7.6 7.0 0 0 1 226.3 345.8Z" fill="#6f6a75"/>
<path d="M226.4 352.8L226.1 345.8A7.6 7.0 0 0 1 229.4 346.4Z" fill="#b7b4ba"/>
<path d="M226.4 352.8L229.2 346.3A7.6 7.0 0 0 1 232.0 348.1Z" fill="#ffffff"/>
<path d="M226.4 352.8L231.8 347.9A7.6 7.0 0 0 1 233.6 350.6Z" fill="#fafaff"/>
<path d="M226.4 352.8L233.5 350.4A7.6 7.0 0 0 1 233.9 353.5Z" fill="#f5f5ff"/>
<path d="M226.4 352.8L233.9 353.3A7.6 7.0 0 0 1 233.0 356.3Z" fill="#f0f0ff"/>
<path d="M226.4 352.8L233.1 356.1A7.6 7.0 0 0 1 230.9 358.4Z" fill="#f5f0df"/>
<path d="M226.4 352.8L231.1 358.3A7.6 7.0 0 0 1 228.0 359.7Z" fill="#faf0bf"/>
<path d="M226.4 352.8L228.3 359.6A7.6 7.0 0 0 1 224.9 359.7Z" fill="#fff0a0"/>
<path d="M226.4 352.8L225.1 359.7A7.6 7.0 0 0 1 222.0 358.5Z" fill="#fff0a0"/>
<path d="M226.4 352.8L222.2 358.6A7.6 7.0 0 0 1 219.9 356.4Z" fill="#fff0a0"/>
<path d="M226.4 352.8L222.9 354.9A4.2 3.9 0 0 1 222.2 352.8Z" fill="#0b0d10"/>
<path d="M226.4 352.8L222.2 353.0A4.2 3.9 0 0 1 222.8 350.9Z" fill="#14131a"/>
<path d="M226.4 352.8L222.7 351.0A4.2 3.9 0 0 1 224.3 349.5Z" fill="#1e1925"/>
<path d="M226.4 352.8L224.2 349.5A4.2 3.9 0 0 1 226.4 348.9Z" fill="#282030"/>
<path d="M226.4 352.8L226.2 348.9A4.2 3.9 0 0 1 228.4 349.4Z" fill="#65254a"/>
<path d="M226.4 352.8L228.3 349.4A4.2 3.9 0 0 1 230.0 350.8Z" fill="#a22a65"/>
<path d="M226.4 352.8L229.9 350.7A4.2 3.9 0 0 1 230.6 352.8Z" fill="#e03080"/>
<path d="M226.4 352.8L230.6 352.6A4.2 3.9 0 0 1 230.0 354.7Z" fill="#a22a65"/>
<path d="M226.4 352.8L230.1 354.6A4.2 3.9 0 0 1 228.5 356.1Z" fill="#65254a"/>
<path d="M226.4 352.8L228.6 356.1A4.2 3.9 0 0 1 226.4 356.7Z" fill="#282030"/>
<path d="M226.4 352.8L226.6 356.7A4.2 3.9 0 0 1 224.4 356.2Z" fill="#1e1925"/>
<path d="M226.4 352.8L224.5 356.2A4.2 3.9 0 0 1 222.8 354.8Z" fill="#14131a"/>
<path d="M226.4 352.8L232.3 357.2A7.6 7.0 0 0 1 231.3 358.2Z" fill="#0a0c10"/>
<path d="M226.4 352.8L232.6 356.9A7.6 7.0 0 0 1 231.6 357.9Z" fill="#0a0c10"/>
<path d="M226.4 352.8L232.8 356.6A7.6 7.0 0 0 1 231.8 357.7Z" fill="#0a0c10"/>
<path d="M252.8 359.2L253.2 353.8A6.5 5.4 0 0 1 256.0 354.5Z" fill="#102838"/>
<path d="M252.8 359.2L255.8 354.4A6.5 5.4 0 0 1 258.0 356.0Z" fill="#155070"/>
<path d="M252.8 359.2L257.9 355.9A6.5 5.4 0 0 1 259.1 358.0Z" fill="#1a78a8"/>
<path d="M252.8 359.2L259.1 357.9A6.5 5.4 0 0 1 259.1 360.3Z" fill="#20a0e0"/>
<path d="M252.8 359.2L259.2 360.1A6.5 5.4 0 0 1 258.1 362.3Z" fill="#1a78a8"/>
<path d="M252.8 359.2L258.2 362.2A6.5 5.4 0 0 1 256.1 363.9Z" fill="#155070"/>
<path d="M252.8 359.2L256.2 363.8A6.5 5.4 0 0 1 253.5 364.6Z" fill="#102838"/>
<path d="M252.8 359.2L253.7 364.5A6.5 5.4 0 0 1 250.8 364.3Z" fill="#206565"/>
<path d="M252.8 359.2L251.0 364.4A6.5 5.4 0 0 1 248.5 363.2Z" fill="#30a292"/>
<path d="M252.8 359.2L248.6 363.3A6.5 5.4 0 0 1 246.9 361.4Z" fill="#40e0c0"/>
<path d="M252.8 359.2L247.0 361.6A6.5 5.4 0 0 1 246.3 359.2Z" fill="#55eacd"/>
<path d="M252.8 359.2L246.3 359.4A6.5 5.4 0 0 1 246.9 357.0Z" fill="#6af4da"/>
<path d="M252.8 359.2L246.8 357.2A6.5 5.4 0 0 1 248.4 355.2Z" fill="#80ffe8"/>
<path d="M252.8 359.2L248.3 355.3A6.5 5.4 0 0 1 250.8 354.1Z" fill="#5ab7ad"/>
<path d="M252.8 359.2L250.6 354.1A6.5 5.4 0 0 1 253.4 353.8Z" fill="#356f72"/>
<path d="M252.8 359.2L253.0 356.2A3.6 3.0 0 0 1 254.9 356.8Z" fill="#0b0d10"/>
<path d="M252.8 359.2L254.8 356.7A3.6 3.0 0 0 1 256.0 358.0Z" fill="#1c534a"/>
<path d="M252.8 359.2L256.0 357.9A3.6 3.0 0 0 1 256.3 359.5Z" fill="#2e9985"/>
<path d="M252.8 359.2L256.4 359.4A3.6 3.0 0 0 1 255.7 360.9Z" fill="#40e0c0"/>
<path d="M252.8 359.2L255.8 360.9A3.6 3.0 0 0 1 254.3 361.9Z" fill="#55eacd"/>
<path d="M252.8 359.2L254.4 361.9A3.6 3.0 0 0 1 252.5 362.2Z" fill="#6af4da"/>
<path d="M252.8 359.2L252.6 362.2A3.6 3.0 0 0 1 250.7 361.6Z" fill="#80ffe8"/>
<path d="M252.8 359.2L250.8 361.7A3.6 3.0 0 0 1 249.6 360.4Z" fill="#5ab7ad"/>
<path d="M252.8 359.2L249.6 360.5A3.6 3.0 0 0 1 249.3 358.9Z" fill="#356f72"/>
<path d="M252.8 359.2L249.2 359.0A3.6 3.0 0 0 1 249.9 357.5Z" fill="#102838"/>
<path d="M252.8 359.2L249.8 357.5A3.6 3.0 0 0 1 251.3 356.5Z" fill="#0e1f2a"/>
<path d="M252.8 359.2L251.2 356.5A3.6 3.0 0 0 1 253.1 356.2Z" fill="#0c161d"/>
<path d="M252.8 359.2L247.3 356.3A6.5 5.4 0 0 1 248.1 355.5Z" fill="#0a0c10"/>
<path d="M252.8 359.2L251.9 364.6A6.5 5.4 0 0 1 250.7 364.3Z" fill="#0a0c10"/>
<path d="M252.8 359.2L256.2 354.6A6.5 5.4 0 0 1 257.2 355.3Z" fill="#0a0c10"/>
<path d="M252.8 359.2L246.6 357.7A6.5 5.4 0 0 1 247.1 356.7Z" fill="#0a0c10"/>
<path d="M255.7 370.0L251.8 377.9A9.7 8.6 0 0 1 249.2 376.4Z" fill="#40e0c0"/>
<path d="M255.7 370.0L249.4 376.6A9.7 8.6 0 0 1 247.3 374.4Z" fill="#7ae5a0"/>
<path d="M255.7 370.0L247.5 374.6A9.7 8.6 0 0 1 246.2 372.0Z" fill="#b5ea80"/>
<path d="M255.7 370.0L246.3 372.3A9.7 8.6 0 0 1 246.0 369.4Z" fill="#f0f060"/>
<path d="M255.7 370.0L246.0 369.7A9.7 8.6 0 0 1 246.6 366.9Z" fill="#aae595"/>
<path d="M255.7 370.0L246.5 367.2A9.7 8.6 0 0 1 248.0 364.7Z" fill="#65daca"/>
<path d="M255.7 370.0L247.9 364.9A9.7 8.6 0 0 1 250.1 362.9Z" fill="#20d0ff"/>
<path d="M255.7 370.0L249.9 363.1A9.7 8.6 0 0 1 252.7 361.8Z" fill="#20c0f4"/>
<path d="M255.7 370.0L252.5 361.9A9.7 8.6 0 0 1 255.6 361.4Z" fill="#20b0ea"/>
<path d="M255.7 370.0L255.3 361.4A9.7 8.6 0 0 1 258.5 361.7Z" fill="#20a0e0"/>
<path d="M255.7 370.0L258.2 361.6A9.7 8.6 0 0 1 261.1 362.8Z" fill="#20b0ea"/>
<path d="M255.7 370.0L260.9 362.7A9.7 8.6 0 0 1 263.2 364.5Z" fill="#20c0f4"/>
<path d="M255.7 370.0L263.1 364.3A9.7 8.6 0 0 1 264.7 366.8Z" fill="#20d0ff"/>
<path d="M255.7 370.0L264.6 366.5A9.7 8.6 0 0 1 265.4 369.3Z" fill="#198faf"/>
<path d="M255.7 370.0L265.4 369.0A9.7 8.6 0 0 1 265.2 371.8Z" fill="#124e5f"/>
<path d="M255.7 370.0L265.3 371.6A9.7 8.6 0 0 1 264.2 374.2Z" fill="#0b0d10"/>
<path d="M255.7 370.0L264.3 374.0A9.7 8.6 0 0 1 262.4 376.3Z" fill="#325d58"/>
<path d="M255.7 370.0L262.6 376.1A9.7 8.6 0 0 1 260.0 377.7Z" fill="#59aea0"/>
<path d="M255.7 370.0L260.3 377.6A9.7 8.6 0 0 1 257.2 378.5Z" fill="#80ffe8"/>
<path d="M255.7 370.0L257.5 378.5A9.7 8.6 0 0 1 254.3 378.6Z" fill="#6af4da"/>
<path d="M255.7 370.0L254.6 378.6A9.7 8.6 0 0 1 251.6 377.8Z" fill="#55eacd"/>
<path d="M255.7 370.0L253.6 374.4A5.3 4.8 0 0 1 251.3 372.7Z" fill="#80ffe8"/>
<path d="M255.7 370.0L251.4 372.8A5.3 4.8 0 0 1 250.4 370.4Z" fill="#5ab7ad"/>
<path d="M255.7 370.0L250.4 370.5A5.3 4.8 0 0 1 250.9 368.0Z" fill="#356f72"/>
<path d="M255.7 370.0L250.8 368.1A5.3 4.8 0 0 1 252.6 366.1Z" fill="#102838"/>
<path d="M255.7 370.0L252.5 366.2A5.3 4.8 0 0 1 255.2 365.3Z" fill="#5a6a45"/>
<path d="M255.7 370.0L255.1 365.3A5.3 4.8 0 0 1 258.0 365.7Z" fill="#a5ad52"/>
<path d="M255.7 370.0L257.8 365.6A5.3 4.8 0 0 1 260.1 367.3Z" fill="#f0f060"/>
<path d="M255.7 370.0L260.0 367.2A5.3 4.8 0 0 1 261.0 369.6Z" fill="#a5ad52"/>
<path d="M255.7 370.0L261.0 369.5A5.3 4.8 0 0 1 260.5 372.0Z" fill="#5a6a45"/>
<path d="M255.7 370.0L260.6 371.9A5.3 4.8 0 0 1 258.8 373.9Z" fill="#102838"/>
<path d="M255.7 370.0L258.9 373.8A5.3 4.8 0 0 1 256.2 374.7Z" fill="#356f72"/>
<path d="M255.7 370.0L256.3 374.7A5.3 4.8 0 0 1 253.4 374.3Z" fill="#5ab7ad"/>
<path d="M255.7 370.0L265.4 369.2A9.7 8.6 0 0 1 265.4 370.9Z" fill="#0a0c10"/>
<path d="M255.7 370.0L247.7 374.9A9.7 8.6 0 0 1 246.7 373.4Z" fill="#0a0c10"/>
<path d="M247.0 374.5L253.5 374.5A6.5 5.9 0 0 1 252.8 377.1Z" fill="#ffffff"/>
<path d="M247.0 374.5L252.9 376.9A6.5 5.9 0 0 1 251.2 379.1Z" fill="#adaeaf"/>
<path d="M247.0 374.5L251.3 378.9A6.5 5.9 0 0 1 248.8 380.2Z" fill="#5c5d5f"/>
<path d="M247.0 374.5L249.0 380.2A6.5 5.9 0 0 1 246.1 380.4Z" fill="#0b0d10"/>
<path d="M247.0 374.5L246.3 380.4A6.5 5.9 0 0 1 243.6 379.5Z" fill="#124e5f"/>
<path d="M247.0 374.5L243.7 379.6A6.5 5.9 0 0 1 241.6 377.8Z" fill="#198faf"/>
<path d="M247.0 374.5L241.7 378.0A6.5 5.9 0 0 1 240.6 375.5Z" fill="#20d0ff"/>
<path d="M247.0 374.5L240.7 375.7A6.5 5.9 0 0 1 240.7 373.1Z" fill="#1a98bc"/>
<path d="M247.0 374.5L240.7 373.2A6.5 5.9 0 0 1 241.9 370.8Z" fill="#15607a"/>
<path d="M247.0 374.5L241.8 371.0A6.5 5.9 0 0 1 244.0 369.3Z" fill="#102838"/>
<path d="M247.0 374.5L243.8 369.3A6.5 5.9 0 0 1 246.6 368.6Z" fill="#0e1f2a"/>
<path d="M247.0 374.5L246.4 368.6A6.5 5.9 0 0 1 249.2 368.9Z" fill="#0c161d"/>
<path d="M247.0 374.5L249.0 368.9A6.5 5.9 0 0 1 251.5 370.2Z" fill="#0b0d10"/>
<path d="M247.0 374.5L251.4 370.1A6.5 5.9 0 0 1 253.0 372.3Z" fill="#5c5d5f"/>
<path d="M247.0 374.5L252.9 372.1A6.5 5.9 0 0 1 253.5 374.7Z" fill="#adaeaf"/>
<path d="M247.0 374.5L250.6 374.5A3.6 3.3 0 0 1 250.0 376.2Z" fill="#f0f060"/>
<path d="M247.0 374.5L250.1 376.1A3.6 3.3 0 0 1 248.7 377.4Z" fill="#caf58d"/>
<path d="M247.0 374.5L248.8 377.3A3.6 3.3 0 0 1 246.9 377.8Z" fill="#a5faba"/>
<path d="M247.0 374.5L247.0 377.8A3.6 3.3 0 0 1 245.1 377.3Z" fill="#80ffe8"/>
<path d="M247.0 374.5L245.2 377.3A3.6 3.3 0 0 1 243.9 376.0Z" fill="#aaffef"/>
<path d="M247.0 374.5L243.9 376.1A3.6 3.3 0 0 1 243.4 374.4Z" fill="#d4fff7"/>
<path d="M247.0 374.5L243.4 374.5A3.6 3.3 0 0 1 244.0 372.8Z" fill="#ffffff"/>
<path d="M247.0 374.5L243.9 372.9A3.6 3.3 0 0 1 245.3 371.6Z" fill="#adaeaf"/>
<path d="M247.0 374.5L245.2 371.7A3.6 3.3 0 0 1 247.1 371.2Z" fill="#5c5d5f"/>
<path d="M247.0 374.5L247.0 371.2A3.6 3.3 0 0 1 248.9 371.7Z" fill="#0b0d10"/>
<path d="M247.0 374.5L248.8 371.7A3.6 3.3 0 0 1 250.1 373.0Z" fill="#57582a"/>
<path d="M247.0 374.5L250.1 372.9A3.6 3.3 0 0 1 250.6 374.6Z" fill="#a3a445"/>
<path d="M247.0 374.5L252.5 377.6A6.5 5.9 0 0 1 251.8 378.5Z" fill="#0a0c10"/>
<path d="M247.0 374.5L241.6 371.2A6.5 5.9 0 0 1 242.5 370.2Z" fill="#0a0c10"/>
<path d="M247.0 374.5L240.6 375.3A6.5 5.9 0 0 1 240.5 374.1Z" fill="#0a0c10"/>
<path d="M247.0 374.5L243.4 379.4A6.5 5.9 0 0 1 242.4 378.7Z" fill="#0a0c10"/>
<path d="M252.0 366.0L248.1 367.3A4.3 3.2 0 0 1 247.9 365.0Z" fill="#ffe020"/>
<path d="M252.0 366.0L247.8 365.1A4.3 3.2 0 0 1 249.7 363.3Z" fill="#ffda15"/>
<path d="M252.0 366.0L249.6 363.3A4.3 3.2 0 0 1 252.6 362.8Z" fill="#ffd50a"/>
<path d="M252.0 366.0L252.5 362.8A4.3 3.2 0 0 1 255.2 363.8Z" fill="#ffd000"/>
<path d="M252.0 366.0L255.1 363.7A4.3 3.2 0 0 1 256.3 365.9Z" fill="#ffdd35"/>
<path d="M252.0 366.0L256.3 365.8A4.3 3.2 0 0 1 255.4 368.0Z" fill="#ffea6a"/>
<path d="M252.0 366.0L255.5 367.9A4.3 3.2 0 0 1 252.9 369.2Z" fill="#fff8a0"/>
<path d="M252.0 366.0L253.0 369.1A4.3 3.2 0 0 1 250.0 368.9Z" fill="#fff075"/>
<path d="M252.0 366.0L250.1 368.9A4.3 3.2 0 0 1 248.0 367.2Z" fill="#ffe84a"/>
<path d="M280.0 358.5L285.2 363.2A7.0 7.0 0 0 1 282.6 365.0Z" fill="#0b0d10"/>
<path d="M280.0 358.5L282.8 364.9A7.0 7.0 0 0 1 279.7 365.5Z" fill="#5c181a"/>
<path d="M280.0 358.5L279.9 365.5A7.0 7.0 0 0 1 276.9 364.8Z" fill="#ad2425"/>
<path d="M280.0 358.5L277.1 364.9A7.0 7.0 0 0 1 274.6 363.0Z" fill="#ff3030"/>
<path d="M280.0 358.5L274.7 363.2A7.0 7.0 0 0 1 273.2 360.4Z" fill="#b46575"/>
<path d="M280.0 358.5L273.3 360.6A7.0 7.0 0 0 1 273.1 357.5Z" fill="#6a9aba"/>
<path d="M280.0 358.5L273.0 357.7A7.0 7.0 0 0 1 274.1 354.8Z" fill="#20d0ff"/>
<path d="M280.0 358.5L274.0 354.9A7.0 7.0 0 0 1 276.1 352.7Z" fill="#6a9aba"/>
<path d="M280.0 358.5L275.9 352.8A7.0 7.0 0 0 1 278.8 351.6Z" fill="#b46575"/>
<path d="M280.0 358.5L278.6 351.6A7.0 7.0 0 0 1 281.7 351.7Z" fill="#ff3030"/>
<path d="M280.0 358.5L281.5 351.6A7.0 7.0 0 0 1 284.3 353.0Z" fill="#b4356a"/>
<path d="M280.0 358.5L284.2 352.9A7.0 7.0 0 0 1 286.2 355.2Z" fill="#6a3aa5"/>
<path d="M280.0 358.5L286.1 355.0A7.0 7.0 0 0 1 287.0 358.0Z" fill="#2040e0"/>
<path d="M280.0 358.5L287.0 357.8A7.0 7.0 0 0 1 286.6 360.9Z" fill="#192f9a"/>
<path d="M280.0 358.5L286.7 360.7A7.0 7.0 0 0 1 285.0 363.4Z" fill="#121e55"/>
<path d="M280.0 358.5L282.8 361.1A3.9 3.9 0 0 1 281.0 362.2Z" fill="#201020"/>
<path d="M280.0 358.5L281.2 362.2A3.9 3.9 0 0 1 279.1 362.2Z" fill="#6a3a20"/>
<path d="M280.0 358.5L279.2 362.3A3.9 3.9 0 0 1 277.3 361.3Z" fill="#b46520"/>
<path d="M280.0 358.5L277.4 361.3A3.9 3.9 0 0 1 276.3 359.5Z" fill="#ff9020"/>
<path d="M280.0 358.5L276.3 359.7A3.9 3.9 0 0 1 276.3 357.6Z" fill="#b47560"/>
<path d="M280.0 358.5L276.2 357.7A3.9 3.9 0 0 1 277.2 355.8Z" fill="#6a5aa0"/>
<path d="M280.0 358.5L277.2 355.9A3.9 3.9 0 0 1 279.0 354.8Z" fill="#2040e0"/>
<path d="M280.0 358.5L278.8 354.8A3.9 3.9 0 0 1 280.9 354.8Z" fill="#2030a0"/>
<path d="M280.0 358.5L280.8 354.7A3.9 3.9 0 0 1 282.7 355.7Z" fill="#202060"/>
<path d="M280.0 358.5L282.6 355.7A3.9 3.9 0 0 1 283.7 357.5Z" fill="#201020"/>
<path d="M280.0 358.5L283.7 357.3A3.9 3.9 0 0 1 283.7 359.4Z" fill="#201020"/>
<path d="M280.0 358.5L283.8 359.3A3.9 3.9 0 0 1 282.8 361.2Z" fill="#201020"/>
<path d="M280.0 358.5L277.6 351.9A7.0 7.0 0 0 1 278.9 351.6Z" fill="#0a0c10"/>
<path d="M280.0 358.5L283.0 364.8A7.0 7.0 0 0 1 281.7 365.3Z" fill="#0a0c10"/>
<path d="M290.0 358.5L294.8 359.0A4.9 5.9 0 0 1 294.2 361.5Z" fill="#80ffe8"/>
<path d="M290.0 358.5L294.3 361.4A4.9 5.9 0 0 1 292.8 363.3Z" fill="#5ab7ad"/>
<path d="M290.0 358.5L292.9 363.2A4.9 5.9 0 0 1 291.0 364.3Z" fill="#356f72"/>
<path d="M290.0 358.5L291.1 364.3A4.9 5.9 0 0 1 288.9 364.3Z" fill="#102838"/>
<path d="M290.0 358.5L289.1 364.3A4.9 5.9 0 0 1 287.1 363.3Z" fill="#155070"/>
<path d="M290.0 358.5L287.2 363.4A4.9 5.9 0 0 1 285.8 361.4Z" fill="#1a78a8"/>
<path d="M290.0 358.5L285.8 361.6A4.9 5.9 0 0 1 285.2 359.1Z" fill="#20a0e0"/>
<path d="M290.0 358.5L285.2 359.2A4.9 5.9 0 0 1 285.4 356.6Z" fill="#65bab5"/>
<path d="M290.0 358.5L285.3 356.8A4.9 5.9 0 0 1 286.4 354.5Z" fill="#aad58a"/>
<path d="M290.0 358.5L286.3 354.6A4.9 5.9 0 0 1 288.1 353.0Z" fill="#f0f060"/>
<path d="M290.0 358.5L287.9 353.1A4.9 5.9 0 0 1 290.1 352.6Z" fill="#a3a445"/>
<path d="M290.0 358.5L289.9 352.6A4.9 5.9 0 0 1 292.0 353.1Z" fill="#57582a"/>
<path d="M290.0 358.5L291.9 353.0A4.9 5.9 0 0 1 293.6 354.6Z" fill="#0b0d10"/>
<path d="M290.0 358.5L293.5 354.4A4.9 5.9 0 0 1 294.6 356.7Z" fill="#325d58"/>
<path d="M290.0 358.5L294.6 356.6A4.9 5.9 0 0 1 294.8 359.2Z" fill="#59aea0"/>
<path d="M286.0 362.0L287.6 366.0A4.3 4.3 0 0 1 284.5 366.0Z" fill="#ffffff"/>
<path d="M286.0 362.0L284.6 366.1A4.3 4.3 0 0 1 282.2 364.1Z" fill="#bff4ff"/>
<path d="M286.0 362.0L282.3 364.2A4.3 4.3 0 0 1 281.8 361.2Z" fill="#7feaff"/>
<path d="M286.0 362.0L281.7 361.3A4.3 4.3 0 0 1 283.2 358.7Z" fill="#40e0ff"/>
<path d="M286.0 362.0L283.1 358.8A4.3 4.3 0 0 1 286.0 357.7Z" fill="#38a0ba"/>
<path d="M286.0 362.0L285.9 357.7A4.3 4.3 0 0 1 288.8 358.7Z" fill="#306075"/>
<path d="M286.0 362.0L288.7 358.6A4.3 4.3 0 0 1 290.3 361.3Z" fill="#282030"/>
<path d="M286.0 362.0L290.2 361.2A4.3 4.3 0 0 1 289.7 364.2Z" fill="#6f6a75"/>
<path d="M286.0 362.0L289.8 364.1A4.3 4.3 0 0 1 287.4 366.1Z" fill="#b7b4ba"/>
<path d="M301.3 359.2L295.5 355.0A7.6 6.5 0 0 1 298.2 353.3Z" fill="#0b0d10"/>
<path d="M301.3 359.2L298.0 353.4A7.6 6.5 0 0 1 301.3 352.7Z" fill="#5c181a"/>
<path d="M301.3 359.2L301.0 352.7A7.6 6.5 0 0 1 304.3 353.3Z" fill="#ad2425"/>
<path d="M301.3 359.2L304.1 353.2A7.6 6.5 0 0 1 306.9 354.8Z" fill="#ff3030"/>
<path d="M301.3 359.2L306.7 354.7A7.6 6.5 0 0 1 308.5 357.2Z" fill="#ff7575"/>
<path d="M301.3 359.2L308.4 357.0A7.6 6.5 0 0 1 308.8 359.9Z" fill="#ffbaba"/>
<path d="M301.3 359.2L308.8 359.7A7.6 6.5 0 0 1 307.9 362.4Z" fill="#ffffff"/>
<path d="M301.3 359.2L308.0 362.2A7.6 6.5 0 0 1 305.8 364.4Z" fill="#b4efff"/>
<path d="M301.3 359.2L305.9 364.3A7.6 6.5 0 0 1 302.9 365.5Z" fill="#6adfff"/>
<path d="M301.3 359.2L303.1 365.5A7.6 6.5 0 0 1 299.8 365.5Z" fill="#20d0ff"/>
<path d="M301.3 359.2L300.0 365.6A7.6 6.5 0 0 1 296.9 364.5Z" fill="#20a0f4"/>
<path d="M301.3 359.2L297.1 364.6A7.6 6.5 0 0 1 294.8 362.5Z" fill="#2070ea"/>
<path d="M301.3 359.2L294.9 362.6A7.6 6.5 0 0 1 293.8 359.9Z" fill="#2040e0"/>
<path d="M301.3 359.2L293.8 360.1A7.6 6.5 0 0 1 294.1 357.2Z" fill="#192f9a"/>
<path d="M301.3 359.2L294.0 357.4A7.6 6.5 0 0 1 295.7 354.9Z" fill="#121e55"/>
<path d="M301.3 359.2L298.1 356.9A4.2 3.6 0 0 1 300.0 355.8Z" fill="#e020c0"/>
<path d="M301.3 359.2L299.9 355.8A4.2 3.6 0 0 1 302.1 355.7Z" fill="#a05ad5"/>
<path d="M301.3 359.2L302.0 355.7A4.2 3.6 0 0 1 304.1 356.5Z" fill="#6095ea"/>
<path d="M301.3 359.2L304.0 356.5A4.2 3.6 0 0 1 305.2 358.1Z" fill="#20d0ff"/>
<path d="M301.3 359.2L305.2 358.0A4.2 3.6 0 0 1 305.4 359.9Z" fill="#198faf"/>
<path d="M301.3 359.2L305.4 359.8A4.2 3.6 0 0 1 304.4 361.6Z" fill="#124e5f"/>
<path d="M301.3 359.2L304.5 361.5A4.2 3.6 0 0 1 302.6 362.6Z" fill="#0b0d10"/>
<path d="M301.3 359.2L302.7 362.6A4.2 3.6 0 0 1 300.5 362.7Z" fill="#121e55"/>
<path d="M301.3 359.2L300.6 362.7A4.2 3.6 0 0 1 298.5 361.9Z" fill="#192f9a"/>
<path d="M301.3 359.2L298.6 361.9A4.2 3.6 0 0 1 297.4 360.3Z" fill="#2040e0"/>
<path d="M301.3 359.2L297.4 360.4A4.2 3.6 0 0 1 297.2 358.5Z" fill="#6035d5"/>
<path d="M301.3 359.2L297.2 358.6A4.2 3.6 0 0 1 298.2 356.8Z" fill="#a02aca"/>
<path d="M301.3 359.2L308.2 361.8A7.6 6.5 0 0 1 307.5 363.0Z" fill="#0a0c10"/>
<path d="M301.3 359.2L294.6 356.2A7.6 6.5 0 0 1 295.4 355.1Z" fill="#0a0c10"/>
<path d="M105.0 396.5L97.1 395.1A8.0 8.0 0 0 1 97.5 393.9Z" fill="#20d0ff"/>
<path d="M105.0 396.5L97.4 394.1A8.0 8.0 0 0 1 97.9 392.9Z" fill="#6095ea"/>
<path d="M105.0 396.5L97.8 393.1A8.0 8.0 0 0 1 98.4 392.0Z" fill="#a05ad5"/>
<path d="M105.0 396.5L98.3 392.2A8.0 8.0 0 0 1 99.1 391.1Z" fill="#e020c0"/>
<path d="M105.0 396.5L98.9 391.3A8.0 8.0 0 0 1 99.8 390.4Z" fill="#ea458a"/>
<path d="M105.0 396.5L99.7 390.5A8.0 8.0 0 0 1 100.7 389.8Z" fill="#f46a55"/>
<path d="M105.0 396.5L100.5 389.9A8.0 8.0 0 0 1 101.6 389.2Z" fill="#ff9020"/>
<path d="M105.0 396.5L101.4 389.4A8.0 8.0 0 0 1 102.6 388.9Z" fill="#ffaa20"/>
<path d="M105.0 396.5L102.4 388.9A8.0 8.0 0 0 1 103.7 388.6Z" fill="#ffc520"/>
<path d="M105.0 396.5L103.4 388.7A8.0 8.0 0 0 1 104.7 388.5Z" fill="#ffe020"/>
<path d="M105.0 396.5L104.5 388.5A8.0 8.0 0 0 1 105.8 388.5Z" fill="#b4aa60"/>
<path d="M105.0 396.5L105.5 388.5A8.0 8.0 0 0 1 106.8 388.7Z" fill="#6a75a0"/>
<path d="M105.0 396.5L106.6 388.7A8.0 8.0 0 0 1 107.8 389.0Z" fill="#2040e0"/>
<path d="M105.0 396.5L107.6 388.9A8.0 8.0 0 0 1 108.8 389.5Z" fill="#6a5aa0"/>
<path d="M105.0 396.5L108.6 389.4A8.0 8.0 0 0 1 109.7 390.0Z" fill="#b47560"/>
<path d="M105.0 396.5L109.5 389.9A8.0 8.0 0 0 1 110.5 390.7Z" fill="#ff9020"/>
<path d="M105.0 396.5L110.3 390.5A8.0 8.0 0 0 1 111.2 391.5Z" fill="#ad641a"/>
<path d="M105.0 396.5L111.1 391.3A8.0 8.0 0 0 1 111.8 392.4Z" fill="#5c3815"/>
<path d="M105.0 396.5L111.7 392.2A8.0 8.0 0 0 1 112.3 393.3Z" fill="#0b0d10"/>
<path d="M105.0 396.5L112.2 393.1A8.0 8.0 0 0 1 112.7 394.3Z" fill="#5c181a"/>
<path d="M105.0 396.5L112.6 394.1A8.0 8.0 0 0 1 112.9 395.3Z" fill="#ad2425"/>
<path d="M105.0 396.5L100.7 395.7A4.4 4.4 0 0 1 101.0 394.6Z" fill="#20d0ff"/>
<path d="M105.0 396.5L101.0 394.8A4.4 4.4 0 0 1 101.6 393.8Z" fill="#6ad5b4"/>
<path d="M105.0 396.5L101.5 393.9A4.4 4.4 0 0 1 102.3 393.0Z" fill="#b4da6a"/>
<path d="M105.0 396.5L102.2 393.1A4.4 4.4 0 0 1 103.1 392.5Z" fill="#ffe020"/>
<path d="M105.0 396.5L103.0 392.6A4.4 4.4 0 0 1 104.1 392.2Z" fill="#ffa525"/>
<path d="M105.0 396.5L104.0 392.2A4.4 4.4 0 0 1 105.1 392.1Z" fill="#ff6a2a"/>
<path d="M105.0 396.5L105.0 392.1A4.4 4.4 0 0 1 106.1 392.3Z" fill="#ff3030"/>
<path d="M105.0 396.5L106.0 392.2A4.4 4.4 0 0 1 107.1 392.6Z" fill="#f42a60"/>
<path d="M105.0 396.5L107.0 392.6A4.4 4.4 0 0 1 107.9 393.2Z" fill="#ea2590"/>
<path d="M105.0 396.5L107.8 393.1A4.4 4.4 0 0 1 108.6 394.0Z" fill="#e020c0"/>
<path d="M105.0 396.5L108.5 393.9A4.4 4.4 0 0 1 109.1 394.9Z" fill="#ea6ad5"/>
<path d="M105.0 396.5L109.0 394.8A4.4 4.4 0 0 1 109.4 395.9Z" fill="#f4b4ea"/>
<path d="M105.0 396.5L100.4 389.9A8.0 8.0 0 0 1 101.8 389.1Z" fill="#0a0c10"/>
<path d="M105.0 396.5L112.4 393.4A8.0 8.0 0 0 1 112.8 394.9Z" fill="#0a0c10"/>
<path d="M140.5 401.0L145.7 394.0A7.6 9.7 0 0 1 147.2 396.5Z" fill="#0b0d10"/>
<path d="M140.5 401.0L147.1 396.3A7.6 9.7 0 0 1 147.9 399.3Z" fill="#5c5d5f"/>
<path d="M140.5 401.0L147.9 399.0A7.6 9.7 0 0 1 148.0 402.2Z" fill="#adaeaf"/>
<path d="M140.5 401.0L148.0 401.9A7.6 9.7 0 0 1 147.4 405.0Z" fill="#ffffff"/>
<path d="M140.5 401.0L147.5 404.7A7.6 9.7 0 0 1 146.2 407.4Z" fill="#afbab7"/>
<path d="M140.5 401.0L146.3 407.2A7.6 9.7 0 0 1 144.5 409.3Z" fill="#5f756f"/>
<path d="M140.5 401.0L144.7 409.1A7.6 9.7 0 0 1 142.4 410.4Z" fill="#103028"/>
<path d="M140.5 401.0L142.6 410.3A7.6 9.7 0 0 1 140.1 410.7Z" fill="#55355a"/>
<path d="M140.5 401.0L140.4 410.7A7.6 9.7 0 0 1 137.9 410.1Z" fill="#9a3a8d"/>
<path d="M140.5 401.0L138.2 410.2A7.6 9.7 0 0 1 136.0 408.8Z" fill="#e040c0"/>
<path d="M140.5 401.0L136.1 408.9A7.6 9.7 0 0 1 134.4 406.7Z" fill="#9a3a8d"/>
<path d="M140.5 401.0L134.5 406.9A7.6 9.7 0 0 1 133.3 404.1Z" fill="#55355a"/>
<path d="M140.5 401.0L133.4 404.4A7.6 9.7 0 0 1 132.9 401.3Z" fill="#103028"/>
<path d="M140.5 401.0L133.0 401.6A7.6 9.7 0 0 1 133.2 398.4Z" fill="#5f756f"/>
<path d="M140.5 401.0L133.2 398.7A7.6 9.7 0 0 1 134.1 395.8Z" fill="#afbab7"/>
<path d="M140.5 401.0L134.0 396.0A7.6 9.7 0 0 1 135.6 393.6Z" fill="#ffffff"/>
<path d="M140.5 401.0L135.5 393.8A7.6 9.7 0 0 1 137.5 392.1Z" fill="#f4bfea"/>
<path d="M140.5 401.0L137.3 392.2A7.6 9.7 0 0 1 139.7 391.3Z" fill="#ea7fd5"/>
<path d="M140.5 401.0L139.5 391.4A7.6 9.7 0 0 1 142.0 391.5Z" fill="#e040c0"/>
<path d="M140.5 401.0L141.8 391.4A7.6 9.7 0 0 1 144.1 392.4Z" fill="#992f85"/>
<path d="M140.5 401.0L143.9 392.3A7.6 9.7 0 0 1 145.9 394.2Z" fill="#521e4a"/>
<path d="M140.5 401.0L143.4 397.1A4.2 5.3 0 0 1 144.5 399.7Z" fill="#40ffd0"/>
<path d="M140.5 401.0L144.5 399.5A4.2 5.3 0 0 1 144.5 402.4Z" fill="#3aefb5"/>
<path d="M140.5 401.0L144.5 402.3A4.2 5.3 0 0 1 143.4 404.8Z" fill="#35df9a"/>
<path d="M140.5 401.0L143.5 404.7A4.2 5.3 0 0 1 141.5 406.2Z" fill="#30d080"/>
<path d="M140.5 401.0L141.7 406.1A4.2 5.3 0 0 1 139.4 406.2Z" fill="#70da6a"/>
<path d="M140.5 401.0L139.5 406.2A4.2 5.3 0 0 1 137.5 404.7Z" fill="#b0e555"/>
<path d="M140.5 401.0L137.6 404.9A4.2 5.3 0 0 1 136.5 402.3Z" fill="#f0f040"/>
<path d="M140.5 401.0L136.5 402.5A4.2 5.3 0 0 1 136.5 399.6Z" fill="#b0e555"/>
<path d="M140.5 401.0L136.5 399.7A4.2 5.3 0 0 1 137.6 397.2Z" fill="#70da6a"/>
<path d="M140.5 401.0L137.5 397.3A4.2 5.3 0 0 1 139.5 395.8Z" fill="#30d080"/>
<path d="M140.5 401.0L139.3 395.9A4.2 5.3 0 0 1 141.6 395.8Z" fill="#35df9a"/>
<path d="M140.5 401.0L141.5 395.8A4.2 5.3 0 0 1 143.5 397.3Z" fill="#3aefb5"/>
<path d="M140.5 401.0L133.3 403.8A7.6 9.7 0 0 1 133.0 401.9Z" fill="#0a0c10"/>
<path d="M140.5 401.0L134.9 394.5A7.6 9.7 0 0 1 136.0 393.2Z" fill="#0a0c10"/>
<path d="M144.2 380.7L146.6 382.3A2.7 3.2 0 0 1 145.1 383.8Z" fill="#0b0d10"/>
<path d="M144.2 380.7L145.2 383.7A2.7 3.2 0 0 1 143.2 383.7Z" fill="#5c5b40"/>
<path d="M144.2 380.7L143.3 383.8A2.7 3.2 0 0 1 141.8 382.3Z" fill="#ada970"/>
<path d="M144.2 380.7L141.9 382.4A2.7 3.2 0 0 1 141.5 380.1Z" fill="#fff8a0"/>
<path d="M144.2 380.7L141.5 380.2A2.7 3.2 0 0 1 142.5 378.2Z" fill="#ffd070"/>
<path d="M144.2 380.7L142.4 378.3A2.7 3.2 0 0 1 144.2 377.5Z" fill="#ffa840"/>
<path d="M144.2 380.7L144.2 377.5A2.7 3.2 0 0 1 146.0 378.2Z" fill="#ff8010"/>
<path d="M144.2 380.7L145.9 378.2A2.7 3.2 0 0 1 146.9 380.2Z" fill="#ad5910"/>
<path d="M144.2 380.7L146.9 380.1A2.7 3.2 0 0 1 146.5 382.4Z" fill="#5c3310"/>
<path d="M112.0 422.0L112.0 412.0A10.0 10.0 0 0 1 114.2 412.2Z" fill="#ffffff"/>
<path d="M112.0 422.0L113.9 412.2A10.0 10.0 0 0 1 116.0 412.8Z" fill="#fff4b4"/>
<path d="M112.0 422.0L115.7 412.7A10.0 10.0 0 0 1 117.7 413.8Z" fill="#ffea6a"/>
<path d="M112.0 422.0L117.4 413.6A10.0 10.0 0 0 1 119.1 415.0Z" fill="#ffe020"/>
<path d="M112.0 422.0L118.9 414.8A10.0 10.0 0 0 1 120.3 416.4Z" fill="#ffda20"/>
<path d="M112.0 422.0L120.1 416.2A10.0 10.0 0 0 1 121.2 418.1Z" fill="#ffd520"/>
<path d="M112.0 422.0L121.1 417.8A10.0 10.0 0 0 1 121.8 419.9Z" fill="#ffd020"/>
<path d="M112.0 422.0L121.7 419.6A10.0 10.0 0 0 1 122.0 421.8Z" fill="#ffd82a"/>
<path d="M112.0 422.0L122.0 421.5A10.0 10.0 0 0 1 121.9 423.7Z" fill="#ffe035"/>
<path d="M112.0 422.0L121.9 423.4A10.0 10.0 0 0 1 121.3 425.6Z" fill="#ffe840"/>
<path d="M112.0 422.0L121.5 425.3A10.0 10.0 0 0 1 120.5 427.3Z" fill="#ffea55"/>
<path d="M112.0 422.0L120.7 427.0A10.0 10.0 0 0 1 119.4 428.8Z" fill="#ffed6a"/>
<path d="M112.0 422.0L119.6 428.5A10.0 10.0 0 0 1 117.9 430.0Z" fill="#fff080"/>
<path d="M112.0 422.0L118.2 429.9A10.0 10.0 0 0 1 116.3 431.0Z" fill="#fad55a"/>
<path d="M112.0 422.0L116.6 430.9A10.0 10.0 0 0 1 114.5 431.7Z" fill="#f5ba35"/>
<path d="M112.0 422.0L114.8 431.6A10.0 10.0 0 0 1 112.7 432.0Z" fill="#f0a010"/>
<path d="M112.0 422.0L113.0 432.0A10.0 10.0 0 0 1 110.8 431.9Z" fill="#aa700a"/>
<path d="M112.0 422.0L111.0 432.0A10.0 10.0 0 0 1 108.9 431.5Z" fill="#654005"/>
<path d="M112.0 422.0L109.2 431.6A10.0 10.0 0 0 1 107.2 430.7Z" fill="#201000"/>
<path d="M112.0 422.0L107.4 430.9A10.0 10.0 0 0 1 105.6 429.7Z" fill="#602005"/>
<path d="M112.0 422.0L105.8 429.9A10.0 10.0 0 0 1 104.2 428.3Z" fill="#a0300a"/>
<path d="M112.0 422.0L104.4 428.5A10.0 10.0 0 0 1 103.2 426.7Z" fill="#e04010"/>
<path d="M112.0 422.0L103.3 427.0A10.0 10.0 0 0 1 102.5 425.0Z" fill="#ea5515"/>
<path d="M112.0 422.0L102.5 425.3A10.0 10.0 0 0 1 102.1 423.1Z" fill="#f46a1a"/>
<path d="M112.0 422.0L102.1 423.4A10.0 10.0 0 0 1 102.0 421.2Z" fill="#ff8020"/>
<path d="M112.0 422.0L102.0 421.5A10.0 10.0 0 0 1 102.4 419.4Z" fill="#ba5a15"/>
<path d="M112.0 422.0L102.3 419.6A10.0 10.0 0 0 1 103.0 417.6Z" fill="#75350a"/>
<path d="M112.0 422.0L102.9 417.8A10.0 10.0 0 0 1 104.0 416.0Z" fill="#301000"/>
<path d="M112.0 422.0L103.9 416.2A10.0 10.0 0 0 1 105.3 414.6Z" fill="#755015"/>
<path d="M112.0 422.0L105.1 414.8A10.0 10.0 0 0 1 106.8 413.4Z" fill="#ba902a"/>
<path d="M112.0 422.0L106.6 413.6A10.0 10.0 0 0 1 108.6 412.6Z" fill="#ffd040"/>
<path d="M112.0 422.0L108.3 412.7A10.0 10.0 0 0 1 110.4 412.1Z" fill="#ffdf7f"/>
<path d="M112.0 422.0L110.1 412.2A10.0 10.0 0 0 1 112.3 412.0Z" fill="#ffefbf"/>
<path d="M112.0 422.0L112.0 416.5A5.5 5.5 0 0 1 114.9 417.3Z" fill="#fff080"/>
<path d="M112.0 422.0L114.8 417.2A5.5 5.5 0 0 1 116.8 419.4Z" fill="#ffca60"/>
<path d="M112.0 422.0L116.8 419.2A5.5 5.5 0 0 1 117.5 422.2Z" fill="#ffa540"/>
<path d="M112.0 422.0L117.5 422.0A5.5 5.5 0 0 1 116.7 424.9Z" fill="#ff8020"/>
<path d="M112.0 422.0L116.8 424.8A5.5 5.5 0 0 1 114.6 426.8Z" fill="#ffa22a"/>
<path d="M112.0 422.0L114.8 426.8A5.5 5.5 0 0 1 111.8 427.5Z" fill="#ffc535"/>
<path d="M112.0 422.0L112.0 427.5A5.5 5.5 0 0 1 109.1 426.7Z" fill="#ffe840"/>
<path d="M112.0 422.0L109.2 426.8A5.5 5.5 0 0 1 107.2 424.6Z" fill="#ffc535"/>
<path d="M112.0 422.0L107.2 424.8A5.5 5.5 0 0 1 106.5 421.8Z" fill="#ffa22a"/>
<path d="M112.0 422.0L106.5 422.0A5.5 5.5 0 0 1 107.3 419.1Z" fill="#ff8020"/>
<path d="M112.0 422.0L107.2 419.2A5.5 5.5 0 0 1 109.4 417.2Z" fill="#ffa540"/>
<path d="M112.0 422.0L109.2 417.2A5.5 5.5 0 0 1 112.2 416.5Z" fill="#ffca60"/>
<path d="M112.0 422.0L121.9 420.8A10.0 10.0 0 0 1 122.0 422.8Z" fill="#0a0c10"/>
<path d="M107.0 423.0L110.1 429.5A5.9 7.6 0 0 1 107.6 430.5Z" fill="#e05008"/>
<path d="M107.0 423.0L107.8 430.5A5.9 7.6 0 0 1 105.1 430.2Z" fill="#aa3d05"/>
<path d="M107.0 423.0L105.3 430.2A5.9 7.6 0 0 1 103.0 428.6Z" fill="#752a02"/>
<path d="M107.0 423.0L103.1 428.7A5.9 7.6 0 0 1 101.6 426.0Z" fill="#401800"/>
<path d="M107.0 423.0L101.6 426.2A5.9 7.6 0 0 1 101.1 423.0Z" fill="#7f4a0a"/>
<path d="M107.0 423.0L101.1 423.2A5.9 7.6 0 0 1 101.6 419.9Z" fill="#bf7d15"/>
<path d="M107.0 423.0L101.5 420.1A5.9 7.6 0 0 1 103.0 417.4Z" fill="#ffb020"/>
<path d="M107.0 423.0L102.9 417.5A5.9 7.6 0 0 1 105.2 415.8Z" fill="#ad791a"/>
<path d="M107.0 423.0L105.0 415.9A5.9 7.6 0 0 1 107.7 415.5Z" fill="#5c4315"/>
<path d="M107.0 423.0L107.5 415.5A5.9 7.6 0 0 1 110.0 416.5Z" fill="#0b0d10"/>
<path d="M107.0 423.0L109.8 416.4A5.9 7.6 0 0 1 111.8 418.6Z" fill="#5c1815"/>
<path d="M107.0 423.0L111.7 418.4A5.9 7.6 0 0 1 112.8 421.5Z" fill="#ad241a"/>
<path d="M107.0 423.0L112.8 421.2A5.9 7.6 0 0 1 112.8 424.6Z" fill="#ff3020"/>
<path d="M107.0 423.0L112.8 424.4A5.9 7.6 0 0 1 111.8 427.5Z" fill="#f43a18"/>
<path d="M107.0 423.0L111.9 427.3A5.9 7.6 0 0 1 109.9 429.6Z" fill="#ea4510"/>
<path d="M107.0 423.0L108.7 426.5A3.3 4.2 0 0 1 107.0 427.2Z" fill="#e05008"/>
<path d="M107.0 423.0L107.1 427.2A3.3 4.2 0 0 1 105.4 426.6Z" fill="#ea7010"/>
<path d="M107.0 423.0L105.4 426.7A3.3 4.2 0 0 1 104.2 425.1Z" fill="#f49018"/>
<path d="M107.0 423.0L104.2 425.2A3.3 4.2 0 0 1 103.7 423.0Z" fill="#ffb020"/>
<path d="M107.0 423.0L103.7 423.1A3.3 4.2 0 0 1 104.2 420.9Z" fill="#ff8520"/>
<path d="M107.0 423.0L104.1 421.0A3.3 4.2 0 0 1 105.4 419.4Z" fill="#ff5a20"/>
<path d="M107.0 423.0L105.3 419.5A3.3 4.2 0 0 1 107.0 418.8Z" fill="#ff3020"/>
<path d="M107.0 423.0L106.9 418.8A3.3 4.2 0 0 1 108.6 419.4Z" fill="#bf2815"/>
<path d="M107.0 423.0L108.6 419.3A3.3 4.2 0 0 1 109.8 420.9Z" fill="#7f200a"/>
<path d="M107.0 423.0L109.8 420.8A3.3 4.2 0 0 1 110.3 423.0Z" fill="#401800"/>
<path d="M107.0 423.0L110.3 422.9A3.3 4.2 0 0 1 109.8 425.1Z" fill="#752a02"/>
<path d="M107.0 423.0L109.9 425.0A3.3 4.2 0 0 1 108.6 426.6Z" fill="#aa3d05"/>
<path d="M107.0 423.0L104.9 415.9A5.9 7.6 0 0 1 106.0 415.5Z" fill="#0a0c10"/>
<path d="M107.0 423.0L108.8 415.8A5.9 7.6 0 0 1 109.9 416.4Z" fill="#0a0c10"/>
<path d="M107.0 423.0L108.3 430.4A5.9 7.6 0 0 1 107.1 430.6Z" fill="#0a0c10"/>
<path d="M90.7 425.0L95.5 429.8A10.8 5.4 0 0 1 92.1 430.4Z" fill="#0b0d10"/>
<path d="M90.7 425.0L92.4 430.3A10.8 5.4 0 0 1 88.9 430.3Z" fill="#5c1820"/>
<path d="M90.7 425.0L89.2 430.3A10.8 5.4 0 0 1 85.8 429.8Z" fill="#ad2430"/>
<path d="M90.7 425.0L86.1 429.9A10.8 5.4 0 0 1 83.2 428.9Z" fill="#ff3040"/>
<path d="M90.7 425.0L83.4 429.0A10.8 5.4 0 0 1 81.2 427.6Z" fill="#b02640"/>
<path d="M90.7 425.0L81.4 427.7A10.8 5.4 0 0 1 80.1 426.1Z" fill="#621d40"/>
<path d="M90.7 425.0L80.2 426.3A10.8 5.4 0 0 1 79.9 424.5Z" fill="#141440"/>
<path d="M90.7 425.0L79.9 424.7A10.8 5.4 0 0 1 80.7 422.9Z" fill="#5d3d35"/>
<path d="M90.7 425.0L80.6 423.1A10.8 5.4 0 0 1 82.4 421.6Z" fill="#a6662a"/>
<path d="M90.7 425.0L82.2 421.7A10.8 5.4 0 0 1 84.8 420.5Z" fill="#f09020"/>
<path d="M90.7 425.0L84.5 420.6A10.8 5.4 0 0 1 87.7 419.8Z" fill="#b5806a"/>
<path d="M90.7 425.0L87.4 419.9A10.8 5.4 0 0 1 90.9 419.6Z" fill="#7a70b4"/>
<path d="M90.7 425.0L90.6 419.6A10.8 5.4 0 0 1 94.1 419.9Z" fill="#4060ff"/>
<path d="M90.7 425.0L93.8 419.8A10.8 5.4 0 0 1 97.0 420.6Z" fill="#3550f7"/>
<path d="M90.7 425.0L96.7 420.5A10.8 5.4 0 0 1 99.3 421.7Z" fill="#2a40ef"/>
<path d="M90.7 425.0L99.1 421.6A10.8 5.4 0 0 1 100.8 423.1Z" fill="#2030e8"/>
<path d="M90.7 425.0L100.7 423.0A10.8 5.4 0 0 1 101.5 424.7Z" fill="#6a30b0"/>
<path d="M90.7 425.0L101.5 424.5A10.8 5.4 0 0 1 101.2 426.3Z" fill="#b43078"/>
<path d="M90.7 425.0L101.3 426.1A10.8 5.4 0 0 1 99.9 427.8Z" fill="#ff3040"/>
<path d="M90.7 425.0L100.1 427.7A10.8 5.4 0 0 1 97.9 429.0Z" fill="#ad2430"/>
<path d="M90.7 425.0L98.1 428.9A10.8 5.4 0 0 1 95.2 429.9Z" fill="#5c1820"/>
<path d="M90.7 425.0L93.3 427.7A5.9 3.0 0 0 1 90.1 428.0Z" fill="#2030e8"/>
<path d="M90.7 425.0L90.3 428.0A5.9 3.0 0 0 1 87.3 427.4Z" fill="#6a30b0"/>
<path d="M90.7 425.0L87.4 427.5A5.9 3.0 0 0 1 85.3 426.2Z" fill="#b43078"/>
<path d="M90.7 425.0L85.4 426.3A5.9 3.0 0 0 1 84.8 424.7Z" fill="#ff3040"/>
<path d="M90.7 425.0L84.8 424.8A5.9 3.0 0 0 1 85.9 423.3Z" fill="#b43078"/>
<path d="M90.7 425.0L85.8 423.4A5.9 3.0 0 0 1 88.2 422.3Z" fill="#6a30b0"/>
<path d="M90.7 425.0L88.1 422.3A5.9 3.0 0 0 1 91.3 422.0Z" fill="#2030e8"/>
<path d="M90.7 425.0L91.1 422.0A5.9 3.0 0 0 1 94.1 422.6Z" fill="#1924a0"/>
<path d="M90.7 425.0L94.0 422.5A5.9 3.0 0 0 1 96.1 423.8Z" fill="#121858"/>
<path d="M90.7 425.0L96.0 423.7A5.9 3.0 0 0 1 96.6 425.3Z" fill="#0b0d10"/>
<path d="M90.7 425.0L96.6 425.2A5.9 3.0 0 0 1 95.5 426.7Z" fill="#121858"/>
<path d="M90.7 425.0L95.6 426.6A5.9 3.0 0 0 1 93.2 427.7Z" fill="#1924a0"/>
<path d="M90.7 425.0L83.0 421.2A10.8 5.4 0 0 1 84.6 420.5Z" fill="#0a0c10"/>
<path d="M90.7 425.0L98.7 421.4A10.8 5.4 0 0 1 100.0 422.3Z" fill="#0a0c10"/>
<path d="M90.7 425.0L99.0 428.4A10.8 5.4 0 0 1 97.5 429.2Z" fill="#0a0c10"/>
<path d="M88.0 424.0L86.8 420.4A4.3 3.8 0 0 1 89.8 420.6Z" fill="#ff8010"/>
<path d="M88.0 424.0L89.7 420.5A4.3 3.8 0 0 1 91.9 422.4Z" fill="#ad5910"/>
<path d="M88.0 424.0L91.9 422.3A4.3 3.8 0 0 1 92.2 425.0Z" fill="#5c3310"/>
<path d="M88.0 424.0L92.2 424.9A4.3 3.8 0 0 1 90.5 427.1Z" fill="#0b0d10"/>
<path d="M88.0 424.0L90.6 427.0A4.3 3.8 0 0 1 87.6 427.8Z" fill="#5c3310"/>
<path d="M88.0 424.0L87.7 427.8A4.3 3.8 0 0 1 84.9 426.7Z" fill="#ad5910"/>
<path d="M88.0 424.0L85.0 426.7A4.3 3.8 0 0 1 83.7 424.3Z" fill="#ff8010"/>
<path d="M88.0 424.0L83.7 424.4A4.3 3.8 0 0 1 84.5 421.8Z" fill="#ff8010"/>
<path d="M88.0 424.0L84.4 421.9A4.3 3.8 0 0 1 86.9 420.3Z" fill="#ff8010"/>
<path d="M82.0 426.3L83.2 431.0A4.9 4.9 0 0 1 81.0 431.1Z" fill="#ffb020"/>
<path d="M82.0 426.3L81.2 431.1A4.9 4.9 0 0 1 79.2 430.3Z" fill="#ad791a"/>
<path d="M82.0 426.3L79.3 430.4A4.9 4.9 0 0 1 77.8 428.8Z" fill="#5c4315"/>
<path d="M82.0 426.3L77.9 428.9A4.9 4.9 0 0 1 77.2 426.9Z" fill="#0b0d10"/>
<path d="M82.0 426.3L77.2 427.0A4.9 4.9 0 0 1 77.4 424.9Z" fill="#5c4315"/>
<path d="M82.0 426.3L77.3 425.0A4.9 4.9 0 0 1 78.3 423.1Z" fill="#ad791a"/>
<path d="M82.0 426.3L78.3 423.2A4.9 4.9 0 0 1 80.0 421.9Z" fill="#ffb020"/>
<path d="M82.0 426.3L79.8 421.9A4.9 4.9 0 0 1 81.9 421.4Z" fill="#ad791a"/>
<path d="M82.0 426.3L81.8 421.4A4.9 4.9 0 0 1 83.9 421.8Z" fill="#5c4315"/>
<path d="M82.0 426.3L83.8 421.8A4.9 4.9 0 0 1 85.6 423.0Z" fill="#0b0d10"/>
<path d="M82.0 426.3L85.5 422.9A4.9 4.9 0 0 1 86.6 424.7Z" fill="#52230d"/>
<path d="M82.0 426.3L86.6 424.6A4.9 4.9 0 0 1 86.8 426.7Z" fill="#99390a"/>
<path d="M82.0 426.3L86.9 426.6A4.9 4.9 0 0 1 86.2 428.7Z" fill="#e05008"/>
<path d="M82.0 426.3L86.3 428.5A4.9 4.9 0 0 1 84.9 430.2Z" fill="#ea7010"/>
<path d="M82.0 426.3L85.0 430.1A4.9 4.9 0 0 1 83.1 431.0Z" fill="#f49018"/>
<path d="M69.3 426.3L69.2 420.9A7.6 5.4 0 0 1 72.5 421.4Z" fill="#ffe890"/>
<path d="M69.3 426.3L72.3 421.3A7.6 5.4 0 0 1 75.0 422.8Z" fill="#f7ca65"/>
<path d="M69.3 426.3L74.9 422.6A7.6 5.4 0 0 1 76.5 424.7Z" fill="#efad3a"/>
<path d="M69.3 426.3L76.5 424.6A7.6 5.4 0 0 1 76.8 427.0Z" fill="#e89010"/>
<path d="M69.3 426.3L76.8 426.8A7.6 5.4 0 0 1 75.8 429.1Z" fill="#dd880d"/>
<path d="M69.3 426.3L75.9 428.9A7.6 5.4 0 0 1 73.6 430.7Z" fill="#d2800a"/>
<path d="M69.3 426.3L73.8 430.6A7.6 5.4 0 0 1 70.7 431.6Z" fill="#c87808"/>
<path d="M69.3 426.3L71.0 431.6A7.6 5.4 0 0 1 67.6 431.6Z" fill="#d2800a"/>
<path d="M69.3 426.3L67.8 431.6A7.6 5.4 0 0 1 64.7 430.6Z" fill="#dd880d"/>
<path d="M69.3 426.3L64.9 430.7A7.6 5.4 0 0 1 62.7 428.9Z" fill="#e89010"/>
<path d="M69.3 426.3L62.8 429.1A7.6 5.4 0 0 1 61.8 426.8Z" fill="#a8670a"/>
<path d="M69.3 426.3L61.8 426.9A7.6 5.4 0 0 1 62.2 424.5Z" fill="#693e05"/>
<path d="M69.3 426.3L62.1 424.7A7.6 5.4 0 0 1 63.8 422.6Z" fill="#2a1600"/>
<path d="M69.3 426.3L63.6 422.7A7.6 5.4 0 0 1 66.3 421.3Z" fill="#715c30"/>
<path d="M69.3 426.3L66.1 421.4A7.6 5.4 0 0 1 69.4 420.9Z" fill="#b8a260"/>
<path d="M69.3 426.3L69.2 423.3A4.2 3.0 0 0 1 71.4 423.8Z" fill="#0b0d10"/>
<path d="M69.3 426.3L71.3 423.7A4.2 3.0 0 0 1 72.9 424.9Z" fill="#4a300d"/>
<path d="M69.3 426.3L72.9 424.8A4.2 3.0 0 0 1 73.5 426.4Z" fill="#89540a"/>
<path d="M69.3 426.3L73.5 426.3A4.2 3.0 0 0 1 72.9 427.8Z" fill="#c87808"/>
<path d="M69.3 426.3L72.9 427.8A4.2 3.0 0 0 1 71.3 428.9Z" fill="#da951a"/>
<path d="M69.3 426.3L71.4 428.9A4.2 3.0 0 0 1 69.2 429.3Z" fill="#ecb22d"/>
<path d="M69.3 426.3L69.4 429.3A4.2 3.0 0 0 1 67.2 428.8Z" fill="#ffd040"/>
<path d="M69.3 426.3L67.3 428.9A4.2 3.0 0 0 1 65.7 427.7Z" fill="#fac232"/>
<path d="M69.3 426.3L65.7 427.8A4.2 3.0 0 0 1 65.1 426.2Z" fill="#f5b525"/>
<path d="M69.3 426.3L65.1 426.3A4.2 3.0 0 0 1 65.7 424.8Z" fill="#f0a818"/>
<path d="M69.3 426.3L65.7 424.8A4.2 3.0 0 0 1 67.3 423.7Z" fill="#a37415"/>
<path d="M69.3 426.3L67.2 423.7A4.2 3.0 0 0 1 69.4 423.3Z" fill="#574012"/>
<path d="M69.3 426.3L76.4 424.5A7.6 5.4 0 0 1 76.8 425.6Z" fill="#0a0c10"/>
<path d="M69.3 426.3L70.7 431.6A7.6 5.4 0 0 1 69.2 431.7Z" fill="#0a0c10"/>
<path d="M69.3 426.3L63.3 423.0A7.6 5.4 0 0 1 64.4 422.2Z" fill="#0a0c10"/>
<path d="M69.3 426.3L63.5 422.8A7.6 5.4 0 0 1 64.6 422.1Z" fill="#0a0c10"/>
<path d="M70.7 437.8L71.8 435.8A3.2 2.2 0 0 1 73.5 436.8Z" fill="#ff3020"/>
<path d="M70.7 437.8L73.5 436.7A3.2 2.2 0 0 1 73.9 438.2Z" fill="#bf2815"/>
<path d="M70.7 437.8L73.9 438.2A3.2 2.2 0 0 1 72.7 439.5Z" fill="#7f200a"/>
<path d="M70.7 437.8L72.8 439.4A3.2 2.2 0 0 1 70.6 440.0Z" fill="#401800"/>
<path d="M70.7 437.8L70.7 440.0A3.2 2.2 0 0 1 68.6 439.4Z" fill="#7f3a05"/>
<path d="M70.7 437.8L68.6 439.5A3.2 2.2 0 0 1 67.5 438.1Z" fill="#bf5d0a"/>
<path d="M70.7 437.8L67.5 438.2A3.2 2.2 0 0 1 67.9 436.7Z" fill="#ff8010"/>
<path d="M70.7 437.8L67.9 436.7A3.2 2.2 0 0 1 69.7 435.8Z" fill="#ff6515"/>
<path d="M70.7 437.8L69.6 435.8A3.2 2.2 0 0 1 71.9 435.8Z" fill="#ff4a1a"/>
<path d="M120.6 430.0L123.0 432.2A3.2 3.2 0 0 1 120.9 433.2Z" fill="#d0c890"/>
<path d="M120.6 430.0L121.0 433.2A3.2 3.2 0 0 1 118.8 432.7Z" fill="#989268"/>
<path d="M120.6 430.0L118.8 432.7A3.2 3.2 0 0 1 117.5 430.9Z" fill="#605d41"/>
<path d="M120.6 430.0L117.5 431.0A3.2 3.2 0 0 1 117.7 428.7Z" fill="#28281a"/>
<path d="M120.6 430.0L117.6 428.7A3.2 3.2 0 0 1 119.2 427.1Z" fill="#6f6a3c"/>
<path d="M120.6 430.0L119.1 427.1A3.2 3.2 0 0 1 121.4 426.9Z" fill="#b7ad5e"/>
<path d="M120.6 430.0L121.3 426.8A3.2 3.2 0 0 1 123.2 428.1Z" fill="#fff080"/>
<path d="M120.6 430.0L123.2 428.0A3.2 3.2 0 0 1 123.8 430.3Z" fill="#efe285"/>
<path d="M120.6 430.0L123.8 430.2A3.2 3.2 0 0 1 122.9 432.3Z" fill="#dfd58a"/>
<path d="M186.4 383.5L181.7 377.1A7.6 8.1 0 0 1 183.9 375.9Z" fill="#20d0ff"/>
<path d="M186.4 383.5L183.7 375.9A7.6 8.1 0 0 1 186.1 375.4Z" fill="#1a9ab7"/>
<path d="M186.4 383.5L185.9 375.4A7.6 8.1 0 0 1 188.3 375.7Z" fill="#15656f"/>
<path d="M186.4 383.5L188.1 375.6A7.6 8.1 0 0 1 190.4 376.6Z" fill="#103028"/>
<path d="M186.4 383.5L190.2 376.5A7.6 8.1 0 0 1 192.1 378.2Z" fill="#5f756f"/>
<path d="M186.4 383.5L192.0 378.0A7.6 8.1 0 0 1 193.3 380.2Z" fill="#afbab7"/>
<path d="M186.4 383.5L193.2 380.0A7.6 8.1 0 0 1 193.9 382.6Z" fill="#ffffff"/>
<path d="M186.4 383.5L193.9 382.3A7.6 8.1 0 0 1 193.8 385.0Z" fill="#b4efff"/>
<path d="M186.4 383.5L193.9 384.8A7.6 8.1 0 0 1 193.1 387.3Z" fill="#6adfff"/>
<path d="M186.4 383.5L193.2 387.1A7.6 8.1 0 0 1 191.8 389.2Z" fill="#20d0ff"/>
<path d="M186.4 383.5L191.9 389.0A7.6 8.1 0 0 1 189.9 390.7Z" fill="#198faf"/>
<path d="M186.4 383.5L190.1 390.5A7.6 8.1 0 0 1 187.8 391.5Z" fill="#124e5f"/>
<path d="M186.4 383.5L188.0 391.4A7.6 8.1 0 0 1 185.6 391.6Z" fill="#0b0d10"/>
<path d="M186.4 383.5L185.8 391.6A7.6 8.1 0 0 1 183.4 390.9Z" fill="#174e35"/>
<path d="M186.4 383.5L183.6 391.0A7.6 8.1 0 0 1 181.5 389.6Z" fill="#238f5a"/>
<path d="M186.4 383.5L181.7 389.8A7.6 8.1 0 0 1 180.0 387.8Z" fill="#30d080"/>
<path d="M186.4 383.5L180.1 388.0A7.6 8.1 0 0 1 179.1 385.6Z" fill="#2ad0aa"/>
<path d="M186.4 383.5L179.2 385.8A7.6 8.1 0 0 1 178.8 383.2Z" fill="#25d0d4"/>
<path d="M186.4 383.5L178.8 383.5A7.6 8.1 0 0 1 179.3 380.8Z" fill="#20d0ff"/>
<path d="M186.4 383.5L179.2 381.1A7.6 8.1 0 0 1 180.3 378.7Z" fill="#20d0ff"/>
<path d="M186.4 383.5L180.2 378.9A7.6 8.1 0 0 1 181.9 377.0Z" fill="#20d0ff"/>
<path d="M186.4 383.5L183.8 380.0A4.2 4.5 0 0 1 185.9 379.1Z" fill="#20d0ff"/>
<path d="M186.4 383.5L185.8 379.1A4.2 4.5 0 0 1 188.1 379.4Z" fill="#60a0ea"/>
<path d="M186.4 383.5L187.9 379.4A4.2 4.5 0 0 1 189.7 380.8Z" fill="#a070d5"/>
<path d="M186.4 383.5L189.7 380.7A4.2 4.5 0 0 1 190.5 383.0Z" fill="#e040c0"/>
<path d="M186.4 383.5L190.5 382.9A4.2 4.5 0 0 1 190.2 385.3Z" fill="#992f85"/>
<path d="M186.4 383.5L190.3 385.2A4.2 4.5 0 0 1 188.9 387.1Z" fill="#521e4a"/>
<path d="M186.4 383.5L189.0 387.0A4.2 4.5 0 0 1 186.9 387.9Z" fill="#0b0d10"/>
<path d="M186.4 383.5L187.0 387.9A4.2 4.5 0 0 1 184.7 387.6Z" fill="#0c1818"/>
<path d="M186.4 383.5L184.9 387.6A4.2 4.5 0 0 1 183.1 386.2Z" fill="#0e2420"/>
<path d="M186.4 383.5L183.1 386.3A4.2 4.5 0 0 1 182.3 384.0Z" fill="#103028"/>
<path d="M186.4 383.5L182.3 384.1A4.2 4.5 0 0 1 182.6 381.7Z" fill="#15656f"/>
<path d="M186.4 383.5L182.5 381.8A4.2 4.5 0 0 1 183.9 379.9Z" fill="#1a9ab7"/>
<path d="M186.4 383.5L193.5 380.8A7.6 8.1 0 0 1 193.9 382.4Z" fill="#0a0c10"/>
<path d="M186.4 383.5L179.7 387.2A7.6 8.1 0 0 1 179.1 385.7Z" fill="#0a0c10"/>
<path d="M186.4 383.5L186.7 391.6A7.6 8.1 0 0 1 185.2 391.5Z" fill="#0a0c10"/>
<path d="M175.0 390.7L181.1 388.5A6.5 6.5 0 0 1 181.5 391.3Z" fill="#f8e8a0"/>
<path d="M175.0 390.7L181.5 391.1A6.5 6.5 0 0 1 180.6 393.9Z" fill="#faea95"/>
<path d="M175.0 390.7L180.7 393.7A6.5 6.5 0 0 1 178.9 395.9Z" fill="#fced8a"/>
<path d="M175.0 390.7L179.0 395.8A6.5 6.5 0 0 1 176.4 397.0Z" fill="#fff080"/>
<path d="M175.0 390.7L176.6 397.0A6.5 6.5 0 0 1 173.7 397.1Z" fill="#fff5aa"/>
<path d="M175.0 390.7L173.9 397.1A6.5 6.5 0 0 1 171.2 396.0Z" fill="#fffad4"/>
<path d="M175.0 390.7L171.4 396.1A6.5 6.5 0 0 1 169.4 394.0Z" fill="#ffffff"/>
<path d="M175.0 390.7L169.5 394.2A6.5 6.5 0 0 1 168.6 391.4Z" fill="#adaeaf"/>
<path d="M175.0 390.7L168.6 391.6A6.5 6.5 0 0 1 168.8 388.8Z" fill="#5c5d5f"/>
<path d="M175.0 390.7L168.8 388.9A6.5 6.5 0 0 1 170.1 386.4Z" fill="#0b0d10"/>
<path d="M175.0 390.7L170.0 386.6A6.5 6.5 0 0 1 172.3 384.8Z" fill="#5c5025"/>
<path d="M175.0 390.7L172.1 384.9A6.5 6.5 0 0 1 174.9 384.2Z" fill="#ad943a"/>
<path d="M175.0 390.7L174.7 384.2A6.5 6.5 0 0 1 177.6 384.8Z" fill="#ffd850"/>
<path d="M175.0 390.7L177.4 384.7A6.5 6.5 0 0 1 179.8 386.3Z" fill="#fcdd6a"/>
<path d="M175.0 390.7L179.6 386.2A6.5 6.5 0 0 1 181.1 388.6Z" fill="#fae285"/>
<path d="M175.0 390.7L178.3 389.5A3.6 3.6 0 0 1 178.5 391.4Z" fill="#fff080"/>
<path d="M175.0 390.7L178.5 391.3A3.6 3.6 0 0 1 177.7 393.1Z" fill="#fff5aa"/>
<path d="M175.0 390.7L177.7 393.0A3.6 3.6 0 0 1 176.1 394.1Z" fill="#fffad4"/>
<path d="M175.0 390.7L176.2 394.0A3.6 3.6 0 0 1 174.3 394.2Z" fill="#ffffff"/>
<path d="M175.0 390.7L174.4 394.2A3.6 3.6 0 0 1 172.6 393.4Z" fill="#fcf7df"/>
<path d="M175.0 390.7L172.7 393.4A3.6 3.6 0 0 1 171.6 391.8Z" fill="#faefbf"/>
<path d="M175.0 390.7L171.7 391.9A3.6 3.6 0 0 1 171.5 390.0Z" fill="#f8e8a0"/>
<path d="M175.0 390.7L171.5 390.1A3.6 3.6 0 0 1 172.3 388.3Z" fill="#a99f70"/>
<path d="M175.0 390.7L172.3 388.4A3.6 3.6 0 0 1 173.9 387.3Z" fill="#5a5640"/>
<path d="M175.0 390.7L173.8 387.4A3.6 3.6 0 0 1 175.7 387.2Z" fill="#0b0d10"/>
<path d="M175.0 390.7L175.6 387.2A3.6 3.6 0 0 1 177.4 388.0Z" fill="#5c5835"/>
<path d="M175.0 390.7L177.3 388.0A3.6 3.6 0 0 1 178.4 389.6Z" fill="#ada45a"/>
<path d="M175.0 390.7L176.9 396.9A6.5 6.5 0 0 1 175.7 397.1Z" fill="#0a0c10"/>
<path d="M175.0 390.7L169.7 394.5A6.5 6.5 0 0 1 169.1 393.3Z" fill="#0a0c10"/>
<path d="M173.5 409.2L173.2 415.7A6.5 6.5 0 0 1 170.4 414.9Z" fill="#80ffe8"/>
<path d="M173.5 409.2L170.5 415.0A6.5 6.5 0 0 1 168.3 413.1Z" fill="#5ab7ad"/>
<path d="M173.5 409.2L168.5 413.3A6.5 6.5 0 0 1 167.2 410.7Z" fill="#356f72"/>
<path d="M173.5 409.2L167.2 410.9A6.5 6.5 0 0 1 167.1 408.0Z" fill="#102838"/>
<path d="M173.5 409.2L167.1 408.2A6.5 6.5 0 0 1 168.2 405.5Z" fill="#155070"/>
<path d="M173.5 409.2L168.1 405.7A6.5 6.5 0 0 1 170.1 403.7Z" fill="#1a78a8"/>
<path d="M173.5 409.2L170.0 403.8A6.5 6.5 0 0 1 172.7 402.8Z" fill="#20a0e0"/>
<path d="M173.5 409.2L172.5 402.8A6.5 6.5 0 0 1 175.4 403.0Z" fill="#196f9a"/>
<path d="M173.5 409.2L175.2 402.9A6.5 6.5 0 0 1 177.7 404.3Z" fill="#123e55"/>
<path d="M173.5 409.2L177.6 404.2A6.5 6.5 0 0 1 179.4 406.4Z" fill="#0b0d10"/>
<path d="M173.5 409.2L179.3 406.3A6.5 6.5 0 0 1 180.0 409.1Z" fill="#57582a"/>
<path d="M173.5 409.2L180.0 408.9A6.5 6.5 0 0 1 179.5 411.7Z" fill="#a3a445"/>
<path d="M173.5 409.2L179.5 411.5A6.5 6.5 0 0 1 177.9 413.9Z" fill="#f0f060"/>
<path d="M173.5 409.2L178.1 413.8A6.5 6.5 0 0 1 175.6 415.3Z" fill="#caf58d"/>
<path d="M173.5 409.2L175.8 415.3A6.5 6.5 0 0 1 173.0 415.7Z" fill="#a5faba"/>
<path d="M173.5 409.2L173.3 412.8A3.6 3.6 0 0 1 171.5 412.1Z" fill="#ffffff"/>
<path d="M173.5 409.2L171.6 412.2A3.6 3.6 0 0 1 170.3 410.7Z" fill="#afb7bc"/>
<path d="M173.5 409.2L170.3 410.8A3.6 3.6 0 0 1 169.9 408.9Z" fill="#5f6f7a"/>
<path d="M173.5 409.2L169.9 409.0A3.6 3.6 0 0 1 170.6 407.2Z" fill="#102838"/>
<path d="M173.5 409.2L170.5 407.3A3.6 3.6 0 0 1 172.0 406.0Z" fill="#206565"/>
<path d="M173.5 409.2L171.9 406.0A3.6 3.6 0 0 1 173.8 405.6Z" fill="#30a292"/>
<path d="M173.5 409.2L173.7 405.6A3.6 3.6 0 0 1 175.5 406.3Z" fill="#40e0c0"/>
<path d="M173.5 409.2L175.4 406.2A3.6 3.6 0 0 1 176.7 407.7Z" fill="#7fead5"/>
<path d="M173.5 409.2L176.7 407.6A3.6 3.6 0 0 1 177.1 409.5Z" fill="#bff4ea"/>
<path d="M173.5 409.2L177.1 409.4A3.6 3.6 0 0 1 176.4 411.2Z" fill="#ffffff"/>
<path d="M173.5 409.2L176.5 411.1A3.6 3.6 0 0 1 175.0 412.4Z" fill="#ffffff"/>
<path d="M173.5 409.2L175.1 412.4A3.6 3.6 0 0 1 173.2 412.8Z" fill="#ffffff"/>
<path d="M173.5 409.2L171.4 415.3A6.5 6.5 0 0 1 170.2 414.8Z" fill="#0a0c10"/>
<path d="M173.5 409.2L176.0 415.2A6.5 6.5 0 0 1 174.8 415.5Z" fill="#0a0c10"/>
<path d="M173.5 409.2L168.1 412.8A6.5 6.5 0 0 1 167.5 411.7Z" fill="#0a0c10"/>
<path d="M182.8 405.6L178.7 402.1A4.9 6.5 0 0 1 180.3 400.1Z" fill="#30d080"/>
<path d="M182.8 405.6L180.1 400.2A4.9 6.5 0 0 1 182.2 399.2Z" fill="#238f5a"/>
<path d="M182.8 405.6L182.0 399.2A4.9 6.5 0 0 1 184.2 399.4Z" fill="#174e35"/>
<path d="M182.8 405.6L184.0 399.3A4.9 6.5 0 0 1 186.0 400.7Z" fill="#0b0d10"/>
<path d="M182.8 405.6L185.8 400.5A4.9 6.5 0 0 1 187.2 402.8Z" fill="#521e4a"/>
<path d="M182.8 405.6L187.1 402.6A4.9 6.5 0 0 1 187.7 405.4Z" fill="#992f85"/>
<path d="M182.8 405.6L187.7 405.2A4.9 6.5 0 0 1 187.3 408.1Z" fill="#e040c0"/>
<path d="M182.8 405.6L187.3 407.9A4.9 6.5 0 0 1 186.1 410.3Z" fill="#a070d5"/>
<path d="M182.8 405.6L186.3 410.2A4.9 6.5 0 0 1 184.4 411.7Z" fill="#60a0ea"/>
<path d="M182.8 405.6L184.6 411.6A4.9 6.5 0 0 1 182.4 412.1Z" fill="#20d0ff"/>
<path d="M182.8 405.6L182.6 412.1A4.9 6.5 0 0 1 180.5 411.3Z" fill="#6adfff"/>
<path d="M182.8 405.6L180.6 411.4A4.9 6.5 0 0 1 178.9 409.5Z" fill="#b4efff"/>
<path d="M182.8 405.6L179.0 409.7A4.9 6.5 0 0 1 178.1 407.1Z" fill="#ffffff"/>
<path d="M182.8 405.6L178.1 407.3A4.9 6.5 0 0 1 178.0 404.4Z" fill="#baefd4"/>
<path d="M182.8 405.6L178.0 404.6A4.9 6.5 0 0 1 178.8 401.9Z" fill="#75dfaa"/>
<path d="M182.8 405.6L180.6 403.7A2.7 3.6 0 0 1 181.6 402.4Z" fill="#f0f040"/>
<path d="M182.8 405.6L181.6 402.4A2.7 3.6 0 0 1 183.0 402.0Z" fill="#f5f57f"/>
<path d="M182.8 405.6L182.9 402.0A2.7 3.6 0 0 1 184.3 402.7Z" fill="#fafabf"/>
<path d="M182.8 405.6L184.2 402.6A2.7 3.6 0 0 1 185.2 404.1Z" fill="#ffffff"/>
<path d="M182.8 405.6L185.2 404.0A2.7 3.6 0 0 1 185.5 405.9Z" fill="#adaeaf"/>
<path d="M182.8 405.6L185.5 405.8A2.7 3.6 0 0 1 185.0 407.6Z" fill="#5c5d5f"/>
<path d="M182.8 405.6L185.0 407.5A2.7 3.6 0 0 1 184.0 408.8Z" fill="#0b0d10"/>
<path d="M182.8 405.6L184.0 408.8A2.7 3.6 0 0 1 182.6 409.2Z" fill="#5c5d5f"/>
<path d="M182.8 405.6L182.7 409.2A2.7 3.6 0 0 1 181.3 408.5Z" fill="#adaeaf"/>
<path d="M182.8 405.6L181.4 408.6A2.7 3.6 0 0 1 180.4 407.1Z" fill="#ffffff"/>
<path d="M182.8 405.6L180.4 407.2A2.7 3.6 0 0 1 180.1 405.3Z" fill="#fafabf"/>
<path d="M182.8 405.6L180.1 405.4A2.7 3.6 0 0 1 180.6 403.6Z" fill="#f5f57f"/>
<path d="M182.8 405.6L184.3 399.4A4.9 6.5 0 0 1 185.1 399.9Z" fill="#0a0c10"/>
<path d="M182.8 405.6L186.3 410.0A4.9 6.5 0 0 1 185.6 410.9Z" fill="#0a0c10"/>
<path d="M182.8 405.6L178.5 408.7A4.9 6.5 0 0 1 178.1 407.5Z" fill="#0a0c10"/>
<path d="M182.8 405.6L179.9 400.4A4.9 6.5 0 0 1 180.7 399.8Z" fill="#0a0c10"/>
<path d="M164.2 423.5L167.5 430.2A5.9 8.1 0 0 1 165.8 431.3Z" fill="#e0f040"/>
<path d="M164.2 423.5L165.9 431.2A5.9 8.1 0 0 1 164.0 431.6Z" fill="#eaf57f"/>
<path d="M164.2 423.5L164.2 431.6A5.9 8.1 0 0 1 162.3 431.2Z" fill="#f4fabf"/>
<path d="M164.2 423.5L162.4 431.2A5.9 8.1 0 0 1 160.7 430.0Z" fill="#ffffff"/>
<path d="M164.2 423.5L160.8 430.2A5.9 8.1 0 0 1 159.4 428.3Z" fill="#adaeaf"/>
<path d="M164.2 423.5L159.5 428.5A5.9 8.1 0 0 1 158.6 426.2Z" fill="#5c5d5f"/>
<path d="M164.2 423.5L158.7 426.4A5.9 8.1 0 0 1 158.3 423.8Z" fill="#0b0d10"/>
<path d="M164.2 423.5L158.3 424.1A5.9 8.1 0 0 1 158.5 421.4Z" fill="#124e50"/>
<path d="M164.2 423.5L158.4 421.7A5.9 8.1 0 0 1 159.2 419.2Z" fill="#198f90"/>
<path d="M164.2 423.5L159.1 419.4A5.9 8.1 0 0 1 160.3 417.4Z" fill="#20d0d0"/>
<path d="M164.2 423.5L160.2 417.6A5.9 8.1 0 0 1 161.8 416.1Z" fill="#60daa0"/>
<path d="M164.2 423.5L161.6 416.2A5.9 8.1 0 0 1 163.5 415.5Z" fill="#a0e570"/>
<path d="M164.2 423.5L163.3 415.5A5.9 8.1 0 0 1 165.3 415.5Z" fill="#e0f040"/>
<path d="M164.2 423.5L165.1 415.5A5.9 8.1 0 0 1 166.9 416.3Z" fill="#a0e570"/>
<path d="M164.2 423.5L166.8 416.2A5.9 8.1 0 0 1 168.4 417.7Z" fill="#60daa0"/>
<path d="M164.2 423.5L168.2 417.6A5.9 8.1 0 0 1 169.4 419.7Z" fill="#20d0d0"/>
<path d="M164.2 423.5L169.4 419.5A5.9 8.1 0 0 1 170.0 422.0Z" fill="#60daa0"/>
<path d="M164.2 423.5L170.0 421.7A5.9 8.1 0 0 1 170.1 424.4Z" fill="#a0e570"/>
<path d="M164.2 423.5L170.1 424.1A5.9 8.1 0 0 1 169.7 426.7Z" fill="#e0f040"/>
<path d="M164.2 423.5L169.7 426.5A5.9 8.1 0 0 1 168.7 428.8Z" fill="#e0f040"/>
<path d="M164.2 423.5L168.8 428.6A5.9 8.1 0 0 1 167.4 430.3Z" fill="#e0f040"/>
<path d="M164.2 423.5L166.0 427.2A3.3 4.5 0 0 1 164.3 428.0Z" fill="#106040"/>
<path d="M164.2 423.5L164.4 427.9A3.3 4.5 0 0 1 162.7 427.4Z" fill="#15784a"/>
<path d="M164.2 423.5L162.8 427.5A3.3 4.5 0 0 1 161.4 425.9Z" fill="#1a9055"/>
<path d="M164.2 423.5L161.5 426.0A3.3 4.5 0 0 1 160.9 423.7Z" fill="#20a860"/>
<path d="M164.2 423.5L160.9 423.8A3.3 4.5 0 0 1 161.3 421.4Z" fill="#20b585"/>
<path d="M164.2 423.5L161.3 421.6A3.3 4.5 0 0 1 162.4 419.7Z" fill="#20c2aa"/>
<path d="M164.2 423.5L162.4 419.8A3.3 4.5 0 0 1 164.1 419.0Z" fill="#20d0d0"/>
<path d="M164.2 423.5L164.0 419.1A3.3 4.5 0 0 1 165.7 419.6Z" fill="#20c2aa"/>
<path d="M164.2 423.5L165.6 419.5A3.3 4.5 0 0 1 167.0 421.1Z" fill="#20b585"/>
<path d="M164.2 423.5L166.9 421.0A3.3 4.5 0 0 1 167.5 423.3Z" fill="#20a860"/>
<path d="M164.2 423.5L167.5 423.2A3.3 4.5 0 0 1 167.1 425.6Z" fill="#1a9055"/>
<path d="M164.2 423.5L167.1 425.4A3.3 4.5 0 0 1 166.0 427.3Z" fill="#15784a"/>
<path d="M164.2 423.5L166.0 431.2A5.9 8.1 0 0 1 164.8 431.6Z" fill="#0a0c10"/>
<path d="M164.2 423.5L169.9 421.4A5.9 8.1 0 0 1 170.1 423.0Z" fill="#0a0c10"/>
<path d="M164.2 423.5L158.7 426.7A5.9 8.1 0 0 1 158.4 425.1Z" fill="#0a0c10"/>
<path d="M164.2 423.5L164.8 431.6A5.9 8.1 0 0 1 163.7 431.6Z" fill="#0a0c10"/>
<path d="M170.7 430.6L176.1 432.8A5.9 5.4 0 0 1 174.5 434.7Z" fill="#102838"/>
<path d="M170.7 430.6L174.7 434.6A5.9 5.4 0 0 1 172.4 435.8Z" fill="#5a6a45"/>
<path d="M170.7 430.6L172.5 435.7A5.9 5.4 0 0 1 169.9 436.0Z" fill="#a5ad52"/>
<path d="M170.7 430.6L170.1 436.0A5.9 5.4 0 0 1 167.6 435.2Z" fill="#f0f060"/>
<path d="M170.7 430.6L167.7 435.3A5.9 5.4 0 0 1 165.8 433.7Z" fill="#a3a445"/>
<path d="M170.7 430.6L165.9 433.8A5.9 5.4 0 0 1 164.9 431.6Z" fill="#57582a"/>
<path d="M170.7 430.6L164.9 431.7A5.9 5.4 0 0 1 164.9 429.3Z" fill="#0b0d10"/>
<path d="M170.7 430.6L164.9 429.5A5.9 5.4 0 0 1 166.0 427.3Z" fill="#57582a"/>
<path d="M170.7 430.6L165.9 427.4A5.9 5.4 0 0 1 167.9 425.8Z" fill="#a3a445"/>
<path d="M170.7 430.6L167.7 425.9A5.9 5.4 0 0 1 170.2 425.2Z" fill="#f0f060"/>
<path d="M170.7 430.6L170.1 425.2A5.9 5.4 0 0 1 172.7 425.5Z" fill="#aae595"/>
<path d="M170.7 430.6L172.5 425.5A5.9 5.4 0 0 1 174.8 426.7Z" fill="#65daca"/>
<path d="M170.7 430.6L174.7 426.6A5.9 5.4 0 0 1 176.2 428.5Z" fill="#20d0ff"/>
<path d="M170.7 430.6L176.1 428.4A5.9 5.4 0 0 1 176.6 430.8Z" fill="#1a98bc"/>
<path d="M170.7 430.6L176.6 430.6A5.9 5.4 0 0 1 176.1 432.9Z" fill="#15607a"/>
<path d="M212.7 413.5L210.1 408.0A6.5 5.9 0 0 1 213.0 407.6Z" fill="#20d0ff"/>
<path d="M212.7 413.5L212.8 407.6A6.5 5.9 0 0 1 215.6 408.2Z" fill="#65dabf"/>
<path d="M212.7 413.5L215.4 408.1A6.5 5.9 0 0 1 217.7 409.7Z" fill="#aae57f"/>
<path d="M212.7 413.5L217.6 409.6A6.5 5.9 0 0 1 218.9 411.9Z" fill="#f0f040"/>
<path d="M212.7 413.5L218.9 411.7A6.5 5.9 0 0 1 219.1 414.4Z" fill="#aae57f"/>
<path d="M212.7 413.5L219.1 414.2A6.5 5.9 0 0 1 218.2 416.7Z" fill="#65dabf"/>
<path d="M212.7 413.5L218.3 416.5A6.5 5.9 0 0 1 216.3 418.5Z" fill="#20d0ff"/>
<path d="M212.7 413.5L216.4 418.4A6.5 5.9 0 0 1 213.8 419.4Z" fill="#6adfff"/>
<path d="M212.7 413.5L214.0 419.3A6.5 5.9 0 0 1 211.1 419.3Z" fill="#b4efff"/>
<path d="M212.7 413.5L211.3 419.3A6.5 5.9 0 0 1 208.7 418.1Z" fill="#ffffff"/>
<path d="M212.7 413.5L208.8 418.3A6.5 5.9 0 0 1 207.0 416.2Z" fill="#baefd4"/>
<path d="M212.7 413.5L207.0 416.4A6.5 5.9 0 0 1 206.2 413.9Z" fill="#75dfaa"/>
<path d="M212.7 413.5L206.2 414.0A6.5 5.9 0 0 1 206.6 411.4Z" fill="#30d080"/>
<path d="M212.7 413.5L206.6 411.6A6.5 5.9 0 0 1 208.1 409.3Z" fill="#2ad0aa"/>
<path d="M212.7 413.5L207.9 409.5A6.5 5.9 0 0 1 210.3 408.0Z" fill="#25d0d4"/>
<path d="M212.7 413.5L211.3 410.5A3.6 3.3 0 0 1 213.2 410.3Z" fill="#f0f040"/>
<path d="M212.7 413.5L213.1 410.3A3.6 3.3 0 0 1 214.9 410.9Z" fill="#eab56a"/>
<path d="M212.7 413.5L214.8 410.9A3.6 3.3 0 0 1 216.0 412.3Z" fill="#e57a95"/>
<path d="M212.7 413.5L216.0 412.2A3.6 3.3 0 0 1 216.2 414.0Z" fill="#e040c0"/>
<path d="M212.7 413.5L216.2 413.9A3.6 3.3 0 0 1 215.5 415.5Z" fill="#aa7fc5"/>
<path d="M212.7 413.5L215.6 415.5A3.6 3.3 0 0 1 214.0 416.5Z" fill="#75bfca"/>
<path d="M212.7 413.5L214.1 416.5A3.6 3.3 0 0 1 212.2 416.7Z" fill="#40ffd0"/>
<path d="M212.7 413.5L212.3 416.7A3.6 3.3 0 0 1 210.5 416.1Z" fill="#30ba98"/>
<path d="M212.7 413.5L210.6 416.1A3.6 3.3 0 0 1 209.4 414.7Z" fill="#207560"/>
<path d="M212.7 413.5L209.4 414.8A3.6 3.3 0 0 1 209.2 413.0Z" fill="#103028"/>
<path d="M212.7 413.5L209.2 413.1A3.6 3.3 0 0 1 209.9 411.5Z" fill="#5a7030"/>
<path d="M212.7 413.5L209.8 411.5A3.6 3.3 0 0 1 211.4 410.5Z" fill="#a5b038"/>
<path d="M212.7 413.5L217.1 409.1A6.5 5.9 0 0 1 218.0 410.0Z" fill="#0a0c10"/>
<path d="M212.7 413.5L212.1 407.6A6.5 5.9 0 0 1 213.4 407.6Z" fill="#0a0c10"/>
<path d="M212.7 413.5L208.0 417.6A6.5 5.9 0 0 1 207.2 416.7Z" fill="#0a0c10"/>
<path d="M212.7 413.5L210.1 408.0A6.5 5.9 0 0 1 211.4 407.7Z" fill="#0a0c10"/>
<path d="M209.2 422.8L212.4 422.4A3.2 3.8 0 0 1 211.8 425.0Z" fill="#ffffff"/>
<path d="M209.2 422.8L211.9 424.9A3.2 3.8 0 0 1 210.0 426.5Z" fill="#bff4ff"/>
<path d="M209.2 422.8L210.1 426.4A3.2 3.8 0 0 1 207.8 426.2Z" fill="#7feaff"/>
<path d="M209.2 422.8L207.9 426.2A3.2 3.8 0 0 1 206.2 424.3Z" fill="#40e0ff"/>
<path d="M209.2 422.8L206.3 424.4A3.2 3.8 0 0 1 206.1 421.8Z" fill="#7fe5df"/>
<path d="M209.2 422.8L206.1 421.9A3.2 3.8 0 0 1 207.4 419.7Z" fill="#bfeabf"/>
<path d="M209.2 422.8L207.3 419.7A3.2 3.8 0 0 1 209.5 419.0Z" fill="#fff0a0"/>
<path d="M209.2 422.8L209.4 419.0A3.2 3.8 0 0 1 211.5 420.2Z" fill="#fff5bf"/>
<path d="M209.2 422.8L211.5 420.1A3.2 3.8 0 0 1 212.4 422.5Z" fill="#fffadf"/>
<path d="M201.3 427.8L191.8 427.8A9.5 9.0 0 0 1 192.1 425.5Z" fill="#6020e0"/>
<path d="M201.3 427.8L192.1 425.7A9.5 9.0 0 0 1 192.9 423.5Z" fill="#5522e5"/>
<path d="M201.3 427.8L192.8 423.8A9.5 9.0 0 0 1 194.2 421.8Z" fill="#4a25ea"/>
<path d="M201.3 427.8L194.0 422.0A9.5 9.0 0 0 1 195.9 420.4Z" fill="#4028f0"/>
<path d="M201.3 427.8L195.6 420.6A9.5 9.0 0 0 1 197.8 419.4Z" fill="#5028ed"/>
<path d="M201.3 427.8L197.5 419.5A9.5 9.0 0 0 1 199.9 418.9Z" fill="#6028ea"/>
<path d="M201.3 427.8L199.7 418.9A9.5 9.0 0 0 1 202.1 418.8Z" fill="#7028e8"/>
<path d="M201.3 427.8L201.9 418.8A9.5 9.0 0 0 1 204.3 419.3Z" fill="#9525da"/>
<path d="M201.3 427.8L204.0 419.2A9.5 9.0 0 0 1 206.3 420.1Z" fill="#ba22cd"/>
<path d="M201.3 427.8L206.1 420.0A9.5 9.0 0 0 1 208.0 421.4Z" fill="#e020c0"/>
<path d="M201.3 427.8L207.8 421.3A9.5 9.0 0 0 1 209.4 423.1Z" fill="#ea30b5"/>
<path d="M201.3 427.8L209.2 422.9A9.5 9.0 0 0 1 210.3 425.0Z" fill="#f440aa"/>
<path d="M201.3 427.8L210.2 424.7A9.5 9.0 0 0 1 210.8 427.0Z" fill="#ff50a0"/>
<path d="M201.3 427.8L210.7 426.8A9.5 9.0 0 0 1 210.7 429.1Z" fill="#cf40b0"/>
<path d="M201.3 427.8L210.7 428.8A9.5 9.0 0 0 1 210.1 431.1Z" fill="#9f30c0"/>
<path d="M201.3 427.8L210.2 430.9A9.5 9.0 0 0 1 209.1 433.0Z" fill="#7020d0"/>
<path d="M201.3 427.8L209.2 432.7A9.5 9.0 0 0 1 207.6 434.5Z" fill="#9a3a95"/>
<path d="M201.3 427.8L207.8 434.3A9.5 9.0 0 0 1 205.8 435.7Z" fill="#c5555a"/>
<path d="M201.3 427.8L206.1 435.6A9.5 9.0 0 0 1 203.8 436.5Z" fill="#f07020"/>
<path d="M201.3 427.8L204.0 436.4A9.5 9.0 0 0 1 201.6 436.8Z" fill="#ba5255"/>
<path d="M201.3 427.8L201.9 436.8A9.5 9.0 0 0 1 199.4 436.6Z" fill="#85358a"/>
<path d="M201.3 427.8L199.7 436.7A9.5 9.0 0 0 1 197.3 436.0Z" fill="#5018c0"/>
<path d="M201.3 427.8L197.5 436.1A9.5 9.0 0 0 1 195.4 434.9Z" fill="#451dca"/>
<path d="M201.3 427.8L195.6 435.0A9.5 9.0 0 0 1 193.8 433.4Z" fill="#3a22d5"/>
<path d="M201.3 427.8L194.0 433.6A9.5 9.0 0 0 1 192.7 431.6Z" fill="#3028e0"/>
<path d="M201.3 427.8L192.8 431.8A9.5 9.0 0 0 1 192.0 429.6Z" fill="#4025e0"/>
<path d="M201.3 427.8L192.1 429.9A9.5 9.0 0 0 1 191.8 427.5Z" fill="#5022e0"/>
<path d="M201.3 427.8L196.1 427.8A5.2 5.0 0 0 1 196.9 425.2Z" fill="#f07020"/>
<path d="M201.3 427.8L196.8 425.3A5.2 5.0 0 0 1 198.8 423.4Z" fill="#ba5255"/>
<path d="M201.3 427.8L198.7 423.5A5.2 5.0 0 0 1 201.5 422.9Z" fill="#85358a"/>
<path d="M201.3 427.8L201.3 422.9A5.2 5.0 0 0 1 204.0 423.6Z" fill="#5018c0"/>
<path d="M201.3 427.8L203.9 423.5A5.2 5.0 0 0 1 205.9 425.5Z" fill="#391485"/>
<path d="M201.3 427.8L205.8 425.3A5.2 5.0 0 0 1 206.5 427.9Z" fill="#22104a"/>
<path d="M201.3 427.8L206.5 427.8A5.2 5.0 0 0 1 205.7 430.4Z" fill="#0b0d10"/>
<path d="M201.3 427.8L205.8 430.3A5.2 5.0 0 0 1 203.8 432.2Z" fill="#572e15"/>
<path d="M201.3 427.8L203.9 432.1A5.2 5.0 0 0 1 201.1 432.7Z" fill="#a34f1a"/>
<path d="M201.3 427.8L201.3 432.8A5.2 5.0 0 0 1 198.6 432.0Z" fill="#f07020"/>
<path d="M201.3 427.8L198.7 432.1A5.2 5.0 0 0 1 196.7 430.1Z" fill="#f07020"/>
<path d="M201.3 427.8L196.8 430.3A5.2 5.0 0 0 1 196.1 427.7Z" fill="#f07020"/>
<path d="M201.3 427.8L207.0 435.0A9.5 9.0 0 0 1 205.4 435.9Z" fill="#0a0c10"/>
<path d="M201.3 427.8L192.9 423.5A9.5 9.0 0 0 1 194.0 422.1Z" fill="#0a0c10"/>
<path d="M238.5 409.0L224.1 410.7A14.5 12.0 0 0 1 224.0 408.9Z" fill="#ffb010"/>
<path d="M238.5 409.0L224.0 409.3A14.5 12.0 0 0 1 224.1 407.5Z" fill="#ffc015"/>
<path d="M238.5 409.0L224.1 407.9A14.5 12.0 0 0 1 224.4 406.2Z" fill="#ffd01a"/>
<path d="M238.5 409.0L224.3 406.5A14.5 12.0 0 0 1 224.9 404.8Z" fill="#ffe020"/>
<path d="M238.5 409.0L224.8 405.2A14.5 12.0 0 0 1 225.6 403.5Z" fill="#ffe535"/>
<path d="M238.5 409.0L225.4 403.9A14.5 12.0 0 0 1 226.4 402.3Z" fill="#ffea4a"/>
<path d="M238.5 409.0L226.2 402.6A14.5 12.0 0 0 1 227.5 401.2Z" fill="#fff060"/>
<path d="M238.5 409.0L227.2 401.5A14.5 12.0 0 0 1 228.6 400.2Z" fill="#ffe54a"/>
<path d="M238.5 409.0L228.3 400.5A14.5 12.0 0 0 1 229.9 399.3Z" fill="#ffda35"/>
<path d="M238.5 409.0L229.6 399.5A14.5 12.0 0 0 1 231.3 398.6Z" fill="#ffd020"/>
<path d="M238.5 409.0L231.0 398.8A14.5 12.0 0 0 1 232.8 397.9Z" fill="#ffba1a"/>
<path d="M238.5 409.0L232.4 398.1A14.5 12.0 0 0 1 234.4 397.5Z" fill="#ffa515"/>
<path d="M238.5 409.0L230.6 409.9A8.0 6.6 0 0 1 230.5 409.0Z" fill="#ffb010"/>
<path d="M238.5 409.0L230.5 409.2A8.0 6.6 0 0 1 230.6 408.2Z" fill="#ffc52a"/>
<path d="M238.5 409.0L230.6 408.4A8.0 6.6 0 0 1 230.8 407.4Z" fill="#ffda45"/>
<path d="M238.5 409.0L230.7 407.6A8.0 6.6 0 0 1 231.0 406.7Z" fill="#fff060"/>
<path d="M238.5 409.0L230.9 406.9A8.0 6.6 0 0 1 231.4 406.0Z" fill="#ffe54a"/>
<path d="M238.5 409.0L231.3 406.2A8.0 6.6 0 0 1 231.9 405.3Z" fill="#ffda35"/>
<path d="M238.5 409.0L231.7 405.5A8.0 6.6 0 0 1 232.4 404.7Z" fill="#ffd020"/>
<path d="M238.5 409.0L232.3 404.9A8.0 6.6 0 0 1 233.1 404.2Z" fill="#ad8f1a"/>
<path d="M238.5 409.0L232.9 404.3A8.0 6.6 0 0 1 233.8 403.7Z" fill="#5c4e15"/>
<path d="M238.5 409.0L233.6 403.8A8.0 6.6 0 0 1 234.6 403.3Z" fill="#0b0d10"/>
<path d="M238.5 409.0L234.4 403.4A8.0 6.6 0 0 1 235.4 402.9Z" fill="#5c582a"/>
<path d="M238.5 409.0L235.2 403.0A8.0 6.6 0 0 1 236.3 402.7Z" fill="#ada445"/>
<path d="M238.5 409.0L229.9 399.3A14.5 12.0 0 0 1 232.4 398.1Z" fill="#0a0c10"/>
<path d="M238.5 408.5L241.1 396.7A15.0 12.0 0 0 1 243.0 397.1Z" fill="#ffe020"/>
<path d="M238.5 408.5L242.6 397.0A15.0 12.0 0 0 1 244.5 397.5Z" fill="#f4a055"/>
<path d="M238.5 408.5L244.1 397.4A15.0 12.0 0 0 1 245.9 398.0Z" fill="#ea608a"/>
<path d="M238.5 408.5L245.5 397.9A15.0 12.0 0 0 1 247.2 398.7Z" fill="#e020c0"/>
<path d="M238.5 408.5L246.8 398.5A15.0 12.0 0 0 1 248.4 399.5Z" fill="#e525ba"/>
<path d="M238.5 408.5L248.0 399.2A15.0 12.0 0 0 1 249.5 400.3Z" fill="#ea2ab5"/>
<path d="M238.5 408.5L249.2 400.1A15.0 12.0 0 0 1 250.5 401.3Z" fill="#f030b0"/>
<path d="M238.5 408.5L250.2 401.0A15.0 12.0 0 0 1 251.4 402.3Z" fill="#ed2db8"/>
<path d="M238.5 408.5L251.1 402.0A15.0 12.0 0 0 1 252.1 403.4Z" fill="#ea2ac0"/>
<path d="M238.5 408.5L251.9 403.1A15.0 12.0 0 0 1 252.7 404.5Z" fill="#e828c8"/>
<path d="M238.5 408.5L252.5 404.2A15.0 12.0 0 0 1 253.1 405.7Z" fill="#c522c0"/>
<path d="M238.5 408.5L253.0 405.4A15.0 12.0 0 0 1 253.4 406.9Z" fill="#a21db8"/>
<path d="M238.5 408.5L253.3 406.6A15.0 12.0 0 0 1 253.5 408.2Z" fill="#8018b0"/>
<path d="M238.5 408.5L253.5 407.8A15.0 12.0 0 0 1 253.5 409.4Z" fill="#aa2580"/>
<path d="M238.5 408.5L253.5 409.1A15.0 12.0 0 0 1 253.3 410.6Z" fill="#d43250"/>
<path d="M238.5 408.5L253.3 410.3A15.0 12.0 0 0 1 252.9 411.8Z" fill="#ff4020"/>
<path d="M238.5 408.5L253.0 411.5A15.0 12.0 0 0 1 252.4 413.0Z" fill="#ff5520"/>
<path d="M238.5 408.5L252.6 412.7A15.0 12.0 0 0 1 251.7 414.1Z" fill="#ff6a20"/>
<path d="M238.5 408.5L251.9 413.8A15.0 12.0 0 0 1 250.9 415.2Z" fill="#ff8020"/>
<path d="M238.5 408.5L251.2 414.9A15.0 12.0 0 0 1 250.0 416.2Z" fill="#ff9a20"/>
<path d="M238.5 408.5L250.3 415.9A15.0 12.0 0 0 1 249.0 417.1Z" fill="#ffb520"/>
<path d="M238.5 408.5L239.9 402.0A8.2 6.6 0 0 1 241.6 402.4Z" fill="#ffe020"/>
<path d="M238.5 408.5L241.4 402.3A8.2 6.6 0 0 1 242.9 402.9Z" fill="#ffc020"/>
<path d="M238.5 408.5L242.7 402.8A8.2 6.6 0 0 1 244.1 403.7Z" fill="#ffa020"/>
<path d="M238.5 408.5L243.9 403.5A8.2 6.6 0 0 1 245.1 404.5Z" fill="#ff8020"/>
<path d="M238.5 408.5L244.9 404.4A8.2 6.6 0 0 1 245.9 405.5Z" fill="#ff6a20"/>
<path d="M238.5 408.5L245.8 405.4A8.2 6.6 0 0 1 246.4 406.6Z" fill="#ff5520"/>
<path d="M238.5 408.5L246.3 406.5A8.2 6.6 0 0 1 246.7 407.8Z" fill="#ff4020"/>
<path d="M238.5 408.5L246.7 407.6A8.2 6.6 0 0 1 246.7 409.0Z" fill="#f73858"/>
<path d="M238.5 408.5L246.7 408.8A8.2 6.6 0 0 1 246.5 410.2Z" fill="#ef3090"/>
<path d="M238.5 408.5L246.5 410.0A8.2 6.6 0 0 1 246.0 411.3Z" fill="#e828c8"/>
<path d="M238.5 408.5L246.1 411.1A8.2 6.6 0 0 1 245.2 412.3Z" fill="#ef6090"/>
<path d="M238.5 408.5L245.4 412.2A8.2 6.6 0 0 1 244.3 413.2Z" fill="#f79858"/>
<path d="M238.5 408.5L248.5 399.5A15.0 12.0 0 0 1 250.5 401.3Z" fill="#0a0c10"/>
<path d="M238.5 408.5L244.2 397.4A15.0 12.0 0 0 1 246.8 398.5Z" fill="#0a0c10"/>
<path d="M241.4 417.8L242.6 414.8A3.2 3.2 0 0 1 244.3 416.3Z" fill="#401800"/>
<path d="M241.4 417.8L244.2 416.2A3.2 3.2 0 0 1 244.6 418.5Z" fill="#2e1405"/>
<path d="M241.4 417.8L244.6 418.4A3.2 3.2 0 0 1 243.3 420.4Z" fill="#1c100a"/>
<path d="M241.4 417.8L243.4 420.3A3.2 3.2 0 0 1 241.2 421.0Z" fill="#0b0d10"/>
<path d="M241.4 417.8L241.3 421.0A3.2 3.2 0 0 1 239.2 420.2Z" fill="#1c100a"/>
<path d="M241.4 417.8L239.3 420.2A3.2 3.2 0 0 1 238.2 418.2Z" fill="#2e1405"/>
<path d="M241.4 417.8L238.2 418.3A3.2 3.2 0 0 1 238.7 416.0Z" fill="#401800"/>
<path d="M241.4 417.8L238.6 416.1A3.2 3.2 0 0 1 240.5 414.7Z" fill="#401800"/>
<path d="M241.4 417.8L240.4 414.7A3.2 3.2 0 0 1 242.7 414.8Z" fill="#401800"/>
<path d="M265.6 396.4L271.3 399.3A7.6 4.3 0 0 1 268.6 400.4Z" fill="#20d0ff"/>
<path d="M265.6 396.4L268.8 400.3A7.6 4.3 0 0 1 265.5 400.7Z" fill="#65daca"/>
<path d="M265.6 396.4L265.7 400.7A7.6 4.3 0 0 1 262.4 400.3Z" fill="#aae595"/>
<path d="M265.6 396.4L262.6 400.4A7.6 4.3 0 0 1 259.9 399.2Z" fill="#f0f060"/>
<path d="M265.6 396.4L260.0 399.3A7.6 4.3 0 0 1 258.4 397.7Z" fill="#a5ad52"/>
<path d="M265.6 396.4L258.4 397.8A7.6 4.3 0 0 1 258.1 395.9Z" fill="#5a6a45"/>
<path d="M265.6 396.4L258.1 396.0A7.6 4.3 0 0 1 259.1 394.2Z" fill="#102838"/>
<path d="M265.6 396.4L259.0 394.3A7.6 4.3 0 0 1 261.3 392.9Z" fill="#15607a"/>
<path d="M265.6 396.4L261.1 392.9A7.6 4.3 0 0 1 264.2 392.2Z" fill="#1a98bc"/>
<path d="M265.6 396.4L263.9 392.2A7.6 4.3 0 0 1 267.3 392.2Z" fill="#20d0ff"/>
<path d="M265.6 396.4L267.1 392.2A7.6 4.3 0 0 1 270.2 393.0Z" fill="#6adfff"/>
<path d="M265.6 396.4L270.0 392.9A7.6 4.3 0 0 1 272.2 394.3Z" fill="#b4efff"/>
<path d="M265.6 396.4L272.1 394.2A7.6 4.3 0 0 1 273.1 396.0Z" fill="#ffffff"/>
<path d="M265.6 396.4L273.1 395.9A7.6 4.3 0 0 1 272.7 397.8Z" fill="#b4efff"/>
<path d="M265.6 396.4L272.8 397.7A7.6 4.3 0 0 1 271.1 399.3Z" fill="#6adfff"/>
<path d="M265.6 396.4L268.7 398.0A4.2 2.4 0 0 1 266.8 398.7Z" fill="#20d0ff"/>
<path d="M265.6 396.4L266.9 398.7A4.2 2.4 0 0 1 264.7 398.7Z" fill="#1a98bc"/>
<path d="M265.6 396.4L264.8 398.7A4.2 2.4 0 0 1 262.8 398.1Z" fill="#15607a"/>
<path d="M265.6 396.4L262.9 398.2A4.2 2.4 0 0 1 261.6 397.1Z" fill="#102838"/>
<path d="M265.6 396.4L261.7 397.2A4.2 2.4 0 0 1 261.5 395.9Z" fill="#5a6a45"/>
<path d="M265.6 396.4L261.5 395.9A4.2 2.4 0 0 1 262.6 394.8Z" fill="#a5ad52"/>
<path d="M265.6 396.4L262.5 394.8A4.2 2.4 0 0 1 264.4 394.1Z" fill="#f0f060"/>
<path d="M265.6 396.4L264.3 394.1A4.2 2.4 0 0 1 266.5 394.1Z" fill="#aae595"/>
<path d="M265.6 396.4L266.4 394.1A4.2 2.4 0 0 1 268.4 394.7Z" fill="#65daca"/>
<path d="M265.6 396.4L268.3 394.6A4.2 2.4 0 0 1 269.6 395.7Z" fill="#20d0ff"/>
<path d="M265.6 396.4L269.5 395.6A4.2 2.4 0 0 1 269.7 396.9Z" fill="#20d0ff"/>
<path d="M265.6 396.4L269.7 396.9A4.2 2.4 0 0 1 268.6 398.0Z" fill="#20d0ff"/>
<path d="M265.6 396.4L268.7 392.5A7.6 4.3 0 0 1 270.0 392.9Z" fill="#0a0c10"/>
<path d="M265.6 396.4L272.6 394.7A7.6 4.3 0 0 1 273.0 395.6Z" fill="#0a0c10"/>
<path d="M265.6 396.4L271.1 393.4A7.6 4.3 0 0 1 272.0 394.1Z" fill="#0a0c10"/>
<path d="M267.0 396.0L269.9 394.6A3.2 3.2 0 0 1 270.1 396.9Z" fill="#f8e8a0"/>
<path d="M267.0 396.0L270.1 396.8A3.2 3.2 0 0 1 268.8 398.7Z" fill="#faea95"/>
<path d="M267.0 396.0L268.9 398.6A3.2 3.2 0 0 1 266.7 399.2Z" fill="#fced8a"/>
<path d="M267.0 396.0L266.8 399.2A3.2 3.2 0 0 1 264.7 398.3Z" fill="#fff080"/>
<path d="M267.0 396.0L264.7 398.3A3.2 3.2 0 0 1 263.8 396.2Z" fill="#b7ad5e"/>
<path d="M267.0 396.0L263.8 396.3A3.2 3.2 0 0 1 264.4 394.1Z" fill="#6f6a3c"/>
<path d="M267.0 396.0L264.3 394.2A3.2 3.2 0 0 1 266.2 392.9Z" fill="#28281a"/>
<path d="M267.0 396.0L266.1 392.9A3.2 3.2 0 0 1 268.4 393.1Z" fill="#6d6846"/>
<path d="M267.0 396.0L268.3 393.0A3.2 3.2 0 0 1 270.0 394.7Z" fill="#b2a873"/>
<path d="M263.5 403.5L258.3 402.6A5.4 3.2 0 0 1 259.4 401.4Z" fill="#e8f0f0"/>
<path d="M263.5 403.5L259.3 401.4A5.4 3.2 0 0 1 261.2 400.6Z" fill="#9ea4a5"/>
<path d="M263.5 403.5L261.1 400.6A5.4 3.2 0 0 1 263.4 400.3Z" fill="#54585a"/>
<path d="M263.5 403.5L263.3 400.3A5.4 3.2 0 0 1 265.6 400.5Z" fill="#0b0d10"/>
<path d="M263.5 403.5L265.5 400.5A5.4 3.2 0 0 1 267.5 401.3Z" fill="#5c5025"/>
<path d="M263.5 403.5L267.3 401.2A5.4 3.2 0 0 1 268.6 402.5Z" fill="#ad943a"/>
<path d="M263.5 403.5L268.6 402.4A5.4 3.2 0 0 1 268.9 403.8Z" fill="#ffd850"/>
<path d="M263.5 403.5L268.9 403.7A5.4 3.2 0 0 1 268.2 405.1Z" fill="#f7e085"/>
<path d="M263.5 403.5L268.3 405.0A5.4 3.2 0 0 1 266.7 406.1Z" fill="#efe8ba"/>
<path d="M263.5 403.5L266.9 406.0A5.4 3.2 0 0 1 264.7 406.7Z" fill="#e8f0f0"/>
<path d="M263.5 403.5L264.9 406.6A5.4 3.2 0 0 1 262.5 406.7Z" fill="#efe8ba"/>
<path d="M263.5 403.5L262.6 406.7A5.4 3.2 0 0 1 260.4 406.2Z" fill="#f7e085"/>
<path d="M263.5 403.5L260.5 406.2A5.4 3.2 0 0 1 258.9 405.2Z" fill="#ffd850"/>
<path d="M263.5 403.5L259.0 405.2A5.4 3.2 0 0 1 258.1 403.9Z" fill="#f7e085"/>
<path d="M263.5 403.5L258.2 404.0A5.4 3.2 0 0 1 258.3 402.5Z" fill="#efe8ba"/>
<path d="M300.6 401.4L294.5 394.6A9.2 9.2 0 0 1 297.0 393.0Z" fill="#40e0ff"/>
<path d="M300.6 401.4L296.7 393.1A9.2 9.2 0 0 1 299.6 392.3Z" fill="#75a5d4"/>
<path d="M300.6 401.4L299.4 392.3A9.2 9.2 0 0 1 302.4 392.4Z" fill="#aa6aaa"/>
<path d="M300.6 401.4L302.1 392.3A9.2 9.2 0 0 1 305.0 393.3Z" fill="#e03080"/>
<path d="M300.6 401.4L304.7 393.2A9.2 9.2 0 0 1 307.1 395.0Z" fill="#ea40a0"/>
<path d="M300.6 401.4L306.9 394.8A9.2 9.2 0 0 1 308.7 397.2Z" fill="#f450c0"/>
<path d="M300.6 401.4L308.6 396.9A9.2 9.2 0 0 1 309.6 399.8Z" fill="#ff60e0"/>
<path d="M300.6 401.4L309.6 399.5A9.2 9.2 0 0 1 309.7 402.5Z" fill="#b74aa5"/>
<path d="M300.6 401.4L309.7 402.2A9.2 9.2 0 0 1 309.0 405.1Z" fill="#6f356a"/>
<path d="M300.6 401.4L309.1 404.9A9.2 9.2 0 0 1 307.5 407.4Z" fill="#282030"/>
<path d="M300.6 401.4L307.7 407.2A9.2 9.2 0 0 1 305.4 409.2Z" fill="#6f6a75"/>
<path d="M300.6 401.4L305.7 409.1A9.2 9.2 0 0 1 302.9 410.3Z" fill="#b7b4ba"/>
<path d="M300.6 401.4L303.2 410.2A9.2 9.2 0 0 1 300.2 410.6Z" fill="#ffffff"/>
<path d="M300.6 401.4L300.5 410.6A9.2 9.2 0 0 1 297.5 410.0Z" fill="#bff4ff"/>
<path d="M300.6 401.4L297.8 410.1A9.2 9.2 0 0 1 295.1 408.7Z" fill="#7feaff"/>
<path d="M300.6 401.4L295.3 408.9A9.2 9.2 0 0 1 293.2 406.8Z" fill="#40e0ff"/>
<path d="M300.6 401.4L293.3 407.0A9.2 9.2 0 0 1 291.9 404.4Z" fill="#7feaff"/>
<path d="M300.6 401.4L292.0 404.6A9.2 9.2 0 0 1 291.4 401.7Z" fill="#bff4ff"/>
<path d="M300.6 401.4L291.4 401.9A9.2 9.2 0 0 1 291.8 399.0Z" fill="#ffffff"/>
<path d="M300.6 401.4L291.7 399.2A9.2 9.2 0 0 1 292.9 396.5Z" fill="#bff4ff"/>
<path d="M300.6 401.4L292.7 396.7A9.2 9.2 0 0 1 294.7 394.4Z" fill="#7feaff"/>
<path d="M300.6 401.4L297.2 397.6A5.0 5.0 0 0 1 299.7 396.4Z" fill="#f0f0ff"/>
<path d="M300.6 401.4L299.6 396.5A5.0 5.0 0 0 1 302.3 396.6Z" fill="#eab0d4"/>
<path d="M300.6 401.4L302.2 396.6A5.0 5.0 0 0 1 304.5 398.1Z" fill="#e570aa"/>
<path d="M300.6 401.4L304.4 398.0A5.0 5.0 0 0 1 305.6 400.5Z" fill="#e03080"/>
<path d="M300.6 401.4L305.5 400.4A5.0 5.0 0 0 1 305.4 403.1Z" fill="#ea708a"/>
<path d="M300.6 401.4L305.4 403.0A5.0 5.0 0 0 1 303.9 405.3Z" fill="#f4b095"/>
<path d="M300.6 401.4L304.0 405.2A5.0 5.0 0 0 1 301.5 406.4Z" fill="#fff0a0"/>
<path d="M300.6 401.4L301.6 406.3A5.0 5.0 0 0 1 298.9 406.2Z" fill="#b7aa7a"/>
<path d="M300.6 401.4L299.0 406.2A5.0 5.0 0 0 1 296.7 404.7Z" fill="#6f6555"/>
<path d="M300.6 401.4L296.8 404.8A5.0 5.0 0 0 1 295.6 402.3Z" fill="#282030"/>
<path d="M300.6 401.4L295.7 402.4A5.0 5.0 0 0 1 295.8 399.7Z" fill="#6a6575"/>
<path d="M300.6 401.4L295.8 399.8A5.0 5.0 0 0 1 297.3 397.5Z" fill="#adaaba"/>
<path d="M300.6 401.4L302.2 410.4A9.2 9.2 0 0 1 300.4 410.6Z" fill="#0a0c10"/>
<path d="M300.6 401.4L305.9 408.9A9.2 9.2 0 0 1 304.3 409.8Z" fill="#0a0c10"/>
<path d="M300.6 419.2L304.0 417.7A3.8 3.2 0 0 1 304.3 420.0Z" fill="#e8f0f0"/>
<path d="M300.6 419.2L304.3 419.9A3.8 3.2 0 0 1 302.8 421.8Z" fill="#a8ada8"/>
<path d="M300.6 419.2L302.9 421.8A3.8 3.2 0 0 1 300.3 422.4Z" fill="#686a61"/>
<path d="M300.6 419.2L300.4 422.4A3.8 3.2 0 0 1 298.0 421.5Z" fill="#28281a"/>
<path d="M300.6 419.2L298.0 421.6A3.8 3.2 0 0 1 296.8 419.5Z" fill="#6f6a3c"/>
<path d="M300.6 419.2L296.9 419.6A3.8 3.2 0 0 1 297.5 417.4Z" fill="#b7ad5e"/>
<path d="M300.6 419.2L297.4 417.5A3.8 3.2 0 0 1 299.6 416.1Z" fill="#fff080"/>
<path d="M300.6 419.2L299.5 416.1A3.8 3.2 0 0 1 302.2 416.2Z" fill="#f7f0a5"/>
<path d="M300.6 419.2L302.1 416.2A3.8 3.2 0 0 1 304.0 417.8Z" fill="#eff0ca"/>
<path d="M257.0 426.3L262.2 423.4A6.5 4.9 0 0 1 263.4 425.4Z" fill="#d0c890"/>
<path d="M257.0 426.3L263.3 425.2A6.5 4.9 0 0 1 263.3 427.4Z" fill="#dfd58a"/>
<path d="M257.0 426.3L263.4 427.2A6.5 4.9 0 0 1 262.2 429.2Z" fill="#efe285"/>
<path d="M257.0 426.3L262.3 429.1A6.5 4.9 0 0 1 260.1 430.5Z" fill="#fff080"/>
<path d="M257.0 426.3L260.3 430.5A6.5 4.9 0 0 1 257.6 431.1Z" fill="#b7ad5e"/>
<path d="M257.0 426.3L257.8 431.1A6.5 4.9 0 0 1 254.9 430.9Z" fill="#6f6a3c"/>
<path d="M257.0 426.3L255.1 430.9A6.5 4.9 0 0 1 252.6 429.9Z" fill="#28281a"/>
<path d="M257.0 426.3L252.7 430.0A6.5 4.9 0 0 1 251.0 428.2Z" fill="#6f622c"/>
<path d="M257.0 426.3L251.1 428.3A6.5 4.9 0 0 1 250.5 426.2Z" fill="#b79d3e"/>
<path d="M257.0 426.3L250.5 426.4A6.5 4.9 0 0 1 251.1 424.3Z" fill="#ffd850"/>
<path d="M257.0 426.3L251.0 424.4A6.5 4.9 0 0 1 252.7 422.6Z" fill="#fcdd6a"/>
<path d="M257.0 426.3L252.6 422.7A6.5 4.9 0 0 1 255.1 421.7Z" fill="#fae285"/>
<path d="M257.0 426.3L254.9 421.7A6.5 4.9 0 0 1 257.8 421.5Z" fill="#f8e8a0"/>
<path d="M257.0 426.3L257.6 421.5A6.5 4.9 0 0 1 260.3 422.1Z" fill="#eadd9a"/>
<path d="M257.0 426.3L260.2 422.1A6.5 4.9 0 0 1 262.3 423.5Z" fill="#ddd295"/>
<path d="M257.0 426.3L259.9 424.7A3.6 2.7 0 0 1 260.6 426.1Z" fill="#d0c890"/>
<path d="M257.0 426.3L260.5 426.0A3.6 2.7 0 0 1 260.2 427.4Z" fill="#dfd58a"/>
<path d="M257.0 426.3L260.3 427.4A3.6 2.7 0 0 1 259.0 428.5Z" fill="#efe285"/>
<path d="M257.0 426.3L259.1 428.4A3.6 2.7 0 0 1 257.3 429.0Z" fill="#fff080"/>
<path d="M257.0 426.3L257.4 429.0A3.6 2.7 0 0 1 255.5 428.7Z" fill="#f7f0a5"/>
<path d="M257.0 426.3L255.6 428.8A3.6 2.7 0 0 1 254.1 427.8Z" fill="#eff0ca"/>
<path d="M257.0 426.3L254.1 427.9A3.6 2.7 0 0 1 253.4 426.5Z" fill="#e8f0f0"/>
<path d="M257.0 426.3L253.5 426.6A3.6 2.7 0 0 1 253.8 425.2Z" fill="#a8ada8"/>
<path d="M257.0 426.3L253.7 425.2A3.6 2.7 0 0 1 255.0 424.1Z" fill="#686a61"/>
<path d="M257.0 426.3L254.9 424.2A3.6 2.7 0 0 1 256.7 423.6Z" fill="#28281a"/>
<path d="M257.0 426.3L256.6 423.6A3.6 2.7 0 0 1 258.5 423.9Z" fill="#605d41"/>
<path d="M257.0 426.3L258.4 423.8A3.6 2.7 0 0 1 259.9 424.8Z" fill="#989268"/>
<path d="M257.0 426.3L254.1 430.7A6.5 4.9 0 0 1 253.0 430.1Z" fill="#0a0c10"/>
<path d="M257.0 426.3L255.5 431.0A6.5 4.9 0 0 1 254.2 430.7Z" fill="#0a0c10"/>
<path d="M307.7 430.6L303.3 433.8A5.4 5.4 0 0 1 302.4 431.5Z" fill="#f8e8a0"/>
<path d="M307.7 430.6L302.4 431.7A5.4 5.4 0 0 1 302.5 429.3Z" fill="#eadd9a"/>
<path d="M307.7 430.6L302.4 429.5A5.4 5.4 0 0 1 303.4 427.3Z" fill="#ddd295"/>
<path d="M307.7 430.6L303.3 427.4A5.4 5.4 0 0 1 305.2 425.8Z" fill="#d0c890"/>
<path d="M307.7 430.6L305.0 425.9A5.4 5.4 0 0 1 307.3 425.2Z" fill="#dfcd7a"/>
<path d="M307.7 430.6L307.2 425.2A5.4 5.4 0 0 1 309.5 425.5Z" fill="#efd265"/>
<path d="M307.7 430.6L309.4 425.5A5.4 5.4 0 0 1 311.4 426.7Z" fill="#ffd850"/>
<path d="M307.7 430.6L311.3 426.6A5.4 5.4 0 0 1 312.7 428.6Z" fill="#f7e085"/>
<path d="M307.7 430.6L312.6 428.4A5.4 5.4 0 0 1 313.1 430.8Z" fill="#efe8ba"/>
<path d="M307.7 430.6L313.1 430.6A5.4 5.4 0 0 1 312.6 433.0Z" fill="#e8f0f0"/>
<path d="M307.7 430.6L312.6 432.8A5.4 5.4 0 0 1 311.2 434.7Z" fill="#efe8ba"/>
<path d="M307.7 430.6L311.3 434.6A5.4 5.4 0 0 1 309.2 435.8Z" fill="#f7e085"/>
<path d="M307.7 430.6L309.3 435.7A5.4 5.4 0 0 1 307.0 435.9Z" fill="#ffd850"/>
<path d="M307.7 430.6L307.1 436.0A5.4 5.4 0 0 1 304.8 435.2Z" fill="#fcdd6a"/>
<path d="M307.7 430.6L305.0 435.3A5.4 5.4 0 0 1 303.2 433.6Z" fill="#fae285"/>
<path d="M294.2 436.0L287.8 435.3A6.5 5.9 0 0 1 288.7 432.8Z" fill="#80ffe8"/>
<path d="M294.2 436.0L288.6 432.9A6.5 5.9 0 0 1 290.6 431.0Z" fill="#aaffef"/>
<path d="M294.2 436.0L290.5 431.1A6.5 5.9 0 0 1 293.1 430.1Z" fill="#d4fff7"/>
<path d="M294.2 436.0L293.0 430.2A6.5 5.9 0 0 1 295.8 430.3Z" fill="#ffffff"/>
<path d="M294.2 436.0L295.6 430.2A6.5 5.9 0 0 1 298.2 431.4Z" fill="#b4dff4"/>
<path d="M294.2 436.0L298.1 431.2A6.5 5.9 0 0 1 300.0 433.3Z" fill="#6abfea"/>
<path d="M294.2 436.0L299.9 433.1A6.5 5.9 0 0 1 300.7 435.6Z" fill="#20a0e0"/>
<path d="M294.2 436.0L300.7 435.5A6.5 5.9 0 0 1 300.3 438.1Z" fill="#6abfea"/>
<path d="M294.2 436.0L300.3 437.9A6.5 5.9 0 0 1 298.8 440.2Z" fill="#b4dff4"/>
<path d="M294.2 436.0L298.9 440.0A6.5 5.9 0 0 1 296.6 441.5Z" fill="#ffffff"/>
<path d="M294.2 436.0L296.7 441.5A6.5 5.9 0 0 1 293.9 441.9Z" fill="#b4efff"/>
<path d="M294.2 436.0L294.1 441.9A6.5 5.9 0 0 1 291.3 441.3Z" fill="#6adfff"/>
<path d="M294.2 436.0L291.5 441.4A6.5 5.9 0 0 1 289.2 439.8Z" fill="#20d0ff"/>
<path d="M294.2 436.0L289.3 439.9A6.5 5.9 0 0 1 288.0 437.6Z" fill="#40dff7"/>
<path d="M294.2 436.0L288.0 437.7A6.5 5.9 0 0 1 287.8 435.1Z" fill="#60efef"/>
<path d="M294.2 436.0L290.7 435.6A3.6 3.3 0 0 1 291.4 434.0Z" fill="#40e0c0"/>
<path d="M294.2 436.0L291.3 434.0A3.6 3.3 0 0 1 292.9 433.0Z" fill="#35caca"/>
<path d="M294.2 436.0L292.8 433.0A3.6 3.3 0 0 1 294.7 432.8Z" fill="#2ab5d5"/>
<path d="M294.2 436.0L294.6 432.8A3.6 3.3 0 0 1 296.4 433.4Z" fill="#20a0e0"/>
<path d="M294.2 436.0L296.3 433.4A3.6 3.3 0 0 1 297.5 434.8Z" fill="#196f9a"/>
<path d="M294.2 436.0L297.5 434.7A3.6 3.3 0 0 1 297.7 436.5Z" fill="#123e55"/>
<path d="M294.2 436.0L297.7 436.4A3.6 3.3 0 0 1 297.0 438.0Z" fill="#0b0d10"/>
<path d="M294.2 436.0L297.1 438.0A3.6 3.3 0 0 1 295.5 439.0Z" fill="#57582a"/>
<path d="M294.2 436.0L295.6 439.0A3.6 3.3 0 0 1 293.7 439.2Z" fill="#a3a445"/>
<path d="M294.2 436.0L293.8 439.2A3.6 3.3 0 0 1 292.0 438.6Z" fill="#f0f060"/>
<path d="M294.2 436.0L292.1 438.6A3.6 3.3 0 0 1 290.9 437.2Z" fill="#b5ea80"/>
<path d="M294.2 436.0L290.9 437.3A3.6 3.3 0 0 1 290.7 435.5Z" fill="#7ae5a0"/>
<path d="M294.2 436.0L289.4 432.1A6.5 5.9 0 0 1 290.3 431.3Z" fill="#0a0c10"/>
<path d="M294.2 436.0L299.4 432.5A6.5 5.9 0 0 1 300.1 433.5Z" fill="#0a0c10"/>
<path d="M294.2 436.0L300.4 434.1A6.5 5.9 0 0 1 300.6 435.3Z" fill="#0a0c10"/>
<path d="M294.2 436.0L296.3 441.6A6.5 5.9 0 0 1 295.0 441.9Z" fill="#0a0c10"/>
<path d="M292.0 437.0L295.0 438.3A3.2 3.2 0 0 1 293.4 439.9Z" fill="#2040ff"/>
<path d="M292.0 437.0L293.5 439.9A3.2 3.2 0 0 1 291.2 440.1Z" fill="#192faf"/>
<path d="M292.0 437.0L291.3 440.2A3.2 3.2 0 0 1 289.4 438.9Z" fill="#121e5f"/>
<path d="M292.0 437.0L289.4 439.0A3.2 3.2 0 0 1 288.8 436.7Z" fill="#0b0d10"/>
<path d="M292.0 437.0L288.8 436.8A3.2 3.2 0 0 1 289.7 434.7Z" fill="#5c2815"/>
<path d="M292.0 437.0L289.6 434.8A3.2 3.2 0 0 1 291.7 433.8Z" fill="#ad441a"/>
<path d="M292.0 437.0L291.6 433.8A3.2 3.2 0 0 1 293.8 434.3Z" fill="#ff6020"/>
<path d="M292.0 437.0L293.8 434.3A3.2 3.2 0 0 1 295.1 436.1Z" fill="#b4556a"/>
<path d="M292.0 437.0L295.1 436.0A3.2 3.2 0 0 1 294.9 438.3Z" fill="#6a4ab4"/>
<path d="M279.5 439.4L285.0 436.5A6.5 5.4 0 0 1 285.9 438.8Z" fill="#e020a0"/>
<path d="M279.5 439.4L285.9 438.7A6.5 5.4 0 0 1 285.7 441.0Z" fill="#a02abf"/>
<path d="M279.5 439.4L285.7 440.9A6.5 5.4 0 0 1 284.3 443.0Z" fill="#6035df"/>
<path d="M279.5 439.4L284.5 442.9A6.5 5.4 0 0 1 282.2 444.3Z" fill="#2040ff"/>
<path d="M279.5 439.4L282.3 444.3A6.5 5.4 0 0 1 279.5 444.8Z" fill="#192faf"/>
<path d="M279.5 439.4L279.7 444.8A6.5 5.4 0 0 1 276.9 444.3Z" fill="#121e5f"/>
<path d="M279.5 439.4L277.1 444.4A6.5 5.4 0 0 1 274.7 443.0Z" fill="#0b0d10"/>
<path d="M279.5 439.4L274.8 443.1A6.5 5.4 0 0 1 273.3 441.1Z" fill="#121e5f"/>
<path d="M279.5 439.4L273.4 441.2A6.5 5.4 0 0 1 273.1 438.9Z" fill="#192faf"/>
<path d="M279.5 439.4L273.0 439.0A6.5 5.4 0 0 1 273.9 436.7Z" fill="#2040ff"/>
<path d="M279.5 439.4L273.8 436.9A6.5 5.4 0 0 1 275.7 435.0Z" fill="#6a4ab4"/>
<path d="M279.5 439.4L275.5 435.1A6.5 5.4 0 0 1 278.1 434.1Z" fill="#b4556a"/>
<path d="M279.5 439.4L277.9 434.2A6.5 5.4 0 0 1 280.8 434.1Z" fill="#ff6020"/>
<path d="M279.5 439.4L280.6 434.1A6.5 5.4 0 0 1 283.3 435.0Z" fill="#f44a4a"/>
<path d="M279.5 439.4L283.1 434.9A6.5 5.4 0 0 1 285.1 436.7Z" fill="#ea3575"/>
<path d="M279.5 439.4L282.5 437.8A3.6 3.0 0 0 1 283.1 439.4Z" fill="#ff2020"/>
<path d="M279.5 439.4L283.1 439.3A3.6 3.0 0 0 1 282.6 440.9Z" fill="#f4204a"/>
<path d="M279.5 439.4L282.6 440.8A3.6 3.0 0 0 1 281.3 442.0Z" fill="#ea2075"/>
<path d="M279.5 439.4L281.4 441.9A3.6 3.0 0 0 1 279.5 442.4Z" fill="#e020a0"/>
<path d="M279.5 439.4L279.6 442.4A3.6 3.0 0 0 1 277.7 442.0Z" fill="#ea2075"/>
<path d="M279.5 439.4L277.8 442.0A3.6 3.0 0 0 1 276.4 440.9Z" fill="#f4204a"/>
<path d="M279.5 439.4L276.5 441.0A3.6 3.0 0 0 1 275.9 439.4Z" fill="#ff2020"/>
<path d="M279.5 439.4L275.9 439.5A3.6 3.0 0 0 1 276.4 437.9Z" fill="#ff6020"/>
<path d="M279.5 439.4L276.4 438.0A3.6 3.0 0 0 1 277.7 436.8Z" fill="#ffa020"/>
<path d="M279.5 439.4L277.6 436.9A3.6 3.0 0 0 1 279.5 436.4Z" fill="#ffe020"/>
<path d="M279.5 439.4L279.4 436.4A3.6 3.0 0 0 1 281.3 436.8Z" fill="#ffa020"/>
<path d="M279.5 439.4L281.2 436.8A3.6 3.0 0 0 1 282.6 437.9Z" fill="#ff6020"/>
<path d="M279.5 439.4L281.9 434.4A6.5 5.4 0 0 1 283.1 434.9Z" fill="#0a0c10"/>
<path d="M279.5 439.4L280.4 434.0A6.5 5.4 0 0 1 281.6 434.3Z" fill="#0a0c10"/>
<path d="M279.5 439.4L273.0 439.5A6.5 5.4 0 0 1 273.1 438.4Z" fill="#0a0c10"/>
<path d="M281.0 439.0L282.8 441.7A3.2 3.2 0 0 1 280.6 442.2Z" fill="#ff8020"/>
<path d="M281.0 439.0L280.7 442.2A3.2 3.2 0 0 1 278.6 441.2Z" fill="#ca6060"/>
<path d="M281.0 439.0L278.7 441.3A3.2 3.2 0 0 1 277.8 439.2Z" fill="#9540a0"/>
<path d="M281.0 439.0L277.8 439.3A3.2 3.2 0 0 1 278.4 437.0Z" fill="#6020e0"/>
<path d="M281.0 439.0L278.4 437.1A3.2 3.2 0 0 1 280.3 435.8Z" fill="#9540a0"/>
<path d="M281.0 439.0L280.2 435.9A3.2 3.2 0 0 1 282.5 436.1Z" fill="#ca6060"/>
<path d="M281.0 439.0L282.4 436.1A3.2 3.2 0 0 1 284.0 437.7Z" fill="#ff8020"/>
<path d="M281.0 439.0L283.9 437.6A3.2 3.2 0 0 1 284.1 439.9Z" fill="#ff8020"/>
<path d="M281.0 439.0L284.1 439.9A3.2 3.2 0 0 1 282.8 441.7Z" fill="#ff8020"/>
<path d="M277.4 449.0L274.0 446.3A4.3 4.3 0 0 1 276.7 444.7Z" fill="#d0c890"/>
<path d="M277.4 449.0L276.6 444.8A4.3 4.3 0 0 1 279.6 445.3Z" fill="#ddd295"/>
<path d="M277.4 449.0L279.5 445.2A4.3 4.3 0 0 1 281.5 447.6Z" fill="#eadd9a"/>
<path d="M277.4 449.0L281.4 447.4A4.3 4.3 0 0 1 281.4 450.5Z" fill="#f8e8a0"/>
<path d="M277.4 449.0L281.5 450.4A4.3 4.3 0 0 1 279.5 452.8Z" fill="#a99f70"/>
<path d="M277.4 449.0L279.6 452.7A4.3 4.3 0 0 1 276.6 453.2Z" fill="#5a5640"/>
<path d="M277.4 449.0L276.7 453.3A4.3 4.3 0 0 1 274.1 451.8Z" fill="#0b0d10"/>
<path d="M277.4 449.0L274.2 451.9A4.3 4.3 0 0 1 273.1 449.0Z" fill="#4c4b3a"/>
<path d="M277.4 449.0L273.1 449.1A4.3 4.3 0 0 1 274.1 446.2Z" fill="#8e8965"/>
<path d="M65.1 464.8L57.4 461.4A8.6 7.6 0 0 1 59.0 459.4Z" fill="#f0a818"/>
<path d="M65.1 464.8L58.8 459.6A8.6 7.6 0 0 1 61.1 458.1Z" fill="#ae7710"/>
<path d="M65.1 464.8L60.9 458.2A8.6 7.6 0 0 1 63.5 457.4Z" fill="#6c4608"/>
<path d="M65.1 464.8L63.3 457.4A8.6 7.6 0 0 1 66.1 457.3Z" fill="#2a1600"/>
<path d="M65.1 464.8L65.8 457.3A8.6 7.6 0 0 1 68.6 457.9Z" fill="#715415"/>
<path d="M65.1 464.8L68.3 457.8A8.6 7.6 0 0 1 70.8 459.1Z" fill="#b8922a"/>
<path d="M65.1 464.8L70.6 458.9A8.6 7.6 0 0 1 72.4 460.8Z" fill="#ffd040"/>
<path d="M65.1 464.8L72.3 460.6A8.6 7.6 0 0 1 73.5 462.9Z" fill="#f7ba30"/>
<path d="M65.1 464.8L73.4 462.6A8.6 7.6 0 0 1 73.7 465.1Z" fill="#efa520"/>
<path d="M65.1 464.8L73.7 464.9A8.6 7.6 0 0 1 73.2 467.3Z" fill="#e89010"/>
<path d="M65.1 464.8L73.3 467.1A8.6 7.6 0 0 1 72.0 469.3Z" fill="#dd880d"/>
<path d="M65.1 464.8L72.2 469.1A8.6 7.6 0 0 1 70.2 470.9Z" fill="#d2800a"/>
<path d="M65.1 464.8L70.4 470.8A8.6 7.6 0 0 1 67.9 471.9Z" fill="#c87808"/>
<path d="M65.1 464.8L68.2 471.9A8.6 7.6 0 0 1 65.4 472.4Z" fill="#da951a"/>
<path d="M65.1 464.8L65.7 472.3A8.6 7.6 0 0 1 62.8 472.1Z" fill="#ecb22d"/>
<path d="M65.1 464.8L63.1 472.2A8.6 7.6 0 0 1 60.5 471.2Z" fill="#ffd040"/>
<path d="M65.1 464.8L60.7 471.3A8.6 7.6 0 0 1 58.5 469.7Z" fill="#ad8f30"/>
<path d="M65.1 464.8L58.7 469.9A8.6 7.6 0 0 1 57.2 467.8Z" fill="#5c4e20"/>
<path d="M65.1 464.8L57.3 468.0A8.6 7.6 0 0 1 56.5 465.6Z" fill="#0b0d10"/>
<path d="M65.1 464.8L56.5 465.8A8.6 7.6 0 0 1 56.6 463.4Z" fill="#574012"/>
<path d="M65.1 464.8L56.6 463.6A8.6 7.6 0 0 1 57.5 461.2Z" fill="#a37415"/>
<path d="M65.1 464.8L60.8 463.0A4.8 4.2 0 0 1 62.6 461.3Z" fill="#e89010"/>
<path d="M65.1 464.8L62.5 461.3A4.8 4.2 0 0 1 64.9 460.6Z" fill="#efa520"/>
<path d="M65.1 464.8L64.8 460.7A4.8 4.2 0 0 1 67.3 461.1Z" fill="#f7ba30"/>
<path d="M65.1 464.8L67.2 461.1A4.8 4.2 0 0 1 69.1 462.6Z" fill="#ffd040"/>
<path d="M65.1 464.8L69.1 462.5A4.8 4.2 0 0 1 69.8 464.7Z" fill="#b8922a"/>
<path d="M65.1 464.8L69.8 464.5A4.8 4.2 0 0 1 69.3 466.8Z" fill="#715415"/>
<path d="M65.1 464.8L69.4 466.6A4.8 4.2 0 0 1 67.6 468.3Z" fill="#2a1600"/>
<path d="M65.1 464.8L67.7 468.3A4.8 4.2 0 0 1 65.3 469.0Z" fill="#715c30"/>
<path d="M65.1 464.8L65.4 468.9A4.8 4.2 0 0 1 62.9 468.5Z" fill="#b8a260"/>
<path d="M65.1 464.8L63.0 468.5A4.8 4.2 0 0 1 61.1 467.0Z" fill="#ffe890"/>
<path d="M65.1 464.8L61.1 467.1A4.8 4.2 0 0 1 60.4 464.9Z" fill="#f7ca65"/>
<path d="M65.1 464.8L60.4 465.1A4.8 4.2 0 0 1 60.9 462.8Z" fill="#efad3a"/>
<path d="M65.1 464.8L73.4 467.0A8.6 7.6 0 0 1 72.7 468.4Z" fill="#0a0c10"/>
<path d="M65.1 464.8L67.9 457.6A8.6 7.6 0 0 1 69.4 458.3Z" fill="#0a0c10"/>
<path d="M66.0 466.0L65.5 461.7A4.3 4.3 0 0 1 68.5 462.5Z" fill="#fff080"/>
<path d="M66.0 466.0L68.4 462.4A4.3 4.3 0 0 1 70.2 464.9Z" fill="#fced8a"/>
<path d="M66.0 466.0L70.1 464.7A4.3 4.3 0 0 1 69.9 467.8Z" fill="#faea95"/>
<path d="M66.0 466.0L70.0 467.7A4.3 4.3 0 0 1 67.8 469.9Z" fill="#f8e8a0"/>
<path d="M66.0 466.0L67.9 469.9A4.3 4.3 0 0 1 64.9 470.2Z" fill="#a99f70"/>
<path d="M66.0 466.0L65.0 470.2A4.3 4.3 0 0 1 62.5 468.5Z" fill="#5a5640"/>
<path d="M66.0 466.0L62.5 468.6A4.3 4.3 0 0 1 61.7 465.6Z" fill="#0b0d10"/>
<path d="M66.0 466.0L61.7 465.8A4.3 4.3 0 0 1 62.9 463.0Z" fill="#5c5835"/>
<path d="M66.0 466.0L62.8 463.0A4.3 4.3 0 0 1 65.6 461.7Z" fill="#ada45a"/>
<path d="M61.0 470.0L63.5 471.4A3.2 2.2 0 0 1 61.5 472.1Z" fill="#40e0a0"/>
<path d="M61.0 470.0L61.6 472.1A3.2 2.2 0 0 1 59.3 471.8Z" fill="#7feabf"/>
<path d="M61.0 470.0L59.4 471.9A3.2 2.2 0 0 1 57.9 470.7Z" fill="#bff4df"/>
<path d="M61.0 470.0L58.0 470.7A3.2 2.2 0 0 1 58.0 469.2Z" fill="#ffffff"/>
<path d="M61.0 470.0L58.0 469.3A3.2 2.2 0 0 1 59.5 468.1Z" fill="#b4e2ca"/>
<path d="M61.0 470.0L59.4 468.1A3.2 2.2 0 0 1 61.7 467.9Z" fill="#6ac595"/>
<path d="M61.0 470.0L61.6 467.9A3.2 2.2 0 0 1 63.5 468.7Z" fill="#20a860"/>
<path d="M61.0 470.0L63.5 468.6A3.2 2.2 0 0 1 64.2 470.1Z" fill="#2aba75"/>
<path d="M61.0 470.0L64.2 470.0A3.2 2.2 0 0 1 63.4 471.4Z" fill="#35cd8a"/>
<path d="M206.0 471.0L202.0 470.2A4.3 2.2 0 0 1 204.0 469.1Z" fill="#e89010"/>
<path d="M206.0 471.0L203.9 469.1A4.3 2.2 0 0 1 207.0 468.9Z" fill="#a8670a"/>
<path d="M206.0 471.0L206.8 468.9A4.3 2.2 0 0 1 209.4 469.7Z" fill="#693e05"/>
<path d="M206.0 471.0L209.4 469.6A4.3 2.2 0 0 1 210.3 471.1Z" fill="#2a1600"/>
<path d="M206.0 471.0L210.3 471.0A4.3 2.2 0 0 1 209.2 472.5Z" fill="#1f1305"/>
<path d="M206.0 471.0L209.3 472.4A4.3 2.2 0 0 1 206.5 473.1Z" fill="#15100a"/>
<path d="M206.0 471.0L206.7 473.1A4.3 2.2 0 0 1 203.7 472.8Z" fill="#0b0d10"/>
<path d="M206.0 471.0L203.8 472.8A4.3 2.2 0 0 1 201.9 471.6Z" fill="#543810"/>
<path d="M206.0 471.0L201.9 471.7A4.3 2.2 0 0 1 202.0 470.2Z" fill="#9e6410"/>
<path d="M262.0 471.5L262.6 473.1A4.3 1.6 0 0 1 259.6 472.8Z" fill="#20a0e0"/>
<path d="M262.0 471.5L259.7 472.9A4.3 1.6 0 0 1 257.8 471.9Z" fill="#2ab5d5"/>
<path d="M262.0 471.5L257.9 472.0A4.3 1.6 0 0 1 258.1 470.8Z" fill="#35caca"/>
<path d="M262.0 471.5L258.0 470.9A4.3 1.6 0 0 1 260.1 470.0Z" fill="#40e0c0"/>
<path d="M262.0 471.5L260.0 470.1A4.3 1.6 0 0 1 263.0 469.9Z" fill="#35caca"/>
<path d="M262.0 471.5L262.9 469.9A4.3 1.6 0 0 1 265.5 470.5Z" fill="#2ab5d5"/>
<path d="M262.0 471.5L265.4 470.5A4.3 1.6 0 0 1 266.3 471.6Z" fill="#20a0e0"/>
<path d="M262.0 471.5L266.3 471.6A4.3 1.6 0 0 1 265.1 472.6Z" fill="#20a0e0"/>
<path d="M262.0 471.5L265.2 472.6A4.3 1.6 0 0 1 262.5 473.1Z" fill="#20a0e0"/>
<path d="M128.0 471.5L126.7 469.9A4.3 1.6 0 0 1 129.8 470.0Z" fill="#ffd040"/>
<path d="M128.0 471.5L129.7 470.0A4.3 1.6 0 0 1 131.9 470.8Z" fill="#f7ba30"/>
<path d="M128.0 471.5L131.9 470.8A4.3 1.6 0 0 1 132.2 471.9Z" fill="#efa520"/>
<path d="M128.0 471.5L132.2 471.9A4.3 1.6 0 0 1 130.5 472.8Z" fill="#e89010"/>
<path d="M128.0 471.5L130.6 472.8A4.3 1.6 0 0 1 127.6 473.1Z" fill="#efa520"/>
<path d="M128.0 471.5L127.8 473.1A4.3 1.6 0 0 1 125.0 472.6Z" fill="#f7ba30"/>
<path d="M128.0 471.5L125.0 472.7A4.3 1.6 0 0 1 123.7 471.6Z" fill="#ffd040"/>
<path d="M128.0 471.5L123.7 471.7A4.3 1.6 0 0 1 124.5 470.6Z" fill="#ffd040"/>
<path d="M128.0 471.5L124.4 470.6A4.3 1.6 0 0 1 126.9 469.9Z" fill="#ffd040"/>
<rect x="98.5" y="396.5" width="9.5" height="10.5" fill="#1f9a5c" transform="rotate(-8 103 402)"/><rect x="98.5" y="400" width="9.5" height="1.2" fill="#0c3a24" transform="rotate(-8 103 402)"/><rect x="98.5" y="403.5" width="9.5" height="1.2" fill="#0c3a24" transform="rotate(-8 103 402)"/><ellipse cx="106" cy="408.3" rx="4" ry="1.3" fill="#f4fff8"/>
</g>
<rect x="85.6" y="435.7" width="188.4" height="38" fill="#000"/>
</g>
<text aria-label="Liquid crystal" x="86.8" y="464.9" font-size="32.5" font-family="'Liberation Sans', sans-serif" font-style="italic" font-weight="bold" fill="#fff">L<tspan x="106.4" font-size="28.8">iquid crystal</tspan></text>
<rect x="86" y="468.6" width="188" height="1.6" fill="#fff"/>
</svg>
</body></html>
